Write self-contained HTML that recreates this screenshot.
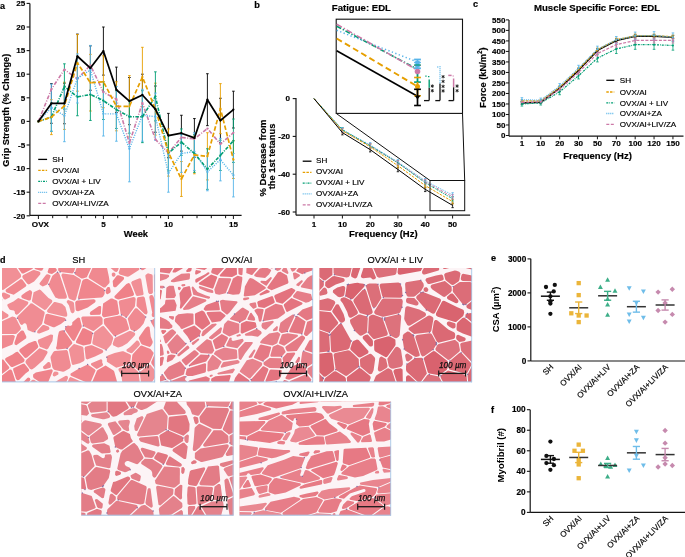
<!DOCTYPE html>
<html><head><meta charset="utf-8"><style>
html,body{margin:0;padding:0;background:#fff;width:685px;height:557px;overflow:hidden}
svg{display:block;filter:blur(0.3px);font-family:"Liberation Sans",sans-serif}
</style></head><body>
<svg width="685" height="557" viewBox="0 0 685 557">
<text x="0.00" y="8.50" font-size="9.0" font-weight="bold" text-anchor="start" fill="#000" stroke="#000" stroke-width="0.18">a</text>
<line x1="29.90" y1="3.40" x2="29.90" y2="215.40" stroke="#151515" stroke-width="1.2"/>
<line x1="29.90" y1="215.40" x2="241.60" y2="215.40" stroke="#151515" stroke-width="1.2"/>
<line x1="26.60" y1="215.80" x2="29.90" y2="215.80" stroke="#151515" stroke-width="1.1"/>
<text x="25.30" y="218.50" font-size="8.1" font-weight="bold" text-anchor="end" fill="#000" stroke="#000" stroke-width="0.18">-20</text>
<line x1="26.60" y1="192.20" x2="29.90" y2="192.20" stroke="#151515" stroke-width="1.1"/>
<text x="25.30" y="194.90" font-size="8.1" font-weight="bold" text-anchor="end" fill="#000" stroke="#000" stroke-width="0.18">-15</text>
<line x1="26.60" y1="168.60" x2="29.90" y2="168.60" stroke="#151515" stroke-width="1.1"/>
<text x="25.30" y="171.30" font-size="8.1" font-weight="bold" text-anchor="end" fill="#000" stroke="#000" stroke-width="0.18">-10</text>
<line x1="26.60" y1="145.00" x2="29.90" y2="145.00" stroke="#151515" stroke-width="1.1"/>
<text x="25.30" y="147.70" font-size="8.1" font-weight="bold" text-anchor="end" fill="#000" stroke="#000" stroke-width="0.18">-5</text>
<line x1="26.60" y1="121.40" x2="29.90" y2="121.40" stroke="#151515" stroke-width="1.1"/>
<text x="25.30" y="124.10" font-size="8.1" font-weight="bold" text-anchor="end" fill="#000" stroke="#000" stroke-width="0.18">0</text>
<line x1="26.60" y1="97.80" x2="29.90" y2="97.80" stroke="#151515" stroke-width="1.1"/>
<text x="25.30" y="100.50" font-size="8.1" font-weight="bold" text-anchor="end" fill="#000" stroke="#000" stroke-width="0.18">5</text>
<line x1="26.60" y1="74.20" x2="29.90" y2="74.20" stroke="#151515" stroke-width="1.1"/>
<text x="25.30" y="76.90" font-size="8.1" font-weight="bold" text-anchor="end" fill="#000" stroke="#000" stroke-width="0.18">10</text>
<line x1="26.60" y1="50.60" x2="29.90" y2="50.60" stroke="#151515" stroke-width="1.1"/>
<text x="25.30" y="53.30" font-size="8.1" font-weight="bold" text-anchor="end" fill="#000" stroke="#000" stroke-width="0.18">15</text>
<line x1="26.60" y1="27.00" x2="29.90" y2="27.00" stroke="#151515" stroke-width="1.1"/>
<text x="25.30" y="29.70" font-size="8.1" font-weight="bold" text-anchor="end" fill="#000" stroke="#000" stroke-width="0.18">20</text>
<line x1="26.60" y1="3.40" x2="29.90" y2="3.40" stroke="#151515" stroke-width="1.1"/>
<text x="25.30" y="6.10" font-size="8.1" font-weight="bold" text-anchor="end" fill="#000" stroke="#000" stroke-width="0.18">25</text>
<line x1="38.40" y1="215.40" x2="38.40" y2="219.00" stroke="#151515" stroke-width="1.0"/>
<line x1="52.70" y1="215.40" x2="52.70" y2="218.20" stroke="#151515" stroke-width="1.0"/>
<line x1="67.00" y1="215.40" x2="67.00" y2="218.20" stroke="#151515" stroke-width="1.0"/>
<line x1="81.30" y1="215.40" x2="81.30" y2="218.20" stroke="#151515" stroke-width="1.0"/>
<line x1="95.60" y1="215.40" x2="95.60" y2="218.20" stroke="#151515" stroke-width="1.0"/>
<line x1="103.40" y1="215.40" x2="103.40" y2="219.00" stroke="#151515" stroke-width="1.0"/>
<line x1="117.70" y1="215.40" x2="117.70" y2="218.20" stroke="#151515" stroke-width="1.0"/>
<line x1="132.00" y1="215.40" x2="132.00" y2="218.20" stroke="#151515" stroke-width="1.0"/>
<line x1="146.30" y1="215.40" x2="146.30" y2="218.20" stroke="#151515" stroke-width="1.0"/>
<line x1="160.60" y1="215.40" x2="160.60" y2="218.20" stroke="#151515" stroke-width="1.0"/>
<line x1="168.40" y1="215.40" x2="168.40" y2="219.00" stroke="#151515" stroke-width="1.0"/>
<line x1="182.70" y1="215.40" x2="182.70" y2="218.20" stroke="#151515" stroke-width="1.0"/>
<line x1="197.00" y1="215.40" x2="197.00" y2="218.20" stroke="#151515" stroke-width="1.0"/>
<line x1="211.30" y1="215.40" x2="211.30" y2="218.20" stroke="#151515" stroke-width="1.0"/>
<line x1="225.60" y1="215.40" x2="225.60" y2="218.20" stroke="#151515" stroke-width="1.0"/>
<line x1="233.40" y1="215.40" x2="233.40" y2="219.00" stroke="#151515" stroke-width="1.0"/>
<text x="40.40" y="226.80" font-size="8.1" font-weight="bold" text-anchor="middle" fill="#000" stroke="#000" stroke-width="0.18">OVX</text>
<text x="103.40" y="226.80" font-size="8.1" font-weight="bold" text-anchor="middle" fill="#000" stroke="#000" stroke-width="0.18">5</text>
<text x="168.40" y="226.80" font-size="8.1" font-weight="bold" text-anchor="middle" fill="#000" stroke="#000" stroke-width="0.18">10</text>
<text x="233.40" y="226.80" font-size="8.1" font-weight="bold" text-anchor="middle" fill="#000" stroke="#000" stroke-width="0.18">15</text>
<text x="135.90" y="237.17" font-size="9.4" font-weight="bold" text-anchor="middle" fill="#000" stroke="#000" stroke-width="0.18">Week</text>
<text x="8.60" y="110.20" font-size="9.25" font-weight="bold" text-anchor="middle" fill="#000" stroke="#000" stroke-width="0.18" transform="rotate(-90 8.60 110.20)">Grip Strength (% Change)</text>
<line x1="51.40" y1="83.64" x2="51.40" y2="123.29" stroke="#000000" stroke-width="0.9"/>
<line x1="50.10" y1="83.64" x2="52.70" y2="83.64" stroke="#000000" stroke-width="0.9"/>
<line x1="50.10" y1="123.29" x2="52.70" y2="123.29" stroke="#000000" stroke-width="0.9"/>
<line x1="64.40" y1="83.17" x2="64.40" y2="123.76" stroke="#000000" stroke-width="0.9"/>
<line x1="63.10" y1="83.17" x2="65.70" y2="83.17" stroke="#000000" stroke-width="0.9"/>
<line x1="63.10" y1="123.76" x2="65.70" y2="123.76" stroke="#000000" stroke-width="0.9"/>
<line x1="77.40" y1="34.08" x2="77.40" y2="78.45" stroke="#000000" stroke-width="0.9"/>
<line x1="76.10" y1="34.08" x2="78.70" y2="34.08" stroke="#000000" stroke-width="0.9"/>
<line x1="76.10" y1="78.45" x2="78.70" y2="78.45" stroke="#000000" stroke-width="0.9"/>
<line x1="90.40" y1="45.88" x2="90.40" y2="90.25" stroke="#000000" stroke-width="0.9"/>
<line x1="89.10" y1="45.88" x2="91.70" y2="45.88" stroke="#000000" stroke-width="0.9"/>
<line x1="89.10" y1="90.25" x2="91.70" y2="90.25" stroke="#000000" stroke-width="0.9"/>
<line x1="103.40" y1="27.00" x2="103.40" y2="75.14" stroke="#000000" stroke-width="0.9"/>
<line x1="102.10" y1="27.00" x2="104.70" y2="27.00" stroke="#000000" stroke-width="0.9"/>
<line x1="102.10" y1="75.14" x2="104.70" y2="75.14" stroke="#000000" stroke-width="0.9"/>
<line x1="116.40" y1="67.12" x2="116.40" y2="112.43" stroke="#000000" stroke-width="0.9"/>
<line x1="115.10" y1="67.12" x2="117.70" y2="67.12" stroke="#000000" stroke-width="0.9"/>
<line x1="115.10" y1="112.43" x2="117.70" y2="112.43" stroke="#000000" stroke-width="0.9"/>
<line x1="129.40" y1="77.50" x2="129.40" y2="124.70" stroke="#000000" stroke-width="0.9"/>
<line x1="128.10" y1="77.50" x2="130.70" y2="77.50" stroke="#000000" stroke-width="0.9"/>
<line x1="128.10" y1="124.70" x2="130.70" y2="124.70" stroke="#000000" stroke-width="0.9"/>
<line x1="142.40" y1="74.20" x2="142.40" y2="115.74" stroke="#000000" stroke-width="0.9"/>
<line x1="141.10" y1="74.20" x2="143.70" y2="74.20" stroke="#000000" stroke-width="0.9"/>
<line x1="141.10" y1="115.74" x2="143.70" y2="115.74" stroke="#000000" stroke-width="0.9"/>
<line x1="155.40" y1="86.00" x2="155.40" y2="132.26" stroke="#000000" stroke-width="0.9"/>
<line x1="154.10" y1="86.00" x2="156.70" y2="86.00" stroke="#000000" stroke-width="0.9"/>
<line x1="154.10" y1="132.26" x2="156.70" y2="132.26" stroke="#000000" stroke-width="0.9"/>
<line x1="168.40" y1="113.38" x2="168.40" y2="157.74" stroke="#000000" stroke-width="0.9"/>
<line x1="167.10" y1="113.38" x2="169.70" y2="113.38" stroke="#000000" stroke-width="0.9"/>
<line x1="167.10" y1="157.74" x2="169.70" y2="157.74" stroke="#000000" stroke-width="0.9"/>
<line x1="181.40" y1="115.26" x2="181.40" y2="151.14" stroke="#000000" stroke-width="0.9"/>
<line x1="180.10" y1="115.26" x2="182.70" y2="115.26" stroke="#000000" stroke-width="0.9"/>
<line x1="180.10" y1="151.14" x2="182.70" y2="151.14" stroke="#000000" stroke-width="0.9"/>
<line x1="194.40" y1="118.57" x2="194.40" y2="157.27" stroke="#000000" stroke-width="0.9"/>
<line x1="193.10" y1="118.57" x2="195.70" y2="118.57" stroke="#000000" stroke-width="0.9"/>
<line x1="193.10" y1="157.27" x2="195.70" y2="157.27" stroke="#000000" stroke-width="0.9"/>
<line x1="207.40" y1="73.73" x2="207.40" y2="125.65" stroke="#000000" stroke-width="0.9"/>
<line x1="206.10" y1="73.73" x2="208.70" y2="73.73" stroke="#000000" stroke-width="0.9"/>
<line x1="206.10" y1="125.65" x2="208.70" y2="125.65" stroke="#000000" stroke-width="0.9"/>
<line x1="220.40" y1="98.27" x2="220.40" y2="142.64" stroke="#000000" stroke-width="0.9"/>
<line x1="219.10" y1="98.27" x2="221.70" y2="98.27" stroke="#000000" stroke-width="0.9"/>
<line x1="219.10" y1="142.64" x2="221.70" y2="142.64" stroke="#000000" stroke-width="0.9"/>
<line x1="233.40" y1="91.19" x2="233.40" y2="128.01" stroke="#000000" stroke-width="0.9"/>
<line x1="232.10" y1="91.19" x2="234.70" y2="91.19" stroke="#000000" stroke-width="0.9"/>
<line x1="232.10" y1="128.01" x2="234.70" y2="128.01" stroke="#000000" stroke-width="0.9"/>
<line x1="51.40" y1="99.69" x2="51.40" y2="134.62" stroke="#E69F00" stroke-width="0.9"/>
<line x1="50.10" y1="99.69" x2="52.70" y2="99.69" stroke="#E69F00" stroke-width="0.9"/>
<line x1="50.10" y1="134.62" x2="52.70" y2="134.62" stroke="#E69F00" stroke-width="0.9"/>
<line x1="64.40" y1="82.22" x2="64.40" y2="129.42" stroke="#E69F00" stroke-width="0.9"/>
<line x1="63.10" y1="82.22" x2="65.70" y2="82.22" stroke="#E69F00" stroke-width="0.9"/>
<line x1="63.10" y1="129.42" x2="65.70" y2="129.42" stroke="#E69F00" stroke-width="0.9"/>
<line x1="77.40" y1="34.55" x2="77.40" y2="91.19" stroke="#E69F00" stroke-width="0.9"/>
<line x1="76.10" y1="34.55" x2="78.70" y2="34.55" stroke="#E69F00" stroke-width="0.9"/>
<line x1="76.10" y1="91.19" x2="78.70" y2="91.19" stroke="#E69F00" stroke-width="0.9"/>
<line x1="90.40" y1="54.38" x2="90.40" y2="111.02" stroke="#E69F00" stroke-width="0.9"/>
<line x1="89.10" y1="54.38" x2="91.70" y2="54.38" stroke="#E69F00" stroke-width="0.9"/>
<line x1="89.10" y1="111.02" x2="91.70" y2="111.02" stroke="#E69F00" stroke-width="0.9"/>
<line x1="103.40" y1="55.79" x2="103.40" y2="107.71" stroke="#E69F00" stroke-width="0.9"/>
<line x1="102.10" y1="55.79" x2="104.70" y2="55.79" stroke="#E69F00" stroke-width="0.9"/>
<line x1="102.10" y1="107.71" x2="104.70" y2="107.71" stroke="#E69F00" stroke-width="0.9"/>
<line x1="116.40" y1="81.75" x2="116.40" y2="130.84" stroke="#E69F00" stroke-width="0.9"/>
<line x1="115.10" y1="81.75" x2="117.70" y2="81.75" stroke="#E69F00" stroke-width="0.9"/>
<line x1="115.10" y1="130.84" x2="117.70" y2="130.84" stroke="#E69F00" stroke-width="0.9"/>
<line x1="129.40" y1="75.62" x2="129.40" y2="136.98" stroke="#E69F00" stroke-width="0.9"/>
<line x1="128.10" y1="75.62" x2="130.70" y2="75.62" stroke="#E69F00" stroke-width="0.9"/>
<line x1="128.10" y1="136.98" x2="130.70" y2="136.98" stroke="#E69F00" stroke-width="0.9"/>
<line x1="142.40" y1="47.30" x2="142.40" y2="106.77" stroke="#E69F00" stroke-width="0.9"/>
<line x1="141.10" y1="47.30" x2="143.70" y2="47.30" stroke="#E69F00" stroke-width="0.9"/>
<line x1="141.10" y1="106.77" x2="143.70" y2="106.77" stroke="#E69F00" stroke-width="0.9"/>
<line x1="155.40" y1="83.17" x2="155.40" y2="135.09" stroke="#E69F00" stroke-width="0.9"/>
<line x1="154.10" y1="83.17" x2="156.70" y2="83.17" stroke="#E69F00" stroke-width="0.9"/>
<line x1="154.10" y1="135.09" x2="156.70" y2="135.09" stroke="#E69F00" stroke-width="0.9"/>
<line x1="168.40" y1="128.95" x2="168.40" y2="176.15" stroke="#E69F00" stroke-width="0.9"/>
<line x1="167.10" y1="128.95" x2="169.70" y2="128.95" stroke="#E69F00" stroke-width="0.9"/>
<line x1="167.10" y1="176.15" x2="169.70" y2="176.15" stroke="#E69F00" stroke-width="0.9"/>
<line x1="181.40" y1="161.52" x2="181.40" y2="196.45" stroke="#E69F00" stroke-width="0.9"/>
<line x1="180.10" y1="161.52" x2="182.70" y2="161.52" stroke="#E69F00" stroke-width="0.9"/>
<line x1="180.10" y1="196.45" x2="182.70" y2="196.45" stroke="#E69F00" stroke-width="0.9"/>
<line x1="194.40" y1="136.03" x2="194.40" y2="173.79" stroke="#E69F00" stroke-width="0.9"/>
<line x1="193.10" y1="136.03" x2="195.70" y2="136.03" stroke="#E69F00" stroke-width="0.9"/>
<line x1="193.10" y1="173.79" x2="195.70" y2="173.79" stroke="#E69F00" stroke-width="0.9"/>
<line x1="207.40" y1="132.73" x2="207.40" y2="179.93" stroke="#E69F00" stroke-width="0.9"/>
<line x1="206.10" y1="132.73" x2="208.70" y2="132.73" stroke="#E69F00" stroke-width="0.9"/>
<line x1="206.10" y1="179.93" x2="208.70" y2="179.93" stroke="#E69F00" stroke-width="0.9"/>
<line x1="220.40" y1="83.64" x2="220.40" y2="133.67" stroke="#E69F00" stroke-width="0.9"/>
<line x1="219.10" y1="83.64" x2="221.70" y2="83.64" stroke="#E69F00" stroke-width="0.9"/>
<line x1="219.10" y1="133.67" x2="221.70" y2="133.67" stroke="#E69F00" stroke-width="0.9"/>
<line x1="233.40" y1="140.75" x2="233.40" y2="178.51" stroke="#E69F00" stroke-width="0.9"/>
<line x1="232.10" y1="140.75" x2="234.70" y2="140.75" stroke="#E69F00" stroke-width="0.9"/>
<line x1="232.10" y1="178.51" x2="234.70" y2="178.51" stroke="#E69F00" stroke-width="0.9"/>
<line x1="51.40" y1="102.99" x2="51.40" y2="131.31" stroke="#009E73" stroke-width="0.9"/>
<line x1="50.10" y1="102.99" x2="52.70" y2="102.99" stroke="#009E73" stroke-width="0.9"/>
<line x1="50.10" y1="131.31" x2="52.70" y2="131.31" stroke="#009E73" stroke-width="0.9"/>
<line x1="64.40" y1="63.82" x2="64.40" y2="109.13" stroke="#009E73" stroke-width="0.9"/>
<line x1="63.10" y1="63.82" x2="65.70" y2="63.82" stroke="#009E73" stroke-width="0.9"/>
<line x1="63.10" y1="109.13" x2="65.70" y2="109.13" stroke="#009E73" stroke-width="0.9"/>
<line x1="77.40" y1="77.98" x2="77.40" y2="115.74" stroke="#009E73" stroke-width="0.9"/>
<line x1="76.10" y1="77.98" x2="78.70" y2="77.98" stroke="#009E73" stroke-width="0.9"/>
<line x1="76.10" y1="115.74" x2="78.70" y2="115.74" stroke="#009E73" stroke-width="0.9"/>
<line x1="90.40" y1="68.54" x2="90.40" y2="120.46" stroke="#009E73" stroke-width="0.9"/>
<line x1="89.10" y1="68.54" x2="91.70" y2="68.54" stroke="#009E73" stroke-width="0.9"/>
<line x1="89.10" y1="120.46" x2="91.70" y2="120.46" stroke="#009E73" stroke-width="0.9"/>
<line x1="103.40" y1="81.75" x2="103.40" y2="119.51" stroke="#009E73" stroke-width="0.9"/>
<line x1="102.10" y1="81.75" x2="104.70" y2="81.75" stroke="#009E73" stroke-width="0.9"/>
<line x1="102.10" y1="119.51" x2="104.70" y2="119.51" stroke="#009E73" stroke-width="0.9"/>
<line x1="116.40" y1="90.72" x2="116.40" y2="128.48" stroke="#009E73" stroke-width="0.9"/>
<line x1="115.10" y1="90.72" x2="117.70" y2="90.72" stroke="#009E73" stroke-width="0.9"/>
<line x1="115.10" y1="128.48" x2="117.70" y2="128.48" stroke="#009E73" stroke-width="0.9"/>
<line x1="129.40" y1="100.16" x2="129.40" y2="133.20" stroke="#009E73" stroke-width="0.9"/>
<line x1="128.10" y1="100.16" x2="130.70" y2="100.16" stroke="#009E73" stroke-width="0.9"/>
<line x1="128.10" y1="133.20" x2="130.70" y2="133.20" stroke="#009E73" stroke-width="0.9"/>
<line x1="142.40" y1="90.72" x2="142.40" y2="142.64" stroke="#009E73" stroke-width="0.9"/>
<line x1="141.10" y1="90.72" x2="143.70" y2="90.72" stroke="#009E73" stroke-width="0.9"/>
<line x1="141.10" y1="142.64" x2="143.70" y2="142.64" stroke="#009E73" stroke-width="0.9"/>
<line x1="155.40" y1="71.84" x2="155.40" y2="120.93" stroke="#009E73" stroke-width="0.9"/>
<line x1="154.10" y1="71.84" x2="156.70" y2="71.84" stroke="#009E73" stroke-width="0.9"/>
<line x1="154.10" y1="120.93" x2="156.70" y2="120.93" stroke="#009E73" stroke-width="0.9"/>
<line x1="168.40" y1="135.09" x2="168.40" y2="170.96" stroke="#009E73" stroke-width="0.9"/>
<line x1="167.10" y1="135.09" x2="169.70" y2="135.09" stroke="#009E73" stroke-width="0.9"/>
<line x1="167.10" y1="170.96" x2="169.70" y2="170.96" stroke="#009E73" stroke-width="0.9"/>
<line x1="181.40" y1="128.95" x2="181.40" y2="155.38" stroke="#009E73" stroke-width="0.9"/>
<line x1="180.10" y1="128.95" x2="182.70" y2="128.95" stroke="#009E73" stroke-width="0.9"/>
<line x1="180.10" y1="155.38" x2="182.70" y2="155.38" stroke="#009E73" stroke-width="0.9"/>
<line x1="194.40" y1="134.62" x2="194.40" y2="172.38" stroke="#009E73" stroke-width="0.9"/>
<line x1="193.10" y1="134.62" x2="195.70" y2="134.62" stroke="#009E73" stroke-width="0.9"/>
<line x1="193.10" y1="172.38" x2="195.70" y2="172.38" stroke="#009E73" stroke-width="0.9"/>
<line x1="207.40" y1="148.78" x2="207.40" y2="189.37" stroke="#009E73" stroke-width="0.9"/>
<line x1="206.10" y1="148.78" x2="208.70" y2="148.78" stroke="#009E73" stroke-width="0.9"/>
<line x1="206.10" y1="189.37" x2="208.70" y2="189.37" stroke="#009E73" stroke-width="0.9"/>
<line x1="220.40" y1="140.28" x2="220.40" y2="170.49" stroke="#009E73" stroke-width="0.9"/>
<line x1="219.10" y1="140.28" x2="221.70" y2="140.28" stroke="#009E73" stroke-width="0.9"/>
<line x1="219.10" y1="170.49" x2="221.70" y2="170.49" stroke="#009E73" stroke-width="0.9"/>
<line x1="233.40" y1="119.04" x2="233.40" y2="162.46" stroke="#009E73" stroke-width="0.9"/>
<line x1="232.10" y1="119.04" x2="234.70" y2="119.04" stroke="#009E73" stroke-width="0.9"/>
<line x1="232.10" y1="162.46" x2="234.70" y2="162.46" stroke="#009E73" stroke-width="0.9"/>
<line x1="51.40" y1="84.11" x2="51.40" y2="131.31" stroke="#56B4E9" stroke-width="0.9"/>
<line x1="50.10" y1="84.11" x2="52.70" y2="84.11" stroke="#56B4E9" stroke-width="0.9"/>
<line x1="50.10" y1="131.31" x2="52.70" y2="131.31" stroke="#56B4E9" stroke-width="0.9"/>
<line x1="64.40" y1="89.78" x2="64.40" y2="141.70" stroke="#56B4E9" stroke-width="0.9"/>
<line x1="63.10" y1="89.78" x2="65.70" y2="89.78" stroke="#56B4E9" stroke-width="0.9"/>
<line x1="63.10" y1="141.70" x2="65.70" y2="141.70" stroke="#56B4E9" stroke-width="0.9"/>
<line x1="77.40" y1="53.90" x2="77.40" y2="102.99" stroke="#56B4E9" stroke-width="0.9"/>
<line x1="76.10" y1="53.90" x2="78.70" y2="53.90" stroke="#56B4E9" stroke-width="0.9"/>
<line x1="76.10" y1="102.99" x2="78.70" y2="102.99" stroke="#56B4E9" stroke-width="0.9"/>
<line x1="90.40" y1="45.41" x2="90.40" y2="94.50" stroke="#56B4E9" stroke-width="0.9"/>
<line x1="89.10" y1="45.41" x2="91.70" y2="45.41" stroke="#56B4E9" stroke-width="0.9"/>
<line x1="89.10" y1="94.50" x2="91.70" y2="94.50" stroke="#56B4E9" stroke-width="0.9"/>
<line x1="103.40" y1="91.66" x2="103.40" y2="136.03" stroke="#56B4E9" stroke-width="0.9"/>
<line x1="102.10" y1="91.66" x2="104.70" y2="91.66" stroke="#56B4E9" stroke-width="0.9"/>
<line x1="102.10" y1="136.03" x2="104.70" y2="136.03" stroke="#56B4E9" stroke-width="0.9"/>
<line x1="116.40" y1="86.47" x2="116.40" y2="141.22" stroke="#56B4E9" stroke-width="0.9"/>
<line x1="115.10" y1="86.47" x2="117.70" y2="86.47" stroke="#56B4E9" stroke-width="0.9"/>
<line x1="115.10" y1="141.22" x2="117.70" y2="141.22" stroke="#56B4E9" stroke-width="0.9"/>
<line x1="129.40" y1="115.74" x2="129.40" y2="181.82" stroke="#56B4E9" stroke-width="0.9"/>
<line x1="128.10" y1="115.74" x2="130.70" y2="115.74" stroke="#56B4E9" stroke-width="0.9"/>
<line x1="128.10" y1="181.82" x2="130.70" y2="181.82" stroke="#56B4E9" stroke-width="0.9"/>
<line x1="142.40" y1="89.30" x2="142.40" y2="141.22" stroke="#56B4E9" stroke-width="0.9"/>
<line x1="141.10" y1="89.30" x2="143.70" y2="89.30" stroke="#56B4E9" stroke-width="0.9"/>
<line x1="141.10" y1="141.22" x2="143.70" y2="141.22" stroke="#56B4E9" stroke-width="0.9"/>
<line x1="155.40" y1="93.08" x2="155.40" y2="140.28" stroke="#56B4E9" stroke-width="0.9"/>
<line x1="154.10" y1="93.08" x2="156.70" y2="93.08" stroke="#56B4E9" stroke-width="0.9"/>
<line x1="154.10" y1="140.28" x2="156.70" y2="140.28" stroke="#56B4E9" stroke-width="0.9"/>
<line x1="168.40" y1="154.44" x2="168.40" y2="192.20" stroke="#56B4E9" stroke-width="0.9"/>
<line x1="167.10" y1="154.44" x2="169.70" y2="154.44" stroke="#56B4E9" stroke-width="0.9"/>
<line x1="167.10" y1="192.20" x2="169.70" y2="192.20" stroke="#56B4E9" stroke-width="0.9"/>
<line x1="181.40" y1="134.62" x2="181.40" y2="172.38" stroke="#56B4E9" stroke-width="0.9"/>
<line x1="180.10" y1="134.62" x2="182.70" y2="134.62" stroke="#56B4E9" stroke-width="0.9"/>
<line x1="180.10" y1="172.38" x2="182.70" y2="172.38" stroke="#56B4E9" stroke-width="0.9"/>
<line x1="194.40" y1="132.73" x2="194.40" y2="170.49" stroke="#56B4E9" stroke-width="0.9"/>
<line x1="193.10" y1="132.73" x2="195.70" y2="132.73" stroke="#56B4E9" stroke-width="0.9"/>
<line x1="193.10" y1="170.49" x2="195.70" y2="170.49" stroke="#56B4E9" stroke-width="0.9"/>
<line x1="207.40" y1="153.02" x2="207.40" y2="190.78" stroke="#56B4E9" stroke-width="0.9"/>
<line x1="206.10" y1="153.02" x2="208.70" y2="153.02" stroke="#56B4E9" stroke-width="0.9"/>
<line x1="206.10" y1="190.78" x2="208.70" y2="190.78" stroke="#56B4E9" stroke-width="0.9"/>
<line x1="220.40" y1="138.39" x2="220.40" y2="180.87" stroke="#56B4E9" stroke-width="0.9"/>
<line x1="219.10" y1="138.39" x2="221.70" y2="138.39" stroke="#56B4E9" stroke-width="0.9"/>
<line x1="219.10" y1="180.87" x2="221.70" y2="180.87" stroke="#56B4E9" stroke-width="0.9"/>
<line x1="233.40" y1="153.50" x2="233.40" y2="196.92" stroke="#56B4E9" stroke-width="0.9"/>
<line x1="232.10" y1="153.50" x2="234.70" y2="153.50" stroke="#56B4E9" stroke-width="0.9"/>
<line x1="232.10" y1="196.92" x2="234.70" y2="196.92" stroke="#56B4E9" stroke-width="0.9"/>
<polyline points="38.40,121.40 51.40,89.30 64.40,69.48 77.40,78.92 90.40,65.23 103.40,92.14 116.40,99.22 129.40,143.11 142.40,102.99 155.40,139.34 168.40,153.02 181.40,137.45 194.40,138.86 207.40,128.48 220.40,144.06 233.40,132.73" fill="none" stroke="#CC79A7" stroke-width="1.6" stroke-dasharray="4 1.5 1 1.5" stroke-linejoin="round"/>
<circle cx="38.40" cy="121.40" r="1.1" fill="#CC79A7"/>
<circle cx="51.40" cy="89.30" r="1.1" fill="#CC79A7"/>
<circle cx="64.40" cy="69.48" r="1.1" fill="#CC79A7"/>
<circle cx="77.40" cy="78.92" r="1.1" fill="#CC79A7"/>
<circle cx="90.40" cy="65.23" r="1.1" fill="#CC79A7"/>
<circle cx="103.40" cy="92.14" r="1.1" fill="#CC79A7"/>
<circle cx="116.40" cy="99.22" r="1.1" fill="#CC79A7"/>
<circle cx="129.40" cy="143.11" r="1.1" fill="#CC79A7"/>
<circle cx="142.40" cy="102.99" r="1.1" fill="#CC79A7"/>
<circle cx="155.40" cy="139.34" r="1.1" fill="#CC79A7"/>
<circle cx="168.40" cy="153.02" r="1.1" fill="#CC79A7"/>
<circle cx="181.40" cy="137.45" r="1.1" fill="#CC79A7"/>
<circle cx="194.40" cy="138.86" r="1.1" fill="#CC79A7"/>
<circle cx="207.40" cy="128.48" r="1.1" fill="#CC79A7"/>
<circle cx="220.40" cy="144.06" r="1.1" fill="#CC79A7"/>
<circle cx="233.40" cy="132.73" r="1.1" fill="#CC79A7"/>
<polyline points="38.40,121.40 51.40,107.71 64.40,115.74 77.40,78.45 90.40,69.95 103.40,113.85 116.40,113.85 129.40,148.78 142.40,115.26 155.40,116.68 168.40,173.32 181.40,153.50 194.40,151.61 207.40,171.90 220.40,159.63 233.40,175.21" fill="none" stroke="#56B4E9" stroke-width="1.4" stroke-dasharray="1.1 1.3" stroke-linejoin="round"/>
<circle cx="38.40" cy="121.40" r="1.1" fill="#56B4E9"/>
<circle cx="51.40" cy="107.71" r="1.1" fill="#56B4E9"/>
<circle cx="64.40" cy="115.74" r="1.1" fill="#56B4E9"/>
<circle cx="77.40" cy="78.45" r="1.1" fill="#56B4E9"/>
<circle cx="90.40" cy="69.95" r="1.1" fill="#56B4E9"/>
<circle cx="103.40" cy="113.85" r="1.1" fill="#56B4E9"/>
<circle cx="116.40" cy="113.85" r="1.1" fill="#56B4E9"/>
<circle cx="129.40" cy="148.78" r="1.1" fill="#56B4E9"/>
<circle cx="142.40" cy="115.26" r="1.1" fill="#56B4E9"/>
<circle cx="155.40" cy="116.68" r="1.1" fill="#56B4E9"/>
<circle cx="168.40" cy="173.32" r="1.1" fill="#56B4E9"/>
<circle cx="181.40" cy="153.50" r="1.1" fill="#56B4E9"/>
<circle cx="194.40" cy="151.61" r="1.1" fill="#56B4E9"/>
<circle cx="207.40" cy="171.90" r="1.1" fill="#56B4E9"/>
<circle cx="220.40" cy="159.63" r="1.1" fill="#56B4E9"/>
<circle cx="233.40" cy="175.21" r="1.1" fill="#56B4E9"/>
<polyline points="38.40,121.40 51.40,117.15 64.40,86.47 77.40,96.86 90.40,94.50 103.40,100.63 116.40,109.60 129.40,116.68 142.40,116.68 155.40,96.38 168.40,153.02 181.40,142.17 194.40,153.50 207.40,169.07 220.40,155.38 233.40,140.75" fill="none" stroke="#009E73" stroke-width="1.6" stroke-dasharray="3.5 1.3 1 1.3" stroke-linejoin="round"/>
<circle cx="38.40" cy="121.40" r="1.1" fill="#009E73"/>
<circle cx="51.40" cy="117.15" r="1.1" fill="#009E73"/>
<circle cx="64.40" cy="86.47" r="1.1" fill="#009E73"/>
<circle cx="77.40" cy="96.86" r="1.1" fill="#009E73"/>
<circle cx="90.40" cy="94.50" r="1.1" fill="#009E73"/>
<circle cx="103.40" cy="100.63" r="1.1" fill="#009E73"/>
<circle cx="116.40" cy="109.60" r="1.1" fill="#009E73"/>
<circle cx="129.40" cy="116.68" r="1.1" fill="#009E73"/>
<circle cx="142.40" cy="116.68" r="1.1" fill="#009E73"/>
<circle cx="155.40" cy="96.38" r="1.1" fill="#009E73"/>
<circle cx="168.40" cy="153.02" r="1.1" fill="#009E73"/>
<circle cx="181.40" cy="142.17" r="1.1" fill="#009E73"/>
<circle cx="194.40" cy="153.50" r="1.1" fill="#009E73"/>
<circle cx="207.40" cy="169.07" r="1.1" fill="#009E73"/>
<circle cx="220.40" cy="155.38" r="1.1" fill="#009E73"/>
<circle cx="233.40" cy="140.75" r="1.1" fill="#009E73"/>
<polyline points="38.40,121.40 51.40,117.15 64.40,105.82 77.40,62.87 90.40,82.70 103.40,81.75 116.40,106.30 129.40,106.30 142.40,77.03 155.40,109.13 168.40,152.55 181.40,178.98 194.40,154.91 207.40,156.33 220.40,108.66 233.40,159.63" fill="none" stroke="#E69F00" stroke-width="1.7" stroke-dasharray="4.5 2.2" stroke-linejoin="round"/>
<circle cx="38.40" cy="121.40" r="1.1" fill="#E69F00"/>
<circle cx="51.40" cy="117.15" r="1.1" fill="#E69F00"/>
<circle cx="64.40" cy="105.82" r="1.1" fill="#E69F00"/>
<circle cx="77.40" cy="62.87" r="1.1" fill="#E69F00"/>
<circle cx="90.40" cy="82.70" r="1.1" fill="#E69F00"/>
<circle cx="103.40" cy="81.75" r="1.1" fill="#E69F00"/>
<circle cx="116.40" cy="106.30" r="1.1" fill="#E69F00"/>
<circle cx="129.40" cy="106.30" r="1.1" fill="#E69F00"/>
<circle cx="142.40" cy="77.03" r="1.1" fill="#E69F00"/>
<circle cx="155.40" cy="109.13" r="1.1" fill="#E69F00"/>
<circle cx="168.40" cy="152.55" r="1.1" fill="#E69F00"/>
<circle cx="181.40" cy="178.98" r="1.1" fill="#E69F00"/>
<circle cx="194.40" cy="154.91" r="1.1" fill="#E69F00"/>
<circle cx="207.40" cy="156.33" r="1.1" fill="#E69F00"/>
<circle cx="220.40" cy="108.66" r="1.1" fill="#E69F00"/>
<circle cx="233.40" cy="159.63" r="1.1" fill="#E69F00"/>
<polyline points="38.40,121.40 51.40,103.46 64.40,103.46 77.40,56.26 90.40,68.06 103.40,51.07 116.40,89.78 129.40,101.10 142.40,94.97 155.40,109.13 168.40,135.56 181.40,133.20 194.40,137.92 207.40,99.69 220.40,120.46 233.40,109.60" fill="none" stroke="#000000" stroke-width="1.75" stroke-linejoin="round"/>
<circle cx="38.40" cy="121.40" r="1.1" fill="#000000"/>
<circle cx="51.40" cy="103.46" r="1.1" fill="#000000"/>
<circle cx="64.40" cy="103.46" r="1.1" fill="#000000"/>
<circle cx="77.40" cy="56.26" r="1.1" fill="#000000"/>
<circle cx="90.40" cy="68.06" r="1.1" fill="#000000"/>
<circle cx="103.40" cy="51.07" r="1.1" fill="#000000"/>
<circle cx="116.40" cy="89.78" r="1.1" fill="#000000"/>
<circle cx="129.40" cy="101.10" r="1.1" fill="#000000"/>
<circle cx="142.40" cy="94.97" r="1.1" fill="#000000"/>
<circle cx="155.40" cy="109.13" r="1.1" fill="#000000"/>
<circle cx="168.40" cy="135.56" r="1.1" fill="#000000"/>
<circle cx="181.40" cy="133.20" r="1.1" fill="#000000"/>
<circle cx="194.40" cy="137.92" r="1.1" fill="#000000"/>
<circle cx="207.40" cy="99.69" r="1.1" fill="#000000"/>
<circle cx="220.40" cy="120.46" r="1.1" fill="#000000"/>
<circle cx="233.40" cy="109.60" r="1.1" fill="#000000"/>
<line x1="38.20" y1="159.40" x2="47.10" y2="159.40" stroke="#000000" stroke-width="1.3"/>
<text x="52.30" y="161.90" font-size="8.1" font-weight="normal" text-anchor="start" fill="#000" stroke="#000" stroke-width="0.18">SH</text>
<line x1="38.20" y1="170.40" x2="47.10" y2="170.40" stroke="#E69F00" stroke-width="1.3" stroke-dasharray="2.5 1.2"/>
<text x="52.30" y="172.90" font-size="8.1" font-weight="normal" text-anchor="start" fill="#000" stroke="#000" stroke-width="0.18">OVX/AI</text>
<line x1="38.20" y1="181.40" x2="47.10" y2="181.40" stroke="#009E73" stroke-width="1.3" stroke-dasharray="2 1 0.8 1"/>
<text x="52.30" y="183.90" font-size="8.1" font-weight="normal" text-anchor="start" fill="#000" stroke="#000" stroke-width="0.18">OVX/AI + LIV</text>
<line x1="38.20" y1="192.40" x2="47.10" y2="192.40" stroke="#56B4E9" stroke-width="1.3" stroke-dasharray="1 1"/>
<text x="52.30" y="194.90" font-size="8.1" font-weight="normal" text-anchor="start" fill="#000" stroke="#000" stroke-width="0.18">OVX/AI+ZA</text>
<line x1="38.20" y1="203.40" x2="47.10" y2="203.40" stroke="#CC79A7" stroke-width="1.3" stroke-dasharray="3 1.5"/>
<text x="52.30" y="205.90" font-size="8.1" font-weight="normal" text-anchor="start" fill="#000" stroke="#000" stroke-width="0.18">OVX/AI+LIV/ZA</text>
<text x="254.30" y="8.40" font-size="9.2" font-weight="bold" text-anchor="start" fill="#000" stroke="#000" stroke-width="0.18">b</text>
<text x="361.40" y="10.94" font-size="9.6" font-weight="bold" text-anchor="middle" fill="#000" stroke="#000" stroke-width="0.18">Fatigue: EDL</text>
<line x1="296.00" y1="98.10" x2="296.00" y2="215.20" stroke="#151515" stroke-width="1.2"/>
<line x1="296.00" y1="215.20" x2="470.20" y2="215.20" stroke="#151515" stroke-width="1.2"/>
<line x1="292.70" y1="98.60" x2="296.00" y2="98.60" stroke="#151515" stroke-width="1.1"/>
<text x="290.00" y="101.30" font-size="8.1" font-weight="bold" text-anchor="end" fill="#000" stroke="#000" stroke-width="0.18">0</text>
<line x1="292.70" y1="136.40" x2="296.00" y2="136.40" stroke="#151515" stroke-width="1.1"/>
<text x="290.00" y="139.10" font-size="8.1" font-weight="bold" text-anchor="end" fill="#000" stroke="#000" stroke-width="0.18">-20</text>
<line x1="292.70" y1="174.20" x2="296.00" y2="174.20" stroke="#151515" stroke-width="1.1"/>
<text x="290.00" y="176.90" font-size="8.1" font-weight="bold" text-anchor="end" fill="#000" stroke="#000" stroke-width="0.18">-40</text>
<line x1="292.70" y1="212.00" x2="296.00" y2="212.00" stroke="#151515" stroke-width="1.1"/>
<text x="290.00" y="214.70" font-size="8.1" font-weight="bold" text-anchor="end" fill="#000" stroke="#000" stroke-width="0.18">-60</text>
<line x1="314.00" y1="215.20" x2="314.00" y2="218.50" stroke="#151515" stroke-width="1.0"/>
<text x="314.00" y="227.00" font-size="8.1" font-weight="bold" text-anchor="middle" fill="#000" stroke="#000" stroke-width="0.18">1</text>
<line x1="342.40" y1="215.20" x2="342.40" y2="218.50" stroke="#151515" stroke-width="1.0"/>
<text x="342.40" y="227.00" font-size="8.1" font-weight="bold" text-anchor="middle" fill="#000" stroke="#000" stroke-width="0.18">10</text>
<line x1="370.20" y1="215.20" x2="370.20" y2="218.50" stroke="#151515" stroke-width="1.0"/>
<text x="370.20" y="227.00" font-size="8.1" font-weight="bold" text-anchor="middle" fill="#000" stroke="#000" stroke-width="0.18">20</text>
<line x1="397.90" y1="215.20" x2="397.90" y2="218.50" stroke="#151515" stroke-width="1.0"/>
<text x="397.90" y="227.00" font-size="8.1" font-weight="bold" text-anchor="middle" fill="#000" stroke="#000" stroke-width="0.18">30</text>
<line x1="425.20" y1="215.20" x2="425.20" y2="218.50" stroke="#151515" stroke-width="1.0"/>
<text x="425.20" y="227.00" font-size="8.1" font-weight="bold" text-anchor="middle" fill="#000" stroke="#000" stroke-width="0.18">40</text>
<line x1="452.60" y1="215.20" x2="452.60" y2="218.50" stroke="#151515" stroke-width="1.0"/>
<text x="452.60" y="227.00" font-size="8.1" font-weight="bold" text-anchor="middle" fill="#000" stroke="#000" stroke-width="0.18">50</text>
<text x="383.30" y="236.50" font-size="9.5" font-weight="bold" text-anchor="middle" fill="#000" stroke="#000" stroke-width="0.18">Frequency (Hz)</text>
<text x="266.20" y="158.00" font-size="9.5" font-weight="bold" text-anchor="middle" fill="#000" stroke="#000" stroke-width="0.18" transform="rotate(-90 266.20 158.00)">% Decrease from</text>
<text x="275.40" y="156.50" font-size="9.3" font-weight="bold" text-anchor="middle" fill="#000" stroke="#000" stroke-width="0.18" transform="rotate(-90 275.40 156.50)">the 1st tetanus</text>
<line x1="342.40" y1="130.35" x2="342.40" y2="134.89" stroke="#000000" stroke-width="0.8"/>
<line x1="341.20" y1="130.35" x2="343.60" y2="130.35" stroke="#000000" stroke-width="0.8"/>
<line x1="341.20" y1="134.89" x2="343.60" y2="134.89" stroke="#000000" stroke-width="0.8"/>
<line x1="370.20" y1="147.36" x2="370.20" y2="151.90" stroke="#000000" stroke-width="0.8"/>
<line x1="369.00" y1="147.36" x2="371.40" y2="147.36" stroke="#000000" stroke-width="0.8"/>
<line x1="369.00" y1="151.90" x2="371.40" y2="151.90" stroke="#000000" stroke-width="0.8"/>
<line x1="397.90" y1="167.21" x2="397.90" y2="171.74" stroke="#000000" stroke-width="0.8"/>
<line x1="396.70" y1="167.21" x2="399.10" y2="167.21" stroke="#000000" stroke-width="0.8"/>
<line x1="396.70" y1="171.74" x2="399.10" y2="171.74" stroke="#000000" stroke-width="0.8"/>
<line x1="425.20" y1="187.05" x2="425.20" y2="191.59" stroke="#000000" stroke-width="0.8"/>
<line x1="424.00" y1="187.05" x2="426.40" y2="187.05" stroke="#000000" stroke-width="0.8"/>
<line x1="424.00" y1="191.59" x2="426.40" y2="191.59" stroke="#000000" stroke-width="0.8"/>
<line x1="452.60" y1="203.12" x2="452.60" y2="207.65" stroke="#000000" stroke-width="0.8"/>
<line x1="451.40" y1="203.12" x2="453.80" y2="203.12" stroke="#000000" stroke-width="0.8"/>
<line x1="451.40" y1="207.65" x2="453.80" y2="207.65" stroke="#000000" stroke-width="0.8"/>
<line x1="342.40" y1="128.46" x2="342.40" y2="133.00" stroke="#E69F00" stroke-width="0.8"/>
<line x1="341.20" y1="128.46" x2="343.60" y2="128.46" stroke="#E69F00" stroke-width="0.8"/>
<line x1="341.20" y1="133.00" x2="343.60" y2="133.00" stroke="#E69F00" stroke-width="0.8"/>
<line x1="370.20" y1="144.53" x2="370.20" y2="149.06" stroke="#E69F00" stroke-width="0.8"/>
<line x1="369.00" y1="144.53" x2="371.40" y2="144.53" stroke="#E69F00" stroke-width="0.8"/>
<line x1="369.00" y1="149.06" x2="371.40" y2="149.06" stroke="#E69F00" stroke-width="0.8"/>
<line x1="397.90" y1="163.43" x2="397.90" y2="167.96" stroke="#E69F00" stroke-width="0.8"/>
<line x1="396.70" y1="163.43" x2="399.10" y2="163.43" stroke="#E69F00" stroke-width="0.8"/>
<line x1="396.70" y1="167.96" x2="399.10" y2="167.96" stroke="#E69F00" stroke-width="0.8"/>
<line x1="425.20" y1="183.27" x2="425.20" y2="187.81" stroke="#E69F00" stroke-width="0.8"/>
<line x1="424.00" y1="183.27" x2="426.40" y2="183.27" stroke="#E69F00" stroke-width="0.8"/>
<line x1="424.00" y1="187.81" x2="426.40" y2="187.81" stroke="#E69F00" stroke-width="0.8"/>
<line x1="452.60" y1="199.34" x2="452.60" y2="203.87" stroke="#E69F00" stroke-width="0.8"/>
<line x1="451.40" y1="199.34" x2="453.80" y2="199.34" stroke="#E69F00" stroke-width="0.8"/>
<line x1="451.40" y1="203.87" x2="453.80" y2="203.87" stroke="#E69F00" stroke-width="0.8"/>
<line x1="342.40" y1="127.52" x2="342.40" y2="132.05" stroke="#009E73" stroke-width="0.8"/>
<line x1="341.20" y1="127.52" x2="343.60" y2="127.52" stroke="#009E73" stroke-width="0.8"/>
<line x1="341.20" y1="132.05" x2="343.60" y2="132.05" stroke="#009E73" stroke-width="0.8"/>
<line x1="370.20" y1="143.58" x2="370.20" y2="148.12" stroke="#009E73" stroke-width="0.8"/>
<line x1="369.00" y1="143.58" x2="371.40" y2="143.58" stroke="#009E73" stroke-width="0.8"/>
<line x1="369.00" y1="148.12" x2="371.40" y2="148.12" stroke="#009E73" stroke-width="0.8"/>
<line x1="397.90" y1="160.59" x2="397.90" y2="165.13" stroke="#009E73" stroke-width="0.8"/>
<line x1="396.70" y1="160.59" x2="399.10" y2="160.59" stroke="#009E73" stroke-width="0.8"/>
<line x1="396.70" y1="165.13" x2="399.10" y2="165.13" stroke="#009E73" stroke-width="0.8"/>
<line x1="425.20" y1="180.44" x2="425.20" y2="184.97" stroke="#009E73" stroke-width="0.8"/>
<line x1="424.00" y1="180.44" x2="426.40" y2="180.44" stroke="#009E73" stroke-width="0.8"/>
<line x1="424.00" y1="184.97" x2="426.40" y2="184.97" stroke="#009E73" stroke-width="0.8"/>
<line x1="452.60" y1="196.50" x2="452.60" y2="201.04" stroke="#009E73" stroke-width="0.8"/>
<line x1="451.40" y1="196.50" x2="453.80" y2="196.50" stroke="#009E73" stroke-width="0.8"/>
<line x1="451.40" y1="201.04" x2="453.80" y2="201.04" stroke="#009E73" stroke-width="0.8"/>
<line x1="342.40" y1="127.52" x2="342.40" y2="132.05" stroke="#56B4E9" stroke-width="0.8"/>
<line x1="341.20" y1="127.52" x2="343.60" y2="127.52" stroke="#56B4E9" stroke-width="0.8"/>
<line x1="341.20" y1="132.05" x2="343.60" y2="132.05" stroke="#56B4E9" stroke-width="0.8"/>
<line x1="370.20" y1="142.64" x2="370.20" y2="147.17" stroke="#56B4E9" stroke-width="0.8"/>
<line x1="369.00" y1="142.64" x2="371.40" y2="142.64" stroke="#56B4E9" stroke-width="0.8"/>
<line x1="369.00" y1="147.17" x2="371.40" y2="147.17" stroke="#56B4E9" stroke-width="0.8"/>
<line x1="397.90" y1="159.65" x2="397.90" y2="164.18" stroke="#56B4E9" stroke-width="0.8"/>
<line x1="396.70" y1="159.65" x2="399.10" y2="159.65" stroke="#56B4E9" stroke-width="0.8"/>
<line x1="396.70" y1="164.18" x2="399.10" y2="164.18" stroke="#56B4E9" stroke-width="0.8"/>
<line x1="425.20" y1="178.55" x2="425.20" y2="183.08" stroke="#56B4E9" stroke-width="0.8"/>
<line x1="424.00" y1="178.55" x2="426.40" y2="178.55" stroke="#56B4E9" stroke-width="0.8"/>
<line x1="424.00" y1="183.08" x2="426.40" y2="183.08" stroke="#56B4E9" stroke-width="0.8"/>
<line x1="452.60" y1="192.72" x2="452.60" y2="197.26" stroke="#56B4E9" stroke-width="0.8"/>
<line x1="451.40" y1="192.72" x2="453.80" y2="192.72" stroke="#56B4E9" stroke-width="0.8"/>
<line x1="451.40" y1="197.26" x2="453.80" y2="197.26" stroke="#56B4E9" stroke-width="0.8"/>
<line x1="342.40" y1="128.46" x2="342.40" y2="133.00" stroke="#CC79A7" stroke-width="0.8"/>
<line x1="341.20" y1="128.46" x2="343.60" y2="128.46" stroke="#CC79A7" stroke-width="0.8"/>
<line x1="341.20" y1="133.00" x2="343.60" y2="133.00" stroke="#CC79A7" stroke-width="0.8"/>
<line x1="370.20" y1="143.58" x2="370.20" y2="148.12" stroke="#CC79A7" stroke-width="0.8"/>
<line x1="369.00" y1="143.58" x2="371.40" y2="143.58" stroke="#CC79A7" stroke-width="0.8"/>
<line x1="369.00" y1="148.12" x2="371.40" y2="148.12" stroke="#CC79A7" stroke-width="0.8"/>
<line x1="397.90" y1="160.59" x2="397.90" y2="165.13" stroke="#CC79A7" stroke-width="0.8"/>
<line x1="396.70" y1="160.59" x2="399.10" y2="160.59" stroke="#CC79A7" stroke-width="0.8"/>
<line x1="396.70" y1="165.13" x2="399.10" y2="165.13" stroke="#CC79A7" stroke-width="0.8"/>
<line x1="425.20" y1="179.49" x2="425.20" y2="184.03" stroke="#CC79A7" stroke-width="0.8"/>
<line x1="424.00" y1="179.49" x2="426.40" y2="179.49" stroke="#CC79A7" stroke-width="0.8"/>
<line x1="424.00" y1="184.03" x2="426.40" y2="184.03" stroke="#CC79A7" stroke-width="0.8"/>
<line x1="452.60" y1="194.61" x2="452.60" y2="199.15" stroke="#CC79A7" stroke-width="0.8"/>
<line x1="451.40" y1="194.61" x2="453.80" y2="194.61" stroke="#CC79A7" stroke-width="0.8"/>
<line x1="451.40" y1="199.15" x2="453.80" y2="199.15" stroke="#CC79A7" stroke-width="0.8"/>
<polyline points="314.00,98.60 342.40,130.73 370.20,145.85 397.90,162.86 425.20,181.76 452.60,196.88" fill="none" stroke="#CC79A7" stroke-width="1.0" stroke-dasharray="3 1.5" stroke-linejoin="round"/>
<polyline points="314.00,98.60 342.40,129.78 370.20,144.91 397.90,161.91 425.20,180.81 452.60,194.99" fill="none" stroke="#56B4E9" stroke-width="1.0" stroke-dasharray="1 1" stroke-linejoin="round"/>
<polyline points="314.00,98.60 342.40,129.78 370.20,145.85 397.90,162.86 425.20,182.70 452.60,198.77" fill="none" stroke="#009E73" stroke-width="1.0" stroke-dasharray="2 1 0.8 1" stroke-linejoin="round"/>
<polyline points="314.00,98.60 342.40,130.73 370.20,146.79 397.90,165.69 425.20,185.54 452.60,201.60" fill="none" stroke="#E69F00" stroke-width="1.0" stroke-dasharray="2.5 1.2" stroke-linejoin="round"/>
<polyline points="314.00,98.60 342.40,132.62 370.20,149.63 397.90,169.47 425.20,189.32 452.60,205.38" fill="none" stroke="#000000" stroke-width="1.0" stroke-linejoin="round"/>
<rect x="430" y="180.5" width="34.69999999999999" height="30.19999999999999" fill="none" stroke="#111" stroke-width="1"/>
<line x1="336.20" y1="113.40" x2="430.00" y2="180.50" stroke="#111" stroke-width="1.0"/>
<line x1="462.50" y1="113.40" x2="464.70" y2="180.50" stroke="#111" stroke-width="1.0"/>
<rect x="336.2" y="19.2" width="126.30000000000001" height="94.2" fill="#fff" stroke="#111" stroke-width="1.1"/>
<polyline points="336.70,50.80 417.50,96.30" fill="none" stroke="#000000" stroke-width="1.6" stroke-linejoin="round"/>
<polyline points="336.70,38.50 417.50,86.50" fill="none" stroke="#E69F00" stroke-width="1.9" stroke-dasharray="6 3.5" stroke-linejoin="round"/>
<polyline points="336.70,30.30 417.50,62.00" fill="none" stroke="#56B4E9" stroke-width="1.5" stroke-dasharray="1.3 2.4" stroke-linejoin="round"/>
<polyline points="336.70,26.20 417.50,69.20" fill="none" stroke="#009E73" stroke-width="1.6" stroke-dasharray="5 1.8 1.3 1.8" stroke-linejoin="round"/>
<polyline points="336.70,24.20 417.50,70.20" fill="none" stroke="#CC79A7" stroke-width="1.6" stroke-dasharray="6 2 1.5 2" stroke-linejoin="round"/>
<line x1="417.50" y1="59.50" x2="417.50" y2="68.30" stroke="#56B4E9" stroke-width="1.8"/>
<line x1="414.10" y1="59.50" x2="420.90" y2="59.50" stroke="#56B4E9" stroke-width="1.8"/>
<line x1="414.10" y1="68.30" x2="420.90" y2="68.30" stroke="#56B4E9" stroke-width="1.8"/>
<line x1="414.10" y1="62.50" x2="420.90" y2="62.50" stroke="#56B4E9" stroke-width="1.4"/>
<line x1="414.10" y1="65.50" x2="420.90" y2="65.50" stroke="#CC79A7" stroke-width="1.2"/>
<rect x="415.3" y="61" width="4.4" height="6.5" fill="#56B4E9"/>
<line x1="417.50" y1="71.50" x2="417.50" y2="82.10" stroke="#009E73" stroke-width="1.8"/>
<line x1="414.10" y1="82.10" x2="420.90" y2="82.10" stroke="#009E73" stroke-width="1.6"/>
<line x1="414.10" y1="77.50" x2="420.90" y2="77.50" stroke="#E69F00" stroke-width="1.6"/>
<line x1="414.10" y1="65.00" x2="420.90" y2="65.00" stroke="#009E73" stroke-width="1.2"/>
<circle cx="417.5" cy="71.5" r="2.8" fill="#CC79A7"/>
<line x1="417.50" y1="82.10" x2="417.50" y2="95.80" stroke="#E69F00" stroke-width="1.8"/>
<line x1="414.10" y1="95.80" x2="420.90" y2="95.80" stroke="#E69F00" stroke-width="1.6"/>
<circle cx="417.5" cy="86.6" r="2.5" fill="#E69F00"/>
<line x1="417.50" y1="89.30" x2="417.50" y2="105.50" stroke="#000000" stroke-width="1.7"/>
<line x1="414.10" y1="89.30" x2="420.90" y2="89.30" stroke="#000000" stroke-width="1.6"/>
<line x1="414.10" y1="105.50" x2="420.90" y2="105.50" stroke="#000000" stroke-width="1.6"/>
<path d="M414.5,95.5 L420.5,95.5 L417.5,99.5 Z" fill="#000000"/>
<line x1="424.00" y1="100.60" x2="429.20" y2="100.60" stroke="#111" stroke-width="1.3"/>
<line x1="429.20" y1="87.70" x2="429.20" y2="100.60" stroke="#111" stroke-width="1.3"/>
<line x1="429.20" y1="79.40" x2="429.20" y2="87.70" stroke="#009E73" stroke-width="1.4"/>
<line x1="425.30" y1="76.20" x2="426.60" y2="76.20" stroke="#009E73" stroke-width="1.2"/>
<line x1="428.00" y1="76.60" x2="429.40" y2="76.60" stroke="#009E73" stroke-width="1.2"/>
<line x1="435.30" y1="100.60" x2="440.00" y2="100.60" stroke="#111" stroke-width="1.3"/>
<line x1="440.00" y1="83.40" x2="440.00" y2="100.60" stroke="#111" stroke-width="1.3"/>
<line x1="440.00" y1="66.30" x2="440.00" y2="83.40" stroke="#56B4E9" stroke-width="1.3" stroke-dasharray="1 1"/>
<line x1="437.00" y1="67.00" x2="438.40" y2="67.00" stroke="#56B4E9" stroke-width="1.2"/>
<line x1="448.50" y1="100.60" x2="453.60" y2="100.60" stroke="#111" stroke-width="1.3"/>
<line x1="453.60" y1="87.20" x2="453.60" y2="100.60" stroke="#111" stroke-width="1.3"/>
<line x1="453.60" y1="78.50" x2="453.60" y2="87.20" stroke="#CC79A7" stroke-width="1.5"/>
<line x1="448.30" y1="75.40" x2="451.60" y2="75.40" stroke="#CC79A7" stroke-width="1.5"/>
<line x1="452.60" y1="76.00" x2="453.80" y2="76.00" stroke="#CC79A7" stroke-width="1.2"/>
<path d="M432.30,87.80L432.30,84.40M433.77,86.95L430.83,85.25M430.83,86.95L433.77,85.25" stroke="#222" stroke-width="0.95"/>
<path d="M432.30,92.40L432.30,89.00M433.77,91.55L430.83,89.85M430.83,91.55L433.77,89.85" stroke="#222" stroke-width="0.95"/>
<path d="M443.10,78.40L443.10,75.00M444.57,77.55L441.63,75.85M441.63,77.55L444.57,75.85" stroke="#222" stroke-width="0.95"/>
<path d="M443.10,83.10L443.10,79.70M444.57,82.25L441.63,80.55M441.63,82.25L444.57,80.55" stroke="#222" stroke-width="0.95"/>
<path d="M443.10,88.10L443.10,84.70M444.57,87.25L441.63,85.55M441.63,87.25L444.57,85.55" stroke="#222" stroke-width="0.95"/>
<path d="M443.10,92.60L443.10,89.20M444.57,91.75L441.63,90.05M441.63,91.75L444.57,90.05" stroke="#222" stroke-width="0.95"/>
<path d="M457.10,87.80L457.10,84.40M458.57,86.95L455.63,85.25M455.63,86.95L458.57,85.25" stroke="#222" stroke-width="0.95"/>
<path d="M457.10,92.40L457.10,89.00M458.57,91.55L455.63,89.85M455.63,91.55L458.57,89.85" stroke="#222" stroke-width="0.95"/>
<line x1="302.70" y1="161.20" x2="311.50" y2="161.20" stroke="#000000" stroke-width="1.3"/>
<text x="316.00" y="163.30" font-size="8.1" font-weight="normal" text-anchor="start" fill="#000" stroke="#000" stroke-width="0.18">SH</text>
<line x1="302.70" y1="172.30" x2="311.50" y2="172.30" stroke="#E69F00" stroke-width="1.3" stroke-dasharray="2.5 1.2"/>
<text x="316.00" y="174.40" font-size="8.1" font-weight="normal" text-anchor="start" fill="#000" stroke="#000" stroke-width="0.18">OVX/AI</text>
<line x1="302.70" y1="183.10" x2="311.50" y2="183.10" stroke="#009E73" stroke-width="1.3" stroke-dasharray="2 1 0.8 1"/>
<text x="316.00" y="185.20" font-size="8.1" font-weight="normal" text-anchor="start" fill="#000" stroke="#000" stroke-width="0.18">OVX/AI + LIV</text>
<line x1="302.70" y1="193.80" x2="311.50" y2="193.80" stroke="#56B4E9" stroke-width="1.3" stroke-dasharray="1 1"/>
<text x="316.00" y="195.90" font-size="8.1" font-weight="normal" text-anchor="start" fill="#000" stroke="#000" stroke-width="0.18">OVX/AI+ZA</text>
<line x1="302.70" y1="204.80" x2="311.50" y2="204.80" stroke="#CC79A7" stroke-width="1.3" stroke-dasharray="3 1.5"/>
<text x="316.00" y="206.90" font-size="8.1" font-weight="normal" text-anchor="start" fill="#000" stroke="#000" stroke-width="0.18">OVX/AI+LIV/ZA</text>
<text x="473.00" y="7.00" font-size="9.2" font-weight="bold" text-anchor="start" fill="#000" stroke="#000" stroke-width="0.18">c</text>
<text x="597.10" y="11.45" font-size="9.65" font-weight="bold" text-anchor="middle" fill="#000" stroke="#000" stroke-width="0.18">Muscle Specific Force: EDL</text>
<line x1="509.00" y1="19.89" x2="509.00" y2="136.20" stroke="#151515" stroke-width="1.2"/>
<line x1="509.00" y1="136.20" x2="683.50" y2="136.20" stroke="#151515" stroke-width="1.2"/>
<line x1="506.00" y1="135.50" x2="509.00" y2="135.50" stroke="#151515" stroke-width="1.0"/>
<text x="505.40" y="138.16" font-size="8.0" font-weight="bold" text-anchor="end" fill="#000" stroke="#000" stroke-width="0.18">0</text>
<line x1="506.00" y1="124.99" x2="509.00" y2="124.99" stroke="#151515" stroke-width="1.0"/>
<text x="505.40" y="127.65" font-size="8.0" font-weight="bold" text-anchor="end" fill="#000" stroke="#000" stroke-width="0.18">50</text>
<line x1="506.00" y1="114.48" x2="509.00" y2="114.48" stroke="#151515" stroke-width="1.0"/>
<text x="505.40" y="117.14" font-size="8.0" font-weight="bold" text-anchor="end" fill="#000" stroke="#000" stroke-width="0.18">100</text>
<line x1="506.00" y1="103.97" x2="509.00" y2="103.97" stroke="#151515" stroke-width="1.0"/>
<text x="505.40" y="106.63" font-size="8.0" font-weight="bold" text-anchor="end" fill="#000" stroke="#000" stroke-width="0.18">150</text>
<line x1="506.00" y1="93.46" x2="509.00" y2="93.46" stroke="#151515" stroke-width="1.0"/>
<text x="505.40" y="96.12" font-size="8.0" font-weight="bold" text-anchor="end" fill="#000" stroke="#000" stroke-width="0.18">200</text>
<line x1="506.00" y1="82.95" x2="509.00" y2="82.95" stroke="#151515" stroke-width="1.0"/>
<text x="505.40" y="85.61" font-size="8.0" font-weight="bold" text-anchor="end" fill="#000" stroke="#000" stroke-width="0.18">250</text>
<line x1="506.00" y1="72.44" x2="509.00" y2="72.44" stroke="#151515" stroke-width="1.0"/>
<text x="505.40" y="75.10" font-size="8.0" font-weight="bold" text-anchor="end" fill="#000" stroke="#000" stroke-width="0.18">300</text>
<line x1="506.00" y1="61.93" x2="509.00" y2="61.93" stroke="#151515" stroke-width="1.0"/>
<text x="505.40" y="64.59" font-size="8.0" font-weight="bold" text-anchor="end" fill="#000" stroke="#000" stroke-width="0.18">350</text>
<line x1="506.00" y1="51.42" x2="509.00" y2="51.42" stroke="#151515" stroke-width="1.0"/>
<text x="505.40" y="54.08" font-size="8.0" font-weight="bold" text-anchor="end" fill="#000" stroke="#000" stroke-width="0.18">400</text>
<line x1="506.00" y1="40.91" x2="509.00" y2="40.91" stroke="#151515" stroke-width="1.0"/>
<text x="505.40" y="43.57" font-size="8.0" font-weight="bold" text-anchor="end" fill="#000" stroke="#000" stroke-width="0.18">450</text>
<line x1="506.00" y1="30.40" x2="509.00" y2="30.40" stroke="#151515" stroke-width="1.0"/>
<text x="505.40" y="33.06" font-size="8.0" font-weight="bold" text-anchor="end" fill="#000" stroke="#000" stroke-width="0.18">500</text>
<line x1="506.00" y1="19.89" x2="509.00" y2="19.89" stroke="#151515" stroke-width="1.0"/>
<text x="505.40" y="22.55" font-size="8.0" font-weight="bold" text-anchor="end" fill="#000" stroke="#000" stroke-width="0.18">550</text>
<line x1="521.90" y1="136.20" x2="521.90" y2="139.30" stroke="#151515" stroke-width="1.0"/>
<text x="521.90" y="145.80" font-size="8.1" font-weight="bold" text-anchor="middle" fill="#000" stroke="#000" stroke-width="0.18">1</text>
<line x1="540.78" y1="136.20" x2="540.78" y2="139.30" stroke="#151515" stroke-width="1.0"/>
<text x="540.78" y="145.80" font-size="8.1" font-weight="bold" text-anchor="middle" fill="#000" stroke="#000" stroke-width="0.18">10</text>
<line x1="559.66" y1="136.20" x2="559.66" y2="139.30" stroke="#151515" stroke-width="1.0"/>
<text x="559.66" y="145.80" font-size="8.1" font-weight="bold" text-anchor="middle" fill="#000" stroke="#000" stroke-width="0.18">20</text>
<line x1="578.54" y1="136.20" x2="578.54" y2="139.30" stroke="#151515" stroke-width="1.0"/>
<text x="578.54" y="145.80" font-size="8.1" font-weight="bold" text-anchor="middle" fill="#000" stroke="#000" stroke-width="0.18">30</text>
<line x1="597.42" y1="136.20" x2="597.42" y2="139.30" stroke="#151515" stroke-width="1.0"/>
<text x="597.42" y="145.80" font-size="8.1" font-weight="bold" text-anchor="middle" fill="#000" stroke="#000" stroke-width="0.18">50</text>
<line x1="616.30" y1="136.20" x2="616.30" y2="139.30" stroke="#151515" stroke-width="1.0"/>
<text x="616.30" y="145.80" font-size="8.1" font-weight="bold" text-anchor="middle" fill="#000" stroke="#000" stroke-width="0.18">70</text>
<line x1="635.18" y1="136.20" x2="635.18" y2="139.30" stroke="#151515" stroke-width="1.0"/>
<text x="635.18" y="145.80" font-size="8.1" font-weight="bold" text-anchor="middle" fill="#000" stroke="#000" stroke-width="0.18">100</text>
<line x1="654.06" y1="136.20" x2="654.06" y2="139.30" stroke="#151515" stroke-width="1.0"/>
<text x="654.06" y="145.80" font-size="8.1" font-weight="bold" text-anchor="middle" fill="#000" stroke="#000" stroke-width="0.18">120</text>
<line x1="672.94" y1="136.20" x2="672.94" y2="139.30" stroke="#151515" stroke-width="1.0"/>
<text x="672.94" y="145.80" font-size="8.1" font-weight="bold" text-anchor="middle" fill="#000" stroke="#000" stroke-width="0.18">150</text>
<text x="597.50" y="159.00" font-size="9.5" font-weight="bold" text-anchor="middle" fill="#000" stroke="#000" stroke-width="0.18">Frequency (Hz)</text>
<text x="485.60" y="77.50" font-size="9.3" font-weight="bold" text-anchor="middle" fill="#000" stroke="#000" stroke-width="0.18" transform="rotate(-90 485.60 77.50)">Force (kN/m<tspan font-size="6.3" dy="-3.2">2</tspan><tspan dy="3.2">)</tspan></text>
<line x1="521.90" y1="101.66" x2="521.90" y2="104.18" stroke="#000000" stroke-width="0.8"/>
<line x1="520.60" y1="101.66" x2="523.20" y2="101.66" stroke="#000000" stroke-width="0.8"/>
<line x1="520.60" y1="104.18" x2="523.20" y2="104.18" stroke="#000000" stroke-width="0.8"/>
<line x1="540.78" y1="101.03" x2="540.78" y2="103.55" stroke="#000000" stroke-width="0.8"/>
<line x1="539.48" y1="101.03" x2="542.08" y2="101.03" stroke="#000000" stroke-width="0.8"/>
<line x1="539.48" y1="103.55" x2="542.08" y2="103.55" stroke="#000000" stroke-width="0.8"/>
<line x1="559.66" y1="86.73" x2="559.66" y2="89.68" stroke="#000000" stroke-width="0.8"/>
<line x1="558.36" y1="86.73" x2="560.96" y2="86.73" stroke="#000000" stroke-width="0.8"/>
<line x1="558.36" y1="89.68" x2="560.96" y2="89.68" stroke="#000000" stroke-width="0.8"/>
<line x1="578.54" y1="68.66" x2="578.54" y2="72.02" stroke="#000000" stroke-width="0.8"/>
<line x1="577.24" y1="68.66" x2="579.84" y2="68.66" stroke="#000000" stroke-width="0.8"/>
<line x1="577.24" y1="72.02" x2="579.84" y2="72.02" stroke="#000000" stroke-width="0.8"/>
<line x1="597.42" y1="48.69" x2="597.42" y2="52.05" stroke="#000000" stroke-width="0.8"/>
<line x1="596.12" y1="48.69" x2="598.72" y2="48.69" stroke="#000000" stroke-width="0.8"/>
<line x1="596.12" y1="52.05" x2="598.72" y2="52.05" stroke="#000000" stroke-width="0.8"/>
<line x1="616.30" y1="38.81" x2="616.30" y2="42.17" stroke="#000000" stroke-width="0.8"/>
<line x1="615.00" y1="38.81" x2="617.60" y2="38.81" stroke="#000000" stroke-width="0.8"/>
<line x1="615.00" y1="42.17" x2="617.60" y2="42.17" stroke="#000000" stroke-width="0.8"/>
<line x1="635.18" y1="34.60" x2="635.18" y2="37.97" stroke="#000000" stroke-width="0.8"/>
<line x1="633.88" y1="34.60" x2="636.48" y2="34.60" stroke="#000000" stroke-width="0.8"/>
<line x1="633.88" y1="37.97" x2="636.48" y2="37.97" stroke="#000000" stroke-width="0.8"/>
<line x1="654.06" y1="34.60" x2="654.06" y2="37.97" stroke="#000000" stroke-width="0.8"/>
<line x1="652.76" y1="34.60" x2="655.36" y2="34.60" stroke="#000000" stroke-width="0.8"/>
<line x1="652.76" y1="37.97" x2="655.36" y2="37.97" stroke="#000000" stroke-width="0.8"/>
<line x1="672.94" y1="35.44" x2="672.94" y2="38.81" stroke="#000000" stroke-width="0.8"/>
<line x1="671.64" y1="35.44" x2="674.24" y2="35.44" stroke="#000000" stroke-width="0.8"/>
<line x1="671.64" y1="38.81" x2="674.24" y2="38.81" stroke="#000000" stroke-width="0.8"/>
<line x1="521.90" y1="99.56" x2="521.90" y2="102.08" stroke="#E69F00" stroke-width="0.8"/>
<line x1="520.60" y1="99.56" x2="523.20" y2="99.56" stroke="#E69F00" stroke-width="0.8"/>
<line x1="520.60" y1="102.08" x2="523.20" y2="102.08" stroke="#E69F00" stroke-width="0.8"/>
<line x1="540.78" y1="99.56" x2="540.78" y2="102.08" stroke="#E69F00" stroke-width="0.8"/>
<line x1="539.48" y1="99.56" x2="542.08" y2="99.56" stroke="#E69F00" stroke-width="0.8"/>
<line x1="539.48" y1="102.08" x2="542.08" y2="102.08" stroke="#E69F00" stroke-width="0.8"/>
<line x1="559.66" y1="85.68" x2="559.66" y2="88.63" stroke="#E69F00" stroke-width="0.8"/>
<line x1="558.36" y1="85.68" x2="560.96" y2="85.68" stroke="#E69F00" stroke-width="0.8"/>
<line x1="558.36" y1="88.63" x2="560.96" y2="88.63" stroke="#E69F00" stroke-width="0.8"/>
<line x1="578.54" y1="67.61" x2="578.54" y2="70.97" stroke="#E69F00" stroke-width="0.8"/>
<line x1="577.24" y1="67.61" x2="579.84" y2="67.61" stroke="#E69F00" stroke-width="0.8"/>
<line x1="577.24" y1="70.97" x2="579.84" y2="70.97" stroke="#E69F00" stroke-width="0.8"/>
<line x1="597.42" y1="48.06" x2="597.42" y2="51.42" stroke="#E69F00" stroke-width="0.8"/>
<line x1="596.12" y1="48.06" x2="598.72" y2="48.06" stroke="#E69F00" stroke-width="0.8"/>
<line x1="596.12" y1="51.42" x2="598.72" y2="51.42" stroke="#E69F00" stroke-width="0.8"/>
<line x1="616.30" y1="38.18" x2="616.30" y2="41.54" stroke="#E69F00" stroke-width="0.8"/>
<line x1="615.00" y1="38.18" x2="617.60" y2="38.18" stroke="#E69F00" stroke-width="0.8"/>
<line x1="615.00" y1="41.54" x2="617.60" y2="41.54" stroke="#E69F00" stroke-width="0.8"/>
<line x1="635.18" y1="33.97" x2="635.18" y2="37.34" stroke="#E69F00" stroke-width="0.8"/>
<line x1="633.88" y1="33.97" x2="636.48" y2="33.97" stroke="#E69F00" stroke-width="0.8"/>
<line x1="633.88" y1="37.34" x2="636.48" y2="37.34" stroke="#E69F00" stroke-width="0.8"/>
<line x1="654.06" y1="33.97" x2="654.06" y2="37.34" stroke="#E69F00" stroke-width="0.8"/>
<line x1="652.76" y1="33.97" x2="655.36" y2="33.97" stroke="#E69F00" stroke-width="0.8"/>
<line x1="652.76" y1="37.34" x2="655.36" y2="37.34" stroke="#E69F00" stroke-width="0.8"/>
<line x1="672.94" y1="35.02" x2="672.94" y2="38.39" stroke="#E69F00" stroke-width="0.8"/>
<line x1="671.64" y1="35.02" x2="674.24" y2="35.02" stroke="#E69F00" stroke-width="0.8"/>
<line x1="671.64" y1="38.39" x2="674.24" y2="38.39" stroke="#E69F00" stroke-width="0.8"/>
<line x1="521.90" y1="101.87" x2="521.90" y2="106.07" stroke="#009E73" stroke-width="0.8"/>
<line x1="520.60" y1="101.87" x2="523.20" y2="101.87" stroke="#009E73" stroke-width="0.8"/>
<line x1="520.60" y1="106.07" x2="523.20" y2="106.07" stroke="#009E73" stroke-width="0.8"/>
<line x1="540.78" y1="100.82" x2="540.78" y2="105.02" stroke="#009E73" stroke-width="0.8"/>
<line x1="539.48" y1="100.82" x2="542.08" y2="100.82" stroke="#009E73" stroke-width="0.8"/>
<line x1="539.48" y1="105.02" x2="542.08" y2="105.02" stroke="#009E73" stroke-width="0.8"/>
<line x1="559.66" y1="88.84" x2="559.66" y2="94.72" stroke="#009E73" stroke-width="0.8"/>
<line x1="558.36" y1="88.84" x2="560.96" y2="88.84" stroke="#009E73" stroke-width="0.8"/>
<line x1="558.36" y1="94.72" x2="560.96" y2="94.72" stroke="#009E73" stroke-width="0.8"/>
<line x1="578.54" y1="72.65" x2="578.54" y2="78.96" stroke="#009E73" stroke-width="0.8"/>
<line x1="577.24" y1="72.65" x2="579.84" y2="72.65" stroke="#009E73" stroke-width="0.8"/>
<line x1="577.24" y1="78.96" x2="579.84" y2="78.96" stroke="#009E73" stroke-width="0.8"/>
<line x1="597.42" y1="54.36" x2="597.42" y2="61.93" stroke="#009E73" stroke-width="0.8"/>
<line x1="596.12" y1="54.36" x2="598.72" y2="54.36" stroke="#009E73" stroke-width="0.8"/>
<line x1="596.12" y1="61.93" x2="598.72" y2="61.93" stroke="#009E73" stroke-width="0.8"/>
<line x1="616.30" y1="44.27" x2="616.30" y2="53.52" stroke="#009E73" stroke-width="0.8"/>
<line x1="615.00" y1="44.27" x2="617.60" y2="44.27" stroke="#009E73" stroke-width="0.8"/>
<line x1="615.00" y1="53.52" x2="617.60" y2="53.52" stroke="#009E73" stroke-width="0.8"/>
<line x1="635.18" y1="40.07" x2="635.18" y2="49.32" stroke="#009E73" stroke-width="0.8"/>
<line x1="633.88" y1="40.07" x2="636.48" y2="40.07" stroke="#009E73" stroke-width="0.8"/>
<line x1="633.88" y1="49.32" x2="636.48" y2="49.32" stroke="#009E73" stroke-width="0.8"/>
<line x1="654.06" y1="40.07" x2="654.06" y2="49.32" stroke="#009E73" stroke-width="0.8"/>
<line x1="652.76" y1="40.07" x2="655.36" y2="40.07" stroke="#009E73" stroke-width="0.8"/>
<line x1="652.76" y1="49.32" x2="655.36" y2="49.32" stroke="#009E73" stroke-width="0.8"/>
<line x1="672.94" y1="40.91" x2="672.94" y2="50.16" stroke="#009E73" stroke-width="0.8"/>
<line x1="671.64" y1="40.91" x2="674.24" y2="40.91" stroke="#009E73" stroke-width="0.8"/>
<line x1="671.64" y1="50.16" x2="674.24" y2="50.16" stroke="#009E73" stroke-width="0.8"/>
<line x1="521.90" y1="97.66" x2="521.90" y2="101.87" stroke="#56B4E9" stroke-width="0.8"/>
<line x1="520.60" y1="97.66" x2="523.20" y2="97.66" stroke="#56B4E9" stroke-width="0.8"/>
<line x1="520.60" y1="101.87" x2="523.20" y2="101.87" stroke="#56B4E9" stroke-width="0.8"/>
<line x1="540.78" y1="98.08" x2="540.78" y2="102.29" stroke="#56B4E9" stroke-width="0.8"/>
<line x1="539.48" y1="98.08" x2="542.08" y2="98.08" stroke="#56B4E9" stroke-width="0.8"/>
<line x1="539.48" y1="102.29" x2="542.08" y2="102.29" stroke="#56B4E9" stroke-width="0.8"/>
<line x1="559.66" y1="83.58" x2="559.66" y2="88.63" stroke="#56B4E9" stroke-width="0.8"/>
<line x1="558.36" y1="83.58" x2="560.96" y2="83.58" stroke="#56B4E9" stroke-width="0.8"/>
<line x1="558.36" y1="88.63" x2="560.96" y2="88.63" stroke="#56B4E9" stroke-width="0.8"/>
<line x1="578.54" y1="65.29" x2="578.54" y2="71.18" stroke="#56B4E9" stroke-width="0.8"/>
<line x1="577.24" y1="65.29" x2="579.84" y2="65.29" stroke="#56B4E9" stroke-width="0.8"/>
<line x1="577.24" y1="71.18" x2="579.84" y2="71.18" stroke="#56B4E9" stroke-width="0.8"/>
<line x1="597.42" y1="46.17" x2="597.42" y2="52.47" stroke="#56B4E9" stroke-width="0.8"/>
<line x1="596.12" y1="46.17" x2="598.72" y2="46.17" stroke="#56B4E9" stroke-width="0.8"/>
<line x1="596.12" y1="52.47" x2="598.72" y2="52.47" stroke="#56B4E9" stroke-width="0.8"/>
<line x1="616.30" y1="36.50" x2="616.30" y2="43.22" stroke="#56B4E9" stroke-width="0.8"/>
<line x1="615.00" y1="36.50" x2="617.60" y2="36.50" stroke="#56B4E9" stroke-width="0.8"/>
<line x1="615.00" y1="43.22" x2="617.60" y2="43.22" stroke="#56B4E9" stroke-width="0.8"/>
<line x1="635.18" y1="32.08" x2="635.18" y2="39.65" stroke="#56B4E9" stroke-width="0.8"/>
<line x1="633.88" y1="32.08" x2="636.48" y2="32.08" stroke="#56B4E9" stroke-width="0.8"/>
<line x1="633.88" y1="39.65" x2="636.48" y2="39.65" stroke="#56B4E9" stroke-width="0.8"/>
<line x1="654.06" y1="31.66" x2="654.06" y2="39.23" stroke="#56B4E9" stroke-width="0.8"/>
<line x1="652.76" y1="31.66" x2="655.36" y2="31.66" stroke="#56B4E9" stroke-width="0.8"/>
<line x1="652.76" y1="39.23" x2="655.36" y2="39.23" stroke="#56B4E9" stroke-width="0.8"/>
<line x1="672.94" y1="32.92" x2="672.94" y2="41.33" stroke="#56B4E9" stroke-width="0.8"/>
<line x1="671.64" y1="32.92" x2="674.24" y2="32.92" stroke="#56B4E9" stroke-width="0.8"/>
<line x1="671.64" y1="41.33" x2="674.24" y2="41.33" stroke="#56B4E9" stroke-width="0.8"/>
<line x1="521.90" y1="100.61" x2="521.90" y2="103.97" stroke="#CC79A7" stroke-width="0.8"/>
<line x1="520.60" y1="100.61" x2="523.20" y2="100.61" stroke="#CC79A7" stroke-width="0.8"/>
<line x1="520.60" y1="103.97" x2="523.20" y2="103.97" stroke="#CC79A7" stroke-width="0.8"/>
<line x1="540.78" y1="100.19" x2="540.78" y2="103.55" stroke="#CC79A7" stroke-width="0.8"/>
<line x1="539.48" y1="100.19" x2="542.08" y2="100.19" stroke="#CC79A7" stroke-width="0.8"/>
<line x1="539.48" y1="103.55" x2="542.08" y2="103.55" stroke="#CC79A7" stroke-width="0.8"/>
<line x1="559.66" y1="87.36" x2="559.66" y2="91.15" stroke="#CC79A7" stroke-width="0.8"/>
<line x1="558.36" y1="87.36" x2="560.96" y2="87.36" stroke="#CC79A7" stroke-width="0.8"/>
<line x1="558.36" y1="91.15" x2="560.96" y2="91.15" stroke="#CC79A7" stroke-width="0.8"/>
<line x1="578.54" y1="70.34" x2="578.54" y2="74.54" stroke="#CC79A7" stroke-width="0.8"/>
<line x1="577.24" y1="70.34" x2="579.84" y2="70.34" stroke="#CC79A7" stroke-width="0.8"/>
<line x1="577.24" y1="74.54" x2="579.84" y2="74.54" stroke="#CC79A7" stroke-width="0.8"/>
<line x1="597.42" y1="51.00" x2="597.42" y2="56.04" stroke="#CC79A7" stroke-width="0.8"/>
<line x1="596.12" y1="51.00" x2="598.72" y2="51.00" stroke="#CC79A7" stroke-width="0.8"/>
<line x1="596.12" y1="56.04" x2="598.72" y2="56.04" stroke="#CC79A7" stroke-width="0.8"/>
<line x1="616.30" y1="42.17" x2="616.30" y2="47.22" stroke="#CC79A7" stroke-width="0.8"/>
<line x1="615.00" y1="42.17" x2="617.60" y2="42.17" stroke="#CC79A7" stroke-width="0.8"/>
<line x1="615.00" y1="47.22" x2="617.60" y2="47.22" stroke="#CC79A7" stroke-width="0.8"/>
<line x1="635.18" y1="37.97" x2="635.18" y2="43.01" stroke="#CC79A7" stroke-width="0.8"/>
<line x1="633.88" y1="37.97" x2="636.48" y2="37.97" stroke="#CC79A7" stroke-width="0.8"/>
<line x1="633.88" y1="43.01" x2="636.48" y2="43.01" stroke="#CC79A7" stroke-width="0.8"/>
<line x1="654.06" y1="37.97" x2="654.06" y2="43.01" stroke="#CC79A7" stroke-width="0.8"/>
<line x1="652.76" y1="37.97" x2="655.36" y2="37.97" stroke="#CC79A7" stroke-width="0.8"/>
<line x1="652.76" y1="43.01" x2="655.36" y2="43.01" stroke="#CC79A7" stroke-width="0.8"/>
<line x1="672.94" y1="37.97" x2="672.94" y2="43.01" stroke="#CC79A7" stroke-width="0.8"/>
<line x1="671.64" y1="37.97" x2="674.24" y2="37.97" stroke="#CC79A7" stroke-width="0.8"/>
<line x1="671.64" y1="43.01" x2="674.24" y2="43.01" stroke="#CC79A7" stroke-width="0.8"/>
<polyline points="521.90,102.92 540.78,102.29 559.66,88.20 578.54,70.34 597.42,50.37 616.30,40.49 635.18,36.29 654.06,36.29 672.94,37.13" fill="none" stroke="#000000" stroke-width="1.5" stroke-linejoin="round"/>
<circle cx="521.90" cy="102.92" r="1" fill="#000000"/>
<circle cx="540.78" cy="102.29" r="1" fill="#000000"/>
<circle cx="559.66" cy="88.20" r="1" fill="#000000"/>
<circle cx="578.54" cy="70.34" r="1" fill="#000000"/>
<circle cx="597.42" cy="50.37" r="1" fill="#000000"/>
<circle cx="616.30" cy="40.49" r="1" fill="#000000"/>
<circle cx="635.18" cy="36.29" r="1" fill="#000000"/>
<circle cx="654.06" cy="36.29" r="1" fill="#000000"/>
<circle cx="672.94" cy="37.13" r="1" fill="#000000"/>
<polyline points="521.90,100.82 540.78,100.82 559.66,87.15 578.54,69.29 597.42,49.74 616.30,39.86 635.18,35.66 654.06,35.66 672.94,36.71" fill="none" stroke="#E69F00" stroke-width="1.25" stroke-dasharray="2.5 1.2" stroke-linejoin="round"/>
<circle cx="521.90" cy="100.82" r="1" fill="#E69F00"/>
<circle cx="540.78" cy="100.82" r="1" fill="#E69F00"/>
<circle cx="559.66" cy="87.15" r="1" fill="#E69F00"/>
<circle cx="578.54" cy="69.29" r="1" fill="#E69F00"/>
<circle cx="597.42" cy="49.74" r="1" fill="#E69F00"/>
<circle cx="616.30" cy="39.86" r="1" fill="#E69F00"/>
<circle cx="635.18" cy="35.66" r="1" fill="#E69F00"/>
<circle cx="654.06" cy="35.66" r="1" fill="#E69F00"/>
<circle cx="672.94" cy="36.71" r="1" fill="#E69F00"/>
<polyline points="521.90,103.97 540.78,102.92 559.66,91.78 578.54,75.80 597.42,58.15 616.30,48.90 635.18,44.69 654.06,44.69 672.94,45.53" fill="none" stroke="#009E73" stroke-width="1.25" stroke-dasharray="2 1 0.8 1" stroke-linejoin="round"/>
<circle cx="521.90" cy="103.97" r="1" fill="#009E73"/>
<circle cx="540.78" cy="102.92" r="1" fill="#009E73"/>
<circle cx="559.66" cy="91.78" r="1" fill="#009E73"/>
<circle cx="578.54" cy="75.80" r="1" fill="#009E73"/>
<circle cx="597.42" cy="58.15" r="1" fill="#009E73"/>
<circle cx="616.30" cy="48.90" r="1" fill="#009E73"/>
<circle cx="635.18" cy="44.69" r="1" fill="#009E73"/>
<circle cx="654.06" cy="44.69" r="1" fill="#009E73"/>
<circle cx="672.94" cy="45.53" r="1" fill="#009E73"/>
<polyline points="521.90,99.77 540.78,100.19 559.66,86.10 578.54,68.24 597.42,49.32 616.30,39.86 635.18,35.87 654.06,35.44 672.94,37.13" fill="none" stroke="#56B4E9" stroke-width="1.25" stroke-dasharray="1 1" stroke-linejoin="round"/>
<circle cx="521.90" cy="99.77" r="1" fill="#56B4E9"/>
<circle cx="540.78" cy="100.19" r="1" fill="#56B4E9"/>
<circle cx="559.66" cy="86.10" r="1" fill="#56B4E9"/>
<circle cx="578.54" cy="68.24" r="1" fill="#56B4E9"/>
<circle cx="597.42" cy="49.32" r="1" fill="#56B4E9"/>
<circle cx="616.30" cy="39.86" r="1" fill="#56B4E9"/>
<circle cx="635.18" cy="35.87" r="1" fill="#56B4E9"/>
<circle cx="654.06" cy="35.44" r="1" fill="#56B4E9"/>
<circle cx="672.94" cy="37.13" r="1" fill="#56B4E9"/>
<polyline points="521.90,102.29 540.78,101.87 559.66,89.26 578.54,72.44 597.42,53.52 616.30,44.69 635.18,40.49 654.06,40.49 672.94,40.49" fill="none" stroke="#CC79A7" stroke-width="1.25" stroke-dasharray="3 1.5" stroke-linejoin="round"/>
<circle cx="521.90" cy="102.29" r="1" fill="#CC79A7"/>
<circle cx="540.78" cy="101.87" r="1" fill="#CC79A7"/>
<circle cx="559.66" cy="89.26" r="1" fill="#CC79A7"/>
<circle cx="578.54" cy="72.44" r="1" fill="#CC79A7"/>
<circle cx="597.42" cy="53.52" r="1" fill="#CC79A7"/>
<circle cx="616.30" cy="44.69" r="1" fill="#CC79A7"/>
<circle cx="635.18" cy="40.49" r="1" fill="#CC79A7"/>
<circle cx="654.06" cy="40.49" r="1" fill="#CC79A7"/>
<circle cx="672.94" cy="40.49" r="1" fill="#CC79A7"/>
<line x1="606.30" y1="80.30" x2="614.30" y2="80.30" stroke="#000000" stroke-width="1.3"/>
<text x="619.80" y="83.20" font-size="8.1" font-weight="normal" text-anchor="start" fill="#000" stroke="#000" stroke-width="0.18">SH</text>
<line x1="606.30" y1="92.00" x2="614.30" y2="92.00" stroke="#E69F00" stroke-width="1.3" stroke-dasharray="2.5 1.2"/>
<text x="619.80" y="94.90" font-size="8.1" font-weight="normal" text-anchor="start" fill="#000" stroke="#000" stroke-width="0.18">OVX/AI</text>
<line x1="606.30" y1="102.80" x2="614.30" y2="102.80" stroke="#009E73" stroke-width="1.3" stroke-dasharray="2 1 0.8 1"/>
<text x="619.80" y="105.70" font-size="8.1" font-weight="normal" text-anchor="start" fill="#000" stroke="#000" stroke-width="0.18">OVX/AI + LIV</text>
<line x1="606.30" y1="113.50" x2="614.30" y2="113.50" stroke="#56B4E9" stroke-width="1.3" stroke-dasharray="1 1"/>
<text x="619.80" y="116.40" font-size="8.1" font-weight="normal" text-anchor="start" fill="#000" stroke="#000" stroke-width="0.18">OVX/AI+ZA</text>
<line x1="606.30" y1="124.30" x2="614.30" y2="124.30" stroke="#CC79A7" stroke-width="1.3" stroke-dasharray="3 1.5"/>
<text x="619.80" y="127.20" font-size="8.1" font-weight="normal" text-anchor="start" fill="#000" stroke="#000" stroke-width="0.18">OVX/AI+LIV/ZA</text>
<text x="491.00" y="260.90" font-size="9.2" font-weight="bold" text-anchor="start" fill="#000" stroke="#000" stroke-width="0.18">e</text>
<line x1="530.80" y1="258.80" x2="530.80" y2="361.00" stroke="#151515" stroke-width="1.2"/>
<line x1="530.80" y1="361.00" x2="685.00" y2="361.00" stroke="#151515" stroke-width="1.2"/>
<line x1="527.50" y1="360.90" x2="530.80" y2="360.90" stroke="#151515" stroke-width="1.1"/>
<text x="526.20" y="363.64" font-size="8.2" font-weight="bold" text-anchor="end" fill="#000" stroke="#000" stroke-width="0.18">0</text>
<line x1="527.50" y1="326.90" x2="530.80" y2="326.90" stroke="#151515" stroke-width="1.1"/>
<text x="526.20" y="329.64" font-size="8.2" font-weight="bold" text-anchor="end" fill="#000" stroke="#000" stroke-width="0.18">1000</text>
<line x1="527.50" y1="292.90" x2="530.80" y2="292.90" stroke="#151515" stroke-width="1.1"/>
<text x="526.20" y="295.64" font-size="8.2" font-weight="bold" text-anchor="end" fill="#000" stroke="#000" stroke-width="0.18">2000</text>
<line x1="527.50" y1="258.90" x2="530.80" y2="258.90" stroke="#151515" stroke-width="1.1"/>
<text x="526.20" y="261.64" font-size="8.2" font-weight="bold" text-anchor="end" fill="#000" stroke="#000" stroke-width="0.18">3000</text>
<text x="498.6" y="309.4" font-size="9.45" font-weight="bold" text-anchor="middle" transform="rotate(-90 498.6 309.4)">CSA (µm<tspan font-size="6.2" dy="-3.3">2</tspan><tspan dy="3.3">)</tspan></text>
<circle cx="546.00" cy="287.02" r="2.15" fill="#111"/>
<circle cx="554.80" cy="284.91" r="2.15" fill="#111"/>
<circle cx="553.70" cy="291.40" r="2.15" fill="#111"/>
<circle cx="550.40" cy="296.30" r="2.15" fill="#111"/>
<circle cx="550.40" cy="301.30" r="2.15" fill="#111"/>
<circle cx="550.40" cy="303.51" r="2.15" fill="#111"/>
<circle cx="550.40" cy="313.81" r="2.15" fill="#111"/>
<line x1="540.90" y1="296.20" x2="559.90" y2="296.20" stroke="#111" stroke-width="1.5"/>
<line x1="550.40" y1="292.12" x2="550.40" y2="300.28" stroke="#111" stroke-width="1.4"/>
<line x1="546.80" y1="292.12" x2="554.00" y2="292.12" stroke="#111" stroke-width="1.4"/>
<line x1="546.80" y1="300.28" x2="554.00" y2="300.28" stroke="#111" stroke-width="1.4"/>
<rect x="576.55" y="280.96" width="4.30" height="4.30" fill="#EBB53A"/>
<rect x="576.55" y="292.96" width="4.30" height="4.30" fill="#EBB53A"/>
<rect x="569.15" y="311.15" width="4.30" height="4.30" fill="#EBB53A"/>
<rect x="576.55" y="313.36" width="4.30" height="4.30" fill="#EBB53A"/>
<rect x="584.45" y="313.36" width="4.30" height="4.30" fill="#EBB53A"/>
<rect x="576.55" y="319.96" width="4.30" height="4.30" fill="#EBB53A"/>
<line x1="569.20" y1="307.79" x2="588.20" y2="307.79" stroke="#333" stroke-width="1.5"/>
<line x1="578.70" y1="302.01" x2="578.70" y2="313.57" stroke="#EBB53A" stroke-width="1.4"/>
<line x1="575.10" y1="302.01" x2="582.30" y2="302.01" stroke="#EBB53A" stroke-width="1.4"/>
<line x1="575.10" y1="313.57" x2="582.30" y2="313.57" stroke="#EBB53A" stroke-width="1.4"/>
<path d="M607.60,277.23 L610.07,281.74 L605.13,281.74Z" fill="#3DAE88"/>
<path d="M600.40,284.44 L602.87,288.95 L597.93,288.95Z" fill="#3DAE88"/>
<path d="M615.00,288.21 L617.47,292.73 L612.53,292.73Z" fill="#3DAE88"/>
<path d="M607.60,296.51 L610.07,301.02 L605.13,301.02Z" fill="#3DAE88"/>
<path d="M607.60,302.02 L610.07,306.53 L605.13,306.53Z" fill="#3DAE88"/>
<path d="M607.60,312.32 L610.07,316.83 L605.13,316.83Z" fill="#3DAE88"/>
<line x1="598.10" y1="295.79" x2="617.10" y2="295.79" stroke="#333" stroke-width="1.5"/>
<line x1="607.60" y1="291.37" x2="607.60" y2="300.21" stroke="#3DAE88" stroke-width="1.4"/>
<line x1="604.00" y1="291.37" x2="611.20" y2="291.37" stroke="#3DAE88" stroke-width="1.4"/>
<line x1="604.00" y1="300.21" x2="611.20" y2="300.21" stroke="#3DAE88" stroke-width="1.4"/>
<path d="M629.20,290.69 L631.67,286.17 L626.73,286.17Z" fill="#6FBDE9"/>
<path d="M643.40,293.98 L645.87,289.47 L640.93,289.47Z" fill="#6FBDE9"/>
<path d="M636.40,305.58 L638.87,301.06 L633.93,301.06Z" fill="#6FBDE9"/>
<path d="M629.20,316.97 L631.67,312.45 L626.73,312.45Z" fill="#6FBDE9"/>
<path d="M643.40,320.27 L645.87,315.75 L640.93,315.75Z" fill="#6FBDE9"/>
<path d="M629.20,323.97 L631.67,319.46 L626.73,319.46Z" fill="#6FBDE9"/>
<line x1="626.90" y1="306.70" x2="645.90" y2="306.70" stroke="#333" stroke-width="1.5"/>
<line x1="636.40" y1="301.26" x2="636.40" y2="312.14" stroke="#6FBDE9" stroke-width="1.4"/>
<line x1="632.80" y1="301.26" x2="640.00" y2="301.26" stroke="#6FBDE9" stroke-width="1.4"/>
<line x1="632.80" y1="312.14" x2="640.00" y2="312.14" stroke="#6FBDE9" stroke-width="1.4"/>
<path d="M658.10,289.40 L660.79,292.08 L658.10,294.77 L655.41,292.08Z" fill="#C68AAE"/>
<path d="M672.30,286.51 L674.99,289.19 L672.30,291.88 L669.61,289.19Z" fill="#C68AAE"/>
<path d="M665.10,300.31 L667.79,303.00 L665.10,305.69 L662.41,303.00Z" fill="#C68AAE"/>
<path d="M658.10,307.82 L660.79,310.51 L658.10,313.20 L655.41,310.51Z" fill="#C68AAE"/>
<path d="M672.30,311.70 L674.99,314.39 L672.30,317.08 L669.61,314.39Z" fill="#C68AAE"/>
<path d="M665.10,319.42 L667.79,322.11 L665.10,324.79 L662.41,322.11Z" fill="#C68AAE"/>
<line x1="655.60" y1="305.00" x2="674.60" y2="305.00" stroke="#333" stroke-width="1.5"/>
<line x1="665.10" y1="299.90" x2="665.10" y2="310.10" stroke="#C68AAE" stroke-width="1.4"/>
<line x1="661.50" y1="299.90" x2="668.70" y2="299.90" stroke="#C68AAE" stroke-width="1.4"/>
<line x1="661.50" y1="310.10" x2="668.70" y2="310.10" stroke="#C68AAE" stroke-width="1.4"/>
<text x="554.00" y="367.60" font-size="8.1" font-weight="normal" text-anchor="end" fill="#000" stroke="#000" stroke-width="0.18" transform="rotate(-45 554.00 367.60)">SH</text>
<text x="582.30" y="367.60" font-size="8.1" font-weight="normal" text-anchor="end" fill="#000" stroke="#000" stroke-width="0.18" transform="rotate(-45 582.30 367.60)">OVX/AI</text>
<text x="611.20" y="367.60" font-size="8.1" font-weight="normal" text-anchor="end" fill="#000" stroke="#000" stroke-width="0.18" transform="rotate(-45 611.20 367.60)">OVX/AI+LIV</text>
<text x="640.00" y="367.60" font-size="8.1" font-weight="normal" text-anchor="end" fill="#000" stroke="#000" stroke-width="0.18" transform="rotate(-45 640.00 367.60)">OVX/AI+ZA</text>
<text x="668.70" y="367.60" font-size="8.1" font-weight="normal" text-anchor="end" fill="#000" stroke="#000" stroke-width="0.18" transform="rotate(-45 668.70 367.60)">OVX/AI+LIV/ZA</text>
<text x="491.00" y="413.30" font-size="9.2" font-weight="bold" text-anchor="start" fill="#000" stroke="#000" stroke-width="0.18">f</text>
<line x1="530.20" y1="409.70" x2="530.20" y2="512.40" stroke="#151515" stroke-width="1.2"/>
<line x1="530.20" y1="512.40" x2="685.00" y2="512.40" stroke="#151515" stroke-width="1.2"/>
<line x1="526.90" y1="512.40" x2="530.20" y2="512.40" stroke="#151515" stroke-width="1.1"/>
<text x="525.60" y="515.14" font-size="8.2" font-weight="bold" text-anchor="end" fill="#000" stroke="#000" stroke-width="0.18">0</text>
<line x1="526.90" y1="491.86" x2="530.20" y2="491.86" stroke="#151515" stroke-width="1.1"/>
<text x="525.60" y="494.60" font-size="8.2" font-weight="bold" text-anchor="end" fill="#000" stroke="#000" stroke-width="0.18">20</text>
<line x1="526.90" y1="471.32" x2="530.20" y2="471.32" stroke="#151515" stroke-width="1.1"/>
<text x="525.60" y="474.06" font-size="8.2" font-weight="bold" text-anchor="end" fill="#000" stroke="#000" stroke-width="0.18">40</text>
<line x1="526.90" y1="450.78" x2="530.20" y2="450.78" stroke="#151515" stroke-width="1.1"/>
<text x="525.60" y="453.52" font-size="8.2" font-weight="bold" text-anchor="end" fill="#000" stroke="#000" stroke-width="0.18">60</text>
<line x1="526.90" y1="430.24" x2="530.20" y2="430.24" stroke="#151515" stroke-width="1.1"/>
<text x="525.60" y="432.98" font-size="8.2" font-weight="bold" text-anchor="end" fill="#000" stroke="#000" stroke-width="0.18">80</text>
<line x1="526.90" y1="409.70" x2="530.20" y2="409.70" stroke="#151515" stroke-width="1.1"/>
<text x="525.60" y="412.44" font-size="8.2" font-weight="bold" text-anchor="end" fill="#000" stroke="#000" stroke-width="0.18">100</text>
<text x="503.7" y="455.2" font-size="9.6" font-weight="bold" text-anchor="middle" transform="rotate(-90 503.7 455.2)">Myofibril (#)</text>
<circle cx="550.40" cy="441.54" r="2.15" fill="#111"/>
<circle cx="546.40" cy="455.91" r="2.15" fill="#111"/>
<circle cx="553.90" cy="459.00" r="2.15" fill="#111"/>
<circle cx="546.40" cy="463.10" r="2.15" fill="#111"/>
<circle cx="553.90" cy="465.16" r="2.15" fill="#111"/>
<circle cx="550.40" cy="469.78" r="2.15" fill="#111"/>
<line x1="540.90" y1="459.41" x2="559.90" y2="459.41" stroke="#111" stroke-width="1.5"/>
<line x1="550.40" y1="455.61" x2="550.40" y2="463.21" stroke="#111" stroke-width="1.4"/>
<line x1="546.80" y1="455.61" x2="554.00" y2="455.61" stroke="#111" stroke-width="1.4"/>
<line x1="546.80" y1="463.21" x2="554.00" y2="463.21" stroke="#111" stroke-width="1.4"/>
<rect x="576.55" y="442.47" width="4.30" height="4.30" fill="#EBB53A"/>
<rect x="572.35" y="448.63" width="4.30" height="4.30" fill="#EBB53A"/>
<rect x="580.75" y="448.63" width="4.30" height="4.30" fill="#EBB53A"/>
<rect x="576.55" y="457.87" width="4.30" height="4.30" fill="#EBB53A"/>
<rect x="576.55" y="462.29" width="4.30" height="4.30" fill="#EBB53A"/>
<rect x="576.55" y="476.05" width="4.30" height="4.30" fill="#EBB53A"/>
<line x1="569.20" y1="457.46" x2="588.20" y2="457.46" stroke="#333" stroke-width="1.5"/>
<line x1="578.70" y1="452.32" x2="578.70" y2="462.59" stroke="#EBB53A" stroke-width="1.4"/>
<line x1="575.10" y1="452.32" x2="582.30" y2="452.32" stroke="#EBB53A" stroke-width="1.4"/>
<line x1="575.10" y1="462.59" x2="582.30" y2="462.59" stroke="#EBB53A" stroke-width="1.4"/>
<path d="M607.60,455.39 L610.07,459.90 L605.13,459.90Z" fill="#3DAE88"/>
<path d="M600.80,461.55 L603.27,466.07 L598.33,466.07Z" fill="#3DAE88"/>
<path d="M615.00,462.58 L617.47,467.09 L612.53,467.09Z" fill="#3DAE88"/>
<path d="M605.60,463.09 L608.07,467.61 L603.13,467.61Z" fill="#3DAE88"/>
<path d="M610.60,464.12 L613.07,468.63 L608.13,468.63Z" fill="#3DAE88"/>
<path d="M607.60,473.88 L610.07,478.39 L605.13,478.39Z" fill="#3DAE88"/>
<line x1="598.10" y1="465.47" x2="617.10" y2="465.47" stroke="#333" stroke-width="1.5"/>
<line x1="607.60" y1="463.41" x2="607.60" y2="467.52" stroke="#3DAE88" stroke-width="1.4"/>
<line x1="604.00" y1="463.41" x2="611.20" y2="463.41" stroke="#3DAE88" stroke-width="1.4"/>
<line x1="604.00" y1="467.52" x2="611.20" y2="467.52" stroke="#3DAE88" stroke-width="1.4"/>
<path d="M636.40,434.16 L638.87,429.64 L633.93,429.64Z" fill="#6FBDE9"/>
<path d="M636.40,442.88 L638.87,438.37 L633.93,438.37Z" fill="#6FBDE9"/>
<path d="M636.40,458.29 L638.87,453.77 L633.93,453.77Z" fill="#6FBDE9"/>
<path d="M629.20,473.08 L631.67,468.56 L626.73,468.56Z" fill="#6FBDE9"/>
<path d="M643.40,468.05 L645.87,463.53 L640.93,463.53Z" fill="#6FBDE9"/>
<line x1="626.90" y1="452.83" x2="645.90" y2="452.83" stroke="#333" stroke-width="1.5"/>
<line x1="636.40" y1="446.47" x2="636.40" y2="459.20" stroke="#6FBDE9" stroke-width="1.4"/>
<line x1="632.80" y1="446.47" x2="640.00" y2="446.47" stroke="#6FBDE9" stroke-width="1.4"/>
<line x1="632.80" y1="459.20" x2="640.00" y2="459.20" stroke="#6FBDE9" stroke-width="1.4"/>
<path d="M665.10,427.86 L667.79,430.55 L665.10,433.24 L662.41,430.55Z" fill="#C68AAE"/>
<path d="M665.10,440.49 L667.79,443.18 L665.10,445.87 L662.41,443.18Z" fill="#C68AAE"/>
<path d="M665.10,455.08 L667.79,457.76 L665.10,460.45 L662.41,457.76Z" fill="#C68AAE"/>
<path d="M665.10,461.34 L667.79,464.03 L665.10,466.72 L662.41,464.03Z" fill="#C68AAE"/>
<path d="M658.10,464.32 L660.79,467.01 L658.10,469.69 L655.41,467.01Z" fill="#C68AAE"/>
<path d="M672.30,462.78 L674.99,465.47 L672.30,468.15 L669.61,465.47Z" fill="#C68AAE"/>
<line x1="655.60" y1="454.58" x2="674.60" y2="454.58" stroke="#333" stroke-width="1.5"/>
<line x1="665.10" y1="448.42" x2="665.10" y2="460.74" stroke="#C68AAE" stroke-width="1.4"/>
<line x1="661.50" y1="448.42" x2="668.70" y2="448.42" stroke="#C68AAE" stroke-width="1.4"/>
<line x1="661.50" y1="460.74" x2="668.70" y2="460.74" stroke="#C68AAE" stroke-width="1.4"/>
<text x="554.00" y="519.00" font-size="8.1" font-weight="normal" text-anchor="end" fill="#000" stroke="#000" stroke-width="0.18" transform="rotate(-45 554.00 519.00)">SH</text>
<text x="582.30" y="519.00" font-size="8.1" font-weight="normal" text-anchor="end" fill="#000" stroke="#000" stroke-width="0.18" transform="rotate(-45 582.30 519.00)">OVX/AI</text>
<text x="611.20" y="519.00" font-size="8.1" font-weight="normal" text-anchor="end" fill="#000" stroke="#000" stroke-width="0.18" transform="rotate(-45 611.20 519.00)">OVX/AI+LIV</text>
<text x="640.00" y="519.00" font-size="8.1" font-weight="normal" text-anchor="end" fill="#000" stroke="#000" stroke-width="0.18" transform="rotate(-45 640.00 519.00)">OVX/AI+ZA</text>
<text x="668.70" y="519.00" font-size="8.1" font-weight="normal" text-anchor="end" fill="#000" stroke="#000" stroke-width="0.18" transform="rotate(-45 668.70 519.00)">OVX/AI+LIV/ZA</text>
<text x="0.00" y="263.12" font-size="9.0" font-weight="bold" text-anchor="start" fill="#000" stroke="#000" stroke-width="0.18">d</text>
<text x="78.80" y="263.23" font-size="9.3" font-weight="normal" text-anchor="middle" fill="#000" stroke="#000" stroke-width="0.18">SH</text>
<g transform="translate(2,268)">
<rect x="0" y="0" width="153.00" height="114.00" fill="#F08990"/>
<g style="filter:blur(0.35px)"><clipPath id="cp0"><rect x="0" y="0" width="153.00" height="114.00"/></clipPath><rect x="0" y="0" width="153.00" height="114.00" fill="#fcf4f6"/><g clip-path="url(#cp0)">
<path d="M59.0,-8.9L58.8,-10.6L57.3,-11.4L48.2,-11.4L47.2,-11.1L46.5,-10.3L46.4,-9.3L46.9,-8.4L53.3,-1.8L54.9,-1.3L56.3,-2.4ZM71.0,33.8L66.2,32.0L65.3,32.4L64.8,33.2L64.7,34.2L66.9,37.2L68.8,44.0L70.0,45.2L70.8,45.3L72.0,44.6L72.7,43.1L72.0,35.3L71.7,34.4ZM45.3,41.9L45.0,43.6L46.2,44.8L63.1,48.8L64.7,48.5L65.2,47.8L65.2,45.8L63.4,39.1L60.0,35.8L53.3,33.9L52.3,33.9L51.5,34.5ZM92.7,63.8L92.0,65.0L90.3,74.7L90.7,76.2L103.0,81.8L104.1,81.9L105.1,81.3L109.2,76.7L111.2,70.4L110.8,68.7L101.7,58.0L100.0,58.2ZM32.1,111.8L30.4,111.7L29.7,112.2L21.7,121.9L21.4,123.8L22.4,125.2L38.9,125.4L40.0,125.1L40.6,124.1L41.9,119.6L41.9,118.5L41.1,117.6Z" fill="#f19197"/>
<path d="M105.0,-2.9L107.2,-2.3L108.6,0.0L113.0,3.7L114.7,4.0L115.9,2.8L119.6,-9.1L119.4,-10.7L117.9,-11.4L100.4,-11.4L99.4,-11.2L98.6,-10.0L98.6,-8.5ZM154.0,-11.4L138.8,-11.2L138.1,-10.5L137.9,-9.5L138.6,0.5L139.0,1.6L139.9,2.2L141.5,1.9L144.9,-0.3L154.1,-3.4L156.6,-3.5L157.4,-4.1L157.7,-5.0L157.9,-8.9L155.0,-11.1Z" fill="#f08d94"/>
<path d="M3.2,-10.0L-8.1,-6.7L-8.5,-5.8L-10.6,4.3L-0.7,21.0L0.0,21.7L1.0,21.9L1.9,21.5L18.4,9.7L19.1,8.5L18.9,6.6L9.4,-7.7L8.5,-8.4L4.3,-9.9ZM-11.4,49.0L-11.1,50.0L-10.3,50.7L-3.2,53.4L5.6,49.2L6.3,48.5L6.6,47.5L6.2,46.5L-1.1,41.8L-2.0,40.5L-1.6,38.1L-2.3,36.3L-2.3,35.1L-1.7,34.0L-0.0,32.7L0.3,31.8L0.1,30.8L-1.5,28.6L-3.2,28.5L-4.9,29.8L-11.2,42.1ZM80.2,78.4L72.2,76.0L71.3,76.4L66.8,81.3L69.7,95.5L70.1,96.4L71.0,96.9L77.7,95.2L81.6,93.3L82.3,92.5L82.6,91.5L81.4,79.9L81.0,79.0ZM51.5,115.3L50.8,116.9L51.8,118.4L59.3,121.9L60.2,122.1L61.1,121.7L66.0,110.2L65.8,108.6L64.3,107.8L63.4,108.0L56.3,111.9ZM50.7,106.2L51.0,107.9L52.6,108.6L56.3,106.4L56.5,104.8L55.2,103.7L52.7,103.4L51.5,104.4ZM62.2,123.0L62.4,124.6L63.8,125.4L81.6,125.4L82.7,125.1L83.3,124.3L85.7,117.4L84.7,116.0L68.6,109.1L67.8,109.5L67.2,110.3ZM139.2,116.4L137.6,116.3L125.4,121.2L124.3,122.5L124.6,124.2L125.3,125.1L126.3,125.4L142.7,125.2L143.6,123.9L143.6,123.1L142.2,118.7L141.4,117.7Z" fill="#f19096"/>
<path d="M11.3,-6.9L19.9,5.6L21.6,5.6L30.7,0.7L32.3,-9.4L32.1,-10.4L31.5,-11.1L30.5,-11.4L15.6,-11.4L14.6,-11.2L11.2,-8.8L11.0,-7.8ZM10.1,102.7L9.0,101.6L7.3,101.8L-3.4,110.3L-3.0,117.8L-2.7,118.8L-1.9,119.4L12.6,117.2L13.6,116.8L14.1,115.9L14.1,114.9ZM25.3,110.1L18.0,117.5L17.9,118.5L18.4,119.4L20.1,120.6L21.0,120.5L21.8,120.0L28.0,112.5L28.4,111.7L27.8,110.0L26.1,109.6ZM14.1,111.1L15.3,112.3L17.0,111.9L23.5,105.5L26.9,103.0L27.1,102.0L26.7,101.1L22.5,95.7L21.0,95.7L11.4,100.2L11.1,101.8ZM107.8,125.1L108.7,125.3L109.7,125.0L115.8,120.9L116.5,120.0L116.5,118.9L112.2,103.4L111.5,102.4L103.6,97.6L95.7,102.0L95.0,102.8L90.0,114.5L90.9,115.9Z" fill="#ef8189"/>
<path d="M54.3,0.8L49.1,-4.1L48.2,-4.0L47.4,-3.5L46.9,-2.6L47.0,-0.3L45.6,3.8L46.0,4.7L46.8,5.3L50.0,6.1L54.0,3.6L54.7,2.8L54.8,1.8ZM38.6,2.8L40.2,2.5L43.0,-2.7L44.1,-3.3L46.3,-3.2L47.2,-3.6L47.8,-4.4L47.9,-5.4L47.4,-6.2L42.2,-11.3L34.5,-11.2L33.5,-9.9L32.3,0.1L33.5,1.3ZM8.6,98.5L9.5,99.1L10.7,99.0L21.4,94.2L22.3,93.3L22.6,91.8L22.2,90.9L15.8,83.7L14.1,83.9L10.5,86.4L4.1,89.7L3.3,90.5L3.1,91.5L3.5,92.5Z" fill="#ef8289"/>
<path d="M64.2,-11.3L61.4,-11.1L60.8,-10.3L56.1,0.9L56.3,2.8L58.1,3.9L70.5,5.4L71.7,4.3L75.4,-5.5L75.1,-7.3ZM103.3,50.3L101.9,51.3L101.8,52.2L102.0,55.6L102.4,56.6L112.0,68.1L113.5,68.1L126.7,61.7L127.0,60.1L124.2,50.9L118.7,47.8L117.5,47.6Z" fill="#f0888f"/>
<path d="M72.8,4.7L72.9,6.3L73.5,6.8L79.4,10.4L80.9,10.6L84.8,9.3L91.7,-5.6L91.6,-7.3L84.2,-11.2L77.8,-7.5L77.0,-6.6ZM160.5,43.7L159.5,45.0L159.9,46.5L162.0,48.6L163.6,48.4L164.4,46.9L164.2,43.9L162.8,43.0ZM46.8,117.3L45.1,117.4L43.2,119.1L42.1,124.0L43.0,125.2L55.9,125.4L56.9,125.2L57.5,124.5L57.7,123.5L57.4,122.6L56.7,122.0Z" fill="#ef858c"/>
<path d="M109.9,7.4L110.3,8.2L111.2,8.7L112.2,8.7L113.3,7.7L113.6,6.0L112.6,4.8L110.9,4.5L109.7,5.7ZM94.3,-7.2L93.2,-6.2L86.7,8.3L86.8,9.9L101.7,19.4L103.3,19.6L107.2,15.2L107.6,13.9L107.0,9.2L104.7,-1.6L97.8,-7.4L96.2,-7.7ZM149.7,46.8L150.0,48.6L151.6,49.3L157.3,45.8L158.1,44.5L158.0,43.3L151.3,28.2L150.6,27.3L149.4,27.1L147.9,27.6L147.4,28.4L147.3,29.4L150.2,44.5ZM142.6,45.9L144.2,46.4L145.0,46.0L145.6,44.3L142.8,29.8L141.6,28.5L140.7,28.4L135.7,29.3L134.9,30.7L134.5,38.1ZM-9.1,75.3L-9.4,76.8L-8.1,81.3L-5.4,82.6L-4.1,82.6L10.5,76.4L12.9,68.5L12.6,67.7L11.2,67.0L-2.7,67.2ZM82.6,80.3L83.8,90.6L85.2,91.4L93.0,88.6L100.3,85.0L101.0,84.3L101.3,83.4L100.9,82.4L100.2,81.8L89.9,77.3L88.8,77.2L84.0,78.4L83.2,78.8ZM98.8,91.2L89.3,95.2L89.0,96.1L89.1,97.0L93.8,100.5L94.8,100.9L100.2,98.0L100.9,97.2L101.0,96.2L100.2,94.4L100.3,92.5L99.7,91.6Z" fill="#f08990"/>
<path d="M125.3,8.8L126.8,8.6L137.3,1.8L136.7,-9.7L135.8,-11.2L122.9,-11.4L121.8,-11.1L121.2,-10.2L116.6,5.1L117.8,6.4Z" fill="#f08c92"/>
<path d="M158.4,-0.2L158.6,1.0L159.5,1.7L161.9,2.7L163.6,2.5L164.2,1.9L164.4,-9.3L164.2,-10.3L163.4,-11.0L162.4,-11.1L161.5,-10.8L159.5,-9.0ZM26.6,32.5L27.7,32.6L28.6,32.1L29.0,31.1L30.1,24.7L30.1,24.0L29.3,22.8L27.8,22.1L23.7,24.3L20.0,27.1L19.4,27.8L19.3,28.8L19.6,29.6L20.4,30.2ZM4.3,21.2L3.7,22.0L3.6,22.9L4.0,23.8L4.8,24.4L11.7,26.7L23.5,18.7L24.2,18.0L24.3,17.0L20.5,11.7L18.9,11.0ZM45.6,45.8L43.9,46.3L43.5,47.1L41.9,54.8L43.0,56.0L51.1,59.3L52.5,59.2L58.9,56.0L63.6,52.2L63.7,51.2L63.2,50.3L62.3,49.8ZM157.0,47.3L149.1,52.8L149.1,54.5L155.8,66.1L157.3,66.4L163.8,64.5L164.4,63.1L164.4,54.2L164.0,53.0L159.3,47.7L158.6,47.2ZM89.7,116.6L88.7,116.4L87.8,116.7L87.2,117.5L85.0,123.0L85.2,124.6L85.9,125.2L98.9,125.4L100.4,124.5L100.7,123.6L99.7,122.0ZM144.8,117.4L143.7,118.8L143.7,119.7L145.1,124.2L145.8,125.1L146.8,125.4L162.6,125.4L164.2,124.5L164.4,120.9L164.1,119.9L163.1,119.2L150.9,115.6L149.7,115.6Z" fill="#f0878e"/>
<path d="M-0.8,23.5L-8.7,10.2L-10.5,10.2L-11.4,11.8L-11.4,26.2L-10.6,27.7L-5.7,28.2L-2.5,26.8L-1.7,26.0ZM144.1,6.4L143.4,7.3L143.4,8.4L146.3,24.8L147.4,26.0L149.4,26.0L150.8,25.0L150.9,24.2L150.7,7.9L150.4,6.8L149.4,6.2L146.7,5.4L146.0,5.3ZM129.1,14.7L134.1,27.5L135.5,28.0L140.2,27.3L141.1,26.9L141.6,26.1L139.3,11.8L138.9,10.8L137.9,10.3L136.9,10.4L130.1,13.3ZM156.4,80.6L154.9,82.6L155.6,84.3L159.9,85.2L161.1,84.9L164.2,82.6L164.4,68.0L164.1,67.0L163.2,66.3L162.2,66.3L156.1,68.0L154.0,71.5L153.9,73.0L156.5,79.7ZM-4.1,120.7L-5.0,110.5L-8.8,108.4L-10.6,108.4L-11.4,110.0L-11.2,122.8L-10.0,123.7L-5.5,122.7L-4.7,122.2Z" fill="#f18f96"/>
<path d="M44.7,16.8L45.6,15.9L48.7,8.1L48.2,7.2L45.9,6.2L44.3,6.5L37.5,15.3L37.6,16.3L38.3,17.0L40.8,18.4ZM21.3,7.0L20.3,8.3L20.6,10.0L25.3,15.8L26.8,16.5L32.1,13.5L38.2,6.5L38.5,4.8L37.3,3.6L32.1,2.0L30.8,2.2ZM118.6,45.7L119.5,47.0L123.3,49.0L124.1,49.2L125.6,48.4L132.9,38.6L133.7,30.9L133.1,29.4L131.5,29.0L117.4,32.6L116.8,34.3ZM46.0,94.0L40.9,98.8L41.3,100.6L43.0,101.2L48.4,99.7L49.0,98.0L48.4,95.3L47.9,94.4L47.0,93.9ZM45.3,85.3L45.6,84.3L45.2,83.3L44.4,82.7L37.4,80.3L24.4,91.7L23.5,93.4L23.7,95.1L27.9,100.7L29.4,101.5L30.3,101.2L32.9,99.5L41.3,92.1ZM51.6,101.3L52.7,102.0L61.0,103.7L62.2,103.5L67.5,100.6L68.2,99.8L68.9,97.5L65.8,83.3L64.8,82.0L52.6,83.1L51.3,84.0L48.7,88.6L48.5,89.8L50.4,99.5Z" fill="#f08b92"/>
<path d="M46.7,16.2L46.8,17.7L53.4,29.5L56.7,30.7L63.3,30.7L64.7,29.9L64.9,28.3L57.3,5.5L56.4,4.5L55.5,4.3L54.6,4.6L50.4,7.8ZM90.5,62.8L91.5,63.0L92.4,62.6L100.6,56.0L100.6,50.8L99.6,48.9L98.1,48.2L81.0,48.4L80.0,48.7L79.4,49.5L79.3,50.6L81.2,58.1ZM132.2,63.1L134.0,62.9L138.1,59.8L141.6,55.4L143.6,50.0L143.7,49.0L143.2,48.1L135.3,40.6L134.4,40.2L133.4,40.3L132.6,40.9L125.7,50.6L128.3,60.7L129.3,61.9Z" fill="#f08a91"/>
<path d="M71.7,7.1L61.3,5.5L60.4,5.6L59.3,7.0L66.7,30.0L67.7,31.1L72.3,32.8L73.2,32.3L74.0,31.2L79.0,13.0L78.9,11.9L78.2,11.0ZM12.6,43.2L13.1,45.8L14.4,46.8L16.0,46.3L25.9,36.2L26.4,34.5L26.0,33.7L16.2,30.1L11.4,33.4L5.6,36.2L5.3,37.2L5.5,38.1L7.3,41.2L8.7,42.1L11.8,42.5ZM2.1,24.6L0.4,24.8L-0.6,26.9L1.9,31.3L3.6,31.4L7.9,29.3L8.2,27.7L7.8,27.0ZM48.7,66.6L36.1,71.8L35.8,73.5L37.8,78.8L44.8,81.4L46.2,80.5L50.5,72.8L51.1,67.5L50.5,66.8ZM35.4,62.7L35.1,64.4L35.6,65.2L37.4,65.6L46.4,62.0L47.1,61.5L47.5,59.9L46.4,58.6L42.2,57.0L41.1,56.9L40.2,57.4Z" fill="#f18d94"/>
<path d="M101.0,28.7L102.6,25.9L102.6,22.4L101.7,20.8L85.9,11.0L84.4,10.8L81.5,11.6L80.2,12.9L75.8,29.7L76.9,31.0L77.7,31.1L99.6,29.4ZM152.6,5.9L151.9,7.4L152.1,22.7L152.4,23.7L153.2,24.4L154.3,24.4L163.8,22.0L164.4,20.6L164.4,6.2L164.1,5.2L163.3,4.5L157.7,2.5ZM-11.4,32.5L-11.2,33.4L-10.5,34.1L-9.6,34.3L-8.7,34.0L-7.2,31.8L-7.3,30.1L-8.7,29.2L-10.5,29.3L-11.2,30.0ZM77.1,100.6L68.7,105.5L68.4,106.4L68.7,107.4L69.5,108.0L87.1,115.5L88.5,114.4L93.6,102.6L92.8,101.2L85.6,96.6Z" fill="#f0868d"/>
<path d="M124.4,15.9L112.4,28.3L112.7,29.9L115.4,31.3L116.6,31.4L130.6,28.0L131.5,27.5L132.0,26.6L131.9,25.6L128.2,16.2L127.6,15.4L126.7,15.1ZM111.1,17.8L111.5,18.7L112.3,19.3L113.3,19.3L114.2,18.9L121.4,11.7L122.0,10.9L122.0,9.9L121.6,9.1L116.7,7.2L115.6,7.2L114.7,7.8L110.7,12.9ZM103.7,24.4L104.6,26.0L105.5,26.2L107.8,25.1L108.5,24.3L108.7,23.3L107.9,19.5L107.0,18.9L106.0,19.0L105.1,19.5L103.7,21.9Z" fill="#ef8188"/>
<path d="M30.0,32.4L30.1,33.4L30.7,34.2L42.5,42.1L44.1,41.5L49.9,34.5L50.3,33.6L50.2,32.6L49.5,31.8L46.5,30.0L38.9,22.2L37.6,21.6L31.6,24.3ZM153.8,25.7L152.9,26.2L152.5,27.2L152.6,28.2L158.4,41.4L159.9,42.5L163.4,41.2L164.1,40.5L164.4,39.5L164.4,25.4L164.1,24.4L163.3,23.8L162.2,23.7ZM128.1,78.9L124.6,81.4L124.4,82.3L124.8,83.2L125.5,83.8L128.5,85.1L129.6,85.3L130.5,84.7L137.4,77.4L137.9,76.5L137.8,75.4L136.9,73.5L135.5,72.5L134.7,72.6ZM110.7,75.5L111.1,77.2L115.3,79.3L116.5,79.4L120.3,78.3L125.3,75.2L130.4,70.1L132.9,67.2L133.2,66.2L133.1,65.3L132.2,64.4L128.8,62.9L127.3,62.9L112.7,69.9Z" fill="#f19198"/>
<path d="M88.5,43.8L87.7,45.4L88.6,46.9L98.0,46.8L98.9,45.4L99.2,38.8L98.5,38.1L97.5,37.9L96.6,38.2ZM73.7,41.7L74.6,43.1L76.2,43.2L85.8,39.4L92.9,34.5L93.5,33.7L93.4,32.0L91.8,31.2L75.3,32.5L74.2,33.0L73.3,34.1L73.2,34.9ZM42.0,116.8L42.9,117.1L43.9,116.8L45.5,115.7L50.6,103.6L50.7,102.6L50.3,101.7L49.5,101.2L33.8,104.4L31.1,106.4L31.1,109.0L31.9,110.3Z" fill="#ef838b"/>
<path d="M110.4,30.4L108.8,30.5L101.1,35.4L100.0,46.8L100.3,48.0L101.5,49.2L102.5,49.3L115.8,46.8L117.2,45.6L115.2,32.7ZM152.5,112.5L152.3,114.1L153.5,115.2L162.1,117.7L163.7,117.4L164.4,116.0L164.2,105.4L163.7,104.8L162.1,104.5L157.2,105.9L156.2,106.7Z" fill="#f0858d"/>
<path d="M-11.4,71.1L-10.6,72.6L-8.9,72.8L-4.1,66.7L-3.7,65.6L-3.8,55.8L-4.1,54.8L-4.9,54.1L-9.8,52.3L-10.6,52.6L-11.4,54.1Z" fill="#f18f95"/>
<path d="M-2.6,64.1L-1.7,65.6L-0.8,65.9L13.5,65.9L14.7,65.4L18.4,61.8L18.9,60.8L18.8,59.7L14.0,50.2L13.1,49.3L10.3,48.4L-1.6,54.0L-2.3,54.7Z" fill="#f18e95"/>
<path d="M18.2,55.9L19.6,56.9L20.5,56.7L22.1,55.3L23.8,55.5L24.6,56.8L25.7,62.1L31.0,64.2L32.0,64.3L32.9,63.7L40.0,55.9L42.7,45.3L42.6,44.2L42.0,43.4L30.4,35.4L28.8,35.2L15.7,48.3L15.2,49.2L15.4,50.3Z" fill="#f08c93"/>
<path d="M62.9,60.4L63.1,62.0L70.3,72.2L71.9,72.9L72.7,72.6L79.7,59.1L79.8,57.9L77.8,50.1L76.1,49.5L75.3,49.9L70.3,54.2L70.2,56.4L69.7,57.3L68.1,57.9L66.1,57.4L65.3,57.7L63.8,58.8Z" fill="#ef838a"/>
<path d="M36.2,78.1L34.2,73.3L33.3,72.9L32.4,73.0L26.5,75.2L18.0,81.1L17.4,81.9L17.2,82.9L17.7,83.8L22.5,89.4L23.3,90.0L25.1,89.6L35.7,80.0L36.2,79.1ZM12.4,74.8L12.7,76.5L14.3,77.2L24.2,70.3L24.3,68.6L21.7,63.0L20.9,62.4L19.9,62.4L19.0,62.8L15.2,66.4Z" fill="#ef828a"/>
<path d="M66.1,80.1L70.3,75.5L70.1,73.9L62.3,62.9L61.5,62.3L60.5,62.2L57.6,62.9L56.7,64.4L55.8,68.7L54.7,77.7L54.0,79.9L54.3,80.8L55.0,81.4L56.0,81.6L65.1,80.6ZM139.1,75.5L140.1,76.4L147.6,78.9L149.0,78.0L150.6,75.1L150.7,73.6L148.7,68.5L147.7,60.0L147.4,59.1L146.5,58.5L145.6,58.5L144.7,58.9L143.1,60.5L137.2,69.0L136.8,69.9L137.0,70.9Z" fill="#ef848b"/>
<path d="M87.8,76.3L88.7,75.8L89.1,74.9L90.7,65.6L90.6,64.5L89.7,63.7L82.4,60.2L80.6,60.3L74.1,73.0L74.0,74.0L74.3,74.9L81.4,77.6ZM-1.8,120.8L-3.1,121.8L-3.3,122.7L-2.3,124.6L-0.8,125.4L18.4,125.4L19.4,125.1L20.0,124.4L20.2,123.4L19.6,122.1L15.2,118.2Z" fill="#ef8088"/>
<path d="M-2.1,90.4L-2.8,86.7L-4.8,84.3L-7.6,83.0L-8.6,82.9L-9.5,83.4L-10.9,84.9L-11.4,86.1L-11.4,104.7L-11.2,105.6L-5.3,108.8L-4.4,109.0L-3.4,108.6L6.6,100.9L7.2,100.2L7.3,99.2L1.7,92.1L1.1,91.6L-1.0,91.2ZM159.3,86.2L153.6,85.5L152.5,86.5L149.2,94.0L149.5,95.8L155.7,104.0L156.5,104.6L157.6,104.6L163.1,103.0L164.1,102.4L164.4,101.3L164.4,95.7L160.7,87.3Z" fill="#ef848c"/>
<path d="M126.9,95.9L127.7,95.3L128.1,94.4L129.0,88.0L128.8,86.9L127.9,86.2L121.4,83.3L120.2,83.2L112.6,85.1L106.0,87.5L105.1,88.2L104.8,89.2L104.9,93.7L114.2,99.7Z" fill="#f18e94"/>
<path d="M148.5,80.9L140.2,77.7L139.2,77.6L138.3,78.1L130.7,86.2L130.3,87.2L129.3,95.7L135.9,101.9L137.4,102.4L138.2,102.0L147.9,94.2L151.5,85.8L151.6,84.8ZM118.4,121.1L117.0,121.4L115.4,122.8L115.2,123.7L116.1,125.2L121.3,125.4L122.8,124.7L123.0,123.1L122.5,122.2Z" fill="#f0858c"/>
<path d="M117.7,100.0L116.8,100.6L116.4,101.6L116.7,102.6L119.3,107.1L120.4,114.6L120.0,116.1L118.5,117.0L117.9,117.9L117.9,118.8L118.4,119.7L122.6,120.8L123.6,120.7L137.2,115.0L137.7,113.6L136.5,104.6L135.9,103.5L129.1,97.3L127.3,96.9Z" fill="#f19097"/>
<path d="M138.9,114.1L139.8,115.4L142.6,116.9L149.3,114.6L150.2,113.8L154.8,106.7L155.1,105.6L154.7,104.6L148.4,96.7L146.6,96.9L137.8,104.0Z" fill="#f19298"/>
<path d="M46.5,-10.3h0.01M119.6,-9.1h0.01M105.0,-2.9h0.01M15.6,-11.4h0.01M58.1,3.9h0.01M72.8,4.7h0.01M77.8,-7.5h0.01M135.8,-11.2h0.01M138.6,0.5h0.01M161.5,-10.8h0.01M162.4,-11.1h0.01M-11.4,26.2h0.01M-2.5,26.8h0.01M46.7,16.2h0.01M55.5,4.3h0.01M76.9,31.0h0.01M102.6,22.4h0.01M154.3,24.4h0.01M-1.6,38.1h0.01M124.1,49.2h0.01M119.5,47.0h0.01M-10.6,72.6h0.01M-10.6,52.6h0.01M32.9,63.7h0.01M15.4,50.3h0.01M63.6,52.2h0.01M63.8,58.8h0.01M81.2,58.1h0.01M113.5,68.1h0.01M143.7,49.0h0.01M132.2,63.1h0.01M157.0,47.3h0.01M149.1,52.8h0.01M164.4,46.9h0.01M-9.1,75.3h0.01M62.3,62.9h0.01M65.1,80.6h0.01M90.7,65.6h0.01M104.1,81.9h0.01M164.2,82.6h0.01M-2.8,86.7h0.01M-2.1,90.4h0.01M104.8,89.2h0.01M104.8,89.2h0.01M-10.0,123.7h0.01M-5.0,110.5h0.01M85.6,96.6h0.01M77.1,100.6h0.01M90.0,114.5h0.01M117.9,117.9h0.01M127.3,96.9h0.01M137.8,104.0h0.01M55.9,125.4h0.01M43.0,125.2h0.01M82.7,125.1h0.01M115.2,123.7h0.01M121.3,125.4h0.01M142.7,125.2h0.01M143.6,123.1h0.01M162.6,125.4h0.01" stroke="#6e5f9e" stroke-width="1.5" stroke-linecap="round" opacity="0.8"/>
</g></g>
<text x="133.70" y="99.60" font-size="8.2" font-style="italic" text-anchor="middle" fill="#111" stroke="#111" stroke-width="0.25">100 µm</text>
<line x1="119.70" y1="105.40" x2="146.60" y2="105.40" stroke="#1a1a1a" stroke-width="1.3"/>
<line x1="119.70" y1="102.40" x2="119.70" y2="108.40" stroke="#1a1a1a" stroke-width="1.2"/>
<line x1="146.60" y1="102.40" x2="146.60" y2="108.40" stroke="#1a1a1a" stroke-width="1.2"/>
<line x1="152.70" y1="0.00" x2="152.70" y2="114.40" stroke="#A6C8E8" stroke-width="0.9"/>
<line x1="0.00" y1="113.90" x2="153.00" y2="113.90" stroke="#A6C8E8" stroke-width="1.0"/>
</g>
<text x="236.80" y="263.23" font-size="9.3" font-weight="normal" text-anchor="middle" fill="#000" stroke="#000" stroke-width="0.18">OVX/AI</text>
<g transform="translate(160,268)">
<rect x="0" y="0" width="153.00" height="114.00" fill="#E57A85"/>
<g style="filter:blur(0.35px)"><clipPath id="cp1"><rect x="0" y="0" width="153.00" height="114.00"/></clipPath><rect x="0" y="0" width="153.00" height="114.00" fill="#fcf4f6"/><g clip-path="url(#cp1)">
<path d="M0.6,-6.0L1.5,-6.3L4.7,-9.6L5.0,-10.2L4.6,-11.2L-7.9,-11.3L-8.8,-10.9L-10.0,-8.6L-9.2,-7.5ZM43.8,40.6L43.7,41.6L45.4,42.7L59.5,42.2L59.9,41.2L58.4,33.3L58.0,33.0L56.6,33.2L47.4,36.6L45.7,37.6ZM39.4,67.9L41.1,63.0L34.3,57.5L23.6,61.8L23.1,62.5L23.3,63.4L27.3,68.2L30.5,73.4L31.5,73.3ZM25.2,123.6L25.1,124.9L25.9,125.3L33.7,125.3L34.2,125.2L34.7,124.2L34.0,123.4L28.3,121.6L27.4,121.8Z" fill="#e47480"/>
<path d="M17.3,-11.3L16.5,-10.9L16.4,-10.0L17.6,-7.2L18.5,-6.6L31.5,-6.2L32.6,-7.1L32.9,-10.2L32.8,-10.8L31.9,-11.3ZM90.1,35.3L89.4,36.0L89.6,37.0L93.1,40.8L93.9,40.8L96.7,39.2L96.0,34.9L95.3,34.2ZM83.0,31.2L83.7,32.3L85.3,32.3L88.7,31.2L89.4,30.1L88.3,29.3L84.0,29.7L83.3,30.2ZM-11.3,116.7L-10.9,117.5L-10.0,117.6L5.2,111.9L5.6,111.5L5.6,110.4L3.0,106.6L2.1,106.7L0.5,108.2L-0.6,108.2L-1.6,107.1L-1.3,105.3L-1.6,104.4L-4.8,103.8L-8.5,105.6L-11.3,108.2ZM109.6,100.0L121.9,100.3L122.3,99.3L121.4,91.0L120.9,90.2L109.7,90.1L103.5,94.5L103.5,96.1L104.0,97.0Z" fill="#e67d87"/>
<path d="M33.8,-6.7L34.2,-5.8L35.2,-5.7L45.4,-9.4L45.9,-9.7L46.0,-10.8L45.1,-11.3L34.7,-11.2L34.2,-10.5ZM59.9,6.9L59.7,7.9L60.6,8.5L72.1,9.1L77.0,6.5L76.8,-1.0L74.0,-7.4L72.6,-7.3ZM0.7,30.9L2.0,23.0L1.6,22.0L-7.3,21.0L-11.2,23.7L-11.3,30.9L-10.9,31.7L-1.2,32.3ZM-2.3,33.6L-10.8,33.3L-11.3,34.2L-11.2,41.3L-9.0,45.4L-3.5,46.1L-2.9,45.4L-1.5,34.2ZM44.5,44.0L42.8,42.7L41.8,42.6L35.5,45.2L34.9,46.2L35.2,56.2L41.8,61.6L42.7,61.5L49.9,55.9L50.3,55.1ZM124.0,36.3L123.8,37.4L126.3,43.4L127.2,44.0L142.0,36.4L142.6,35.4L142.0,34.5L131.4,30.0ZM110.8,101.4L109.8,102.0L105.5,112.6L105.4,113.2L106.1,114.0L118.1,111.7L119.8,110.6L121.0,108.4L121.8,102.8L121.4,101.9Z" fill="#e4737f"/>
<path d="M53.8,-11.3L52.9,-10.8L52.8,-10.3L53.0,-9.8L54.1,-9.1L56.5,-9.4L57.2,-10.0L56.7,-11.2ZM47.3,102.5L47.7,103.3L48.6,103.5L57.9,100.7L61.5,94.3L61.5,93.4L53.2,87.1L52.2,87.0L47.7,93.9ZM50.1,106.9L49.4,108.0L49.9,108.7L50.7,109.0L52.3,108.3L52.9,107.5L52.1,106.4ZM63.7,93.9L62.9,94.4L60.8,98.3L60.9,99.4L61.4,99.7L78.5,95.6L79.4,94.8L79.6,93.6L78.2,92.2L77.4,91.9ZM58.0,104.7L57.2,105.8L58.3,106.6L72.1,105.3L72.8,104.9L74.7,102.1L74.8,101.2L73.6,100.6ZM102.2,95.3L101.5,94.4L92.6,90.8L86.8,92.2L79.9,102.8L79.8,103.8L89.2,110.4L90.1,110.5L102.0,97.2ZM147.4,104.4L152.1,110.2L153.1,110.5L164.2,106.8L164.3,101.9L160.3,94.4L159.2,93.9L156.5,94.7L148.0,100.0L147.5,100.8ZM149.3,119.2L139.0,123.8L138.9,124.8L139.8,125.3L152.5,125.3L153.0,125.2L153.5,124.2L150.1,119.6Z" fill="#e7828c"/>
<path d="M-0.1,-4.7L-10.8,-6.3L-11.3,-5.4L-11.2,6.0L-10.5,6.6L-9.0,6.7L-2.3,4.3L0.2,-3.6ZM35.4,13.9L36.0,14.7L37.0,14.6L49.1,6.0L49.5,5.0L49.2,4.5L48.0,4.2L45.2,6.3L36.2,10.7L35.2,11.8ZM35.1,5.6L35.5,6.5L36.5,6.6L40.5,4.6L41.0,3.4L40.2,2.7L36.0,2.1L35.4,3.0ZM153.9,-5.1L153.1,-6.2L147.6,-7.6L144.5,-6.6L136.6,2.3L136.5,3.4L142.3,6.3L144.8,4.9L152.2,2.6L152.9,1.8ZM8.2,87.3L7.5,87.9L6.7,93.1L7.1,94.1L7.6,94.3L12.3,92.1L15.6,88.0L15.6,87.5L14.8,86.9L11.2,86.5ZM-3.8,99.3L-3.4,100.2L-2.4,100.2L-1.2,98.9L2.4,96.9L3.9,89.9L3.6,89.0L2.7,88.8L-3.4,90.6ZM120.5,117.0L118.8,117.1L118.1,117.9L116.8,124.1L117.2,125.2L121.7,125.2L129.7,121.3L130.2,120.6L128.4,113.6L127.8,112.9L124.9,112.0L124.0,112.1L121.4,116.3Z" fill="#e47580"/>
<path d="M8.7,-11.3L8.0,-11.1L1.8,-4.7L-0.5,3.2L-0.2,4.3L9.6,5.4L16.4,-5.6L16.5,-6.5L14.3,-11.2ZM53.1,-2.2L53.1,-0.7L52.1,1.0L51.2,3.6L51.3,4.6L51.9,5.2L57.5,7.2L72.6,-9.2L72.8,-10.3L71.1,-11.2L55.4,-7.8L54.7,-7.1ZM137.3,48.0L136.3,48.0L135.9,48.4L129.0,63.2L129.9,64.2L141.8,66.1L142.6,65.3L145.6,53.6ZM29.5,96.4L29.2,97.4L29.5,97.8L30.5,98.1L46.1,93.5L49.6,88.4L49.6,87.5L48.8,86.9L40.6,86.5Z" fill="#e47782"/>
<path d="M18.4,-5.3L17.5,-4.8L12.6,3.2L12.6,4.3L13.0,4.6L15.5,4.5L22.1,0.8L25.5,-2.4L26.7,-2.9L28.1,-2.5L28.7,-1.7L28.8,-0.7L28.4,0.2L26.1,2.7L26.2,3.6L27.1,4.0L30.1,3.8L31.4,2.6L32.0,-1.4L33.3,-3.3L32.9,-4.7ZM39.1,14.7L38.7,15.7L39.3,16.5L52.7,20.7L53.4,20.1L57.3,9.3L56.7,8.5L51.1,6.4ZM81.3,55.2L80.8,56.1L80.6,64.2L81.0,65.0L82.0,65.7L96.1,59.4L96.6,58.7L95.9,55.0L95.1,54.3L86.3,52.9ZM90.7,114.8L89.6,114.6L72.0,123.1L71.4,123.9L71.6,124.7L72.6,125.3L94.3,125.2L94.8,124.5L95.3,119.1Z" fill="#e4737e"/>
<path d="M34.6,-3.5L35.7,-1.5L36.1,0.6L44.6,2.1L50.2,-2.3L51.8,-2.9L53.3,-7.6L52.8,-8.3L49.6,-9.5L35.3,-4.3ZM87.3,-2.1L86.5,-1.0L86.3,5.0L91.4,7.1L92.5,6.8L98.2,-0.2L96.3,-3.2ZM82.9,-0.3L82.3,-1.2L81.8,-1.3L79.0,-0.9L78.3,-0.3L78.5,5.7L79.2,6.6L81.3,7.2L82.4,6.8ZM154.3,0.7L154.7,1.6L156.2,2.2L156.9,3.1L156.9,5.2L157.5,6.1L160.7,7.3L164.1,6.1L164.3,-9.1L163.9,-10.0L162.9,-10.0L155.4,-6.0ZM73.0,26.8L79.1,26.2L80.4,24.1L82.3,11.5L82.3,9.2L81.7,8.7L77.6,7.8L73.0,10.6L67.5,25.0L68.3,25.8ZM-1.4,43.8L-1.0,44.7L-0.2,44.9L15.6,42.8L16.7,37.2L14.7,32.1L13.8,31.5L5.9,31.7L5.4,32.5L4.9,35.9L1.2,39.6L-0.8,40.6ZM100.3,53.7L101.4,52.9L103.7,41.7L102.9,41.1L97.5,40.5L94.9,41.8L94.4,42.7L97.9,48.2L98.9,52.9L99.2,53.4ZM87.5,50.5L87.5,51.4L88.2,51.9L94.1,52.8L95.2,52.1L94.7,49.5L91.4,44.8L90.9,44.7L90.1,45.3ZM158.3,36.0L157.2,35.7L155.7,36.8L142.4,41.5L138.1,45.5L137.9,46.6L146.6,52.4L153.8,49.7L154.3,49.2L159.6,38.4L159.4,37.3ZM160.7,36.7L163.3,37.0L164.2,36.5L164.3,30.0L163.8,29.2L162.8,29.2L157.6,32.4L157.8,33.5ZM27.5,108.1L32.5,107.9L45.2,104.5L45.9,103.6L46.1,95.8L44.9,95.2L26.8,100.7L25.5,106.6ZM135.5,93.7L135.4,94.6L136.2,95.2L139.3,94.1L140.1,89.9L139.7,88.9L138.6,88.8L138.2,89.2ZM122.9,89.4L122.6,90.1L123.6,98.5L123.8,99.0L124.9,99.3L127.3,98.3L135.1,86.0L135.1,84.9L134.2,84.5L127.0,84.9Z" fill="#e57883"/>
<path d="M75.4,-10.3L74.8,-9.5L74.8,-9.0L78.0,-2.3L94.9,-4.5L95.7,-5.2L95.1,-9.0L94.2,-9.8L76.8,-10.7ZM40.0,18.1L39.1,18.3L38.7,19.2L39.9,20.7L47.4,23.9L52.1,25.1L53.1,24.8L53.4,24.3L53.1,22.8L52.4,22.1ZM37.6,23.9L33.0,18.6L32.0,18.7L31.6,19.7L33.3,26.8L48.2,30.8L49.0,30.7L50.1,29.7L49.9,28.7L49.4,28.4L46.0,27.5ZM5.0,74.8L5.8,75.5L6.7,75.2L15.9,65.2L16.1,64.7L15.8,63.8L13.1,61.4L12.0,61.3L9.7,62.4L3.2,68.3ZM-0.5,71.4L-1.8,72.6L-1.6,73.6L-0.3,74.1L0.7,73.9L0.9,72.9L0.5,71.7ZM156.1,48.6L156.2,49.7L156.7,50.0L163.1,51.8L164.2,51.2L164.3,39.3L163.9,38.5L161.7,38.3L160.8,38.9Z" fill="#e67e89"/>
<path d="M97.3,-4.5L99.6,-1.0L105.2,-1.9L105.8,-2.3L111.2,-9.8L111.3,-10.8L110.4,-11.3L97.2,-11.3L96.3,-9.8ZM111.5,0.4L112.4,0.4L114.0,-2.1L115.3,-2.4L116.4,-1.3L115.5,1.1L115.5,2.1L117.6,3.0L120.0,2.1L126.3,-6.9L125.0,-11.1L114.5,-11.3L113.7,-10.9L107.5,-2.1L108.1,-1.1ZM26.0,75.5L17.5,66.2L16.4,66.5L7.2,76.8L11.1,84.8L11.9,85.3L15.9,85.7L16.6,85.4L26.2,76.5ZM71.6,72.1L71.7,70.1L70.9,69.4L69.6,70.1L66.2,77.1L66.5,78.3L77.3,80.3L83.7,73.1L83.2,71.4L82.5,70.8L72.9,73.0ZM76.9,66.9L76.3,67.6L77.0,68.8L80.2,68.1L80.9,67.4L80.6,66.4L79.8,65.9ZM91.5,89.5L92.1,89.0L95.4,82.7L95.1,81.4L93.7,81.7L88.5,89.0L89.3,90.0ZM78.7,90.4L79.0,91.1L80.3,92.0L81.3,91.6L85.1,85.3L92.6,75.4L92.7,74.3L92.3,73.9L85.0,74.0L78.5,81.1L78.2,81.8ZM156.6,92.2L157.3,92.9L159.8,92.4L164.2,89.5L164.3,83.2L163.9,82.3L162.9,82.3L155.5,86.1L155.3,86.9Z" fill="#e6808b"/>
<path d="M145.9,-10.6L145.0,-11.3L127.8,-11.3L126.8,-10.5L127.4,-8.1L128.4,-7.4L143.6,-7.7L146.0,-8.7Z" fill="#e6818c"/>
<path d="M159.0,-9.5L159.6,-10.3L159.4,-10.8L158.6,-11.3L148.4,-11.3L147.4,-10.5L147.6,-9.4L148.3,-8.7L154.3,-7.3ZM107.5,18.9L107.3,19.7L107.9,20.5L111.6,22.2L127.9,15.4L128.5,14.3L127.0,7.4L120.5,3.8L118.0,4.2ZM40.0,123.6L39.7,124.5L40.7,125.3L57.1,125.3L57.9,125.0L58.7,123.8L58.5,122.9L50.9,114.6L50.0,114.3Z" fill="#e47681"/>
<path d="M-9.4,12.3L-10.4,11.4L-11.3,12.4L-11.3,20.0L-11.2,20.6L-10.3,21.0L-9.0,20.3L-8.6,19.4ZM20.4,34.9L19.8,40.1L20.6,40.7L21.5,40.3L31.8,27.2L30.1,18.9L29.4,18.1L23.4,19.6L19.4,25.2ZM161.8,15.3L162.2,16.1L163.3,16.3L163.8,16.2L164.3,15.3L164.3,9.0L163.5,8.0L161.8,8.3L161.1,9.0ZM47.6,44.0L46.7,44.5L46.7,45.4L51.9,54.6L60.4,53.2L65.6,48.1L65.3,47.1L60.3,43.6ZM49.4,112.9L49.8,110.3L46.0,108.3L29.1,112.6L28.3,113.5L28.5,120.1L38.3,123.3ZM95.7,117.6L96.8,117.8L103.4,114.4L108.5,101.8L108.0,100.6L103.8,98.3L102.9,98.3L91.0,111.6L90.8,112.5L91.1,113.5Z" fill="#e47581"/>
<path d="M-7.4,18.9L-6.5,19.8L2.9,20.5L4.1,19.3L4.1,18.3L3.3,17.8L0.1,17.8L-1.1,17.3L-1.9,15.5L-1.8,14.5L-0.6,13.3L6.2,10.9L9.1,8.7L9.0,7.2L8.3,6.7L-1.4,5.6L-8.1,7.9L-8.4,8.7ZM100.3,73.7L100.1,74.7L100.9,75.3L112.5,77.4L116.8,75.4L117.3,74.9L120.4,66.1L117.8,63.9L109.2,65.6L102.7,70.8Z" fill="#e6818b"/>
<path d="M10.8,13.3L11.3,14.1L13.9,14.2L29.0,11.5L29.8,10.6L30.1,5.7L29.1,5.2L21.4,5.7L16.2,8.7L11.2,12.2ZM22.1,16.3L21.3,17.0L21.3,17.5L22.4,18.4L24.8,17.9L25.5,17.2L24.9,15.9ZM126.0,-4.1L125.9,-3.1L126.2,-2.7L128.4,-2.7L129.2,-2.2L131.6,3.1L132.5,3.7L134.5,2.8L141.2,-5.2L141.1,-5.8L140.2,-6.3L128.0,-6.1L127.2,-5.7ZM128.4,4.5L125.8,-2.0L124.8,-2.1L121.7,2.3L122.2,3.2L127.4,5.9L128.3,5.4ZM141.0,18.0L140.8,18.9L141.5,19.6L153.8,22.0L160.5,16.4L159.6,8.6L155.2,6.5L150.5,7.7L147.3,10.1ZM62.0,60.4L61.3,59.2L60.4,59.4L49.3,69.0L49.0,69.5L49.2,70.4L51.3,71.3L52.2,71.2L60.8,64.9ZM51.9,56.1L42.8,63.0L41.4,66.8L41.6,67.8L42.7,68.3L43.7,68.1L56.6,56.8L56.6,56.3L56.0,55.5ZM140.8,93.8L141.2,94.8L146.4,98.7L147.5,98.8L155.4,93.6L153.8,86.4L143.8,83.1L142.8,83.3L142.3,84.1Z" fill="#e67f89"/>
<path d="M105.9,13.1L101.0,12.7L100.4,13.5L100.8,14.4L105.6,17.6L106.6,17.7L111.7,10.6L111.8,9.6L110.6,9.0ZM94.3,6.7L94.3,8.0L96.6,9.0L105.1,10.1L109.1,6.2L111.2,2.4L110.6,1.5L106.2,-0.6L99.9,0.4ZM9.9,47.9L9.0,48.3L8.9,49.3L9.3,49.7L12.2,51.7L13.6,51.5L14.1,49.3L13.7,48.3ZM-9.7,58.4L-9.7,59.3L-8.9,59.9L9.1,61.1L12.1,59.7L12.5,58.1L12.2,57.2L10.4,55.4L9.5,53.9L6.1,51.6L-0.9,48.2L-2.3,47.1L-3.3,47.7ZM14.8,52.7L15.1,53.7L19.9,58.8L21.0,60.7L22.2,61.0L33.6,56.1L33.5,46.1L32.7,45.6L27.2,45.2L18.3,46.2L15.6,48.4ZM117.9,50.5L124.2,46.1L125.3,44.8L122.2,37.2L115.6,35.7L105.4,41.2L102.9,51.9L103.2,52.8L104.1,53.1ZM155.0,71.1L163.7,72.8L164.3,71.9L164.3,61.2L163.5,60.2L162.6,60.5L154.2,69.9L154.5,70.8ZM126.8,82.9L127.8,83.5L136.8,82.9L145.1,70.4L144.9,69.1L142.7,67.4L141.5,67.5L125.7,78.4L125.3,79.6ZM14.3,123.4L8.3,122.9L7.5,123.8L7.4,124.5L7.9,125.2L14.2,125.3L15.2,124.4Z" fill="#e57a85"/>
<path d="M19.1,18.8L18.1,19.1L17.8,20.0L18.2,21.6L19.0,22.3L20.0,21.9L21.0,20.2L20.7,19.4ZM6.3,20.4L5.8,29.7L6.7,30.3L14.4,30.1L16.0,27.5L13.8,18.1L13.0,17.8L9.1,17.8L6.6,19.4ZM77.5,34.4L77.5,33.8L76.6,33.2L65.3,32.3L62.9,31.8L60.7,32.2L59.9,33.3L61.4,42.2L66.5,46.4L67.4,46.6L69.6,44.6ZM8.7,83.0L7.8,82.4L6.9,83.0L7.0,85.0L7.7,85.9L8.8,85.7L9.6,84.9ZM3.0,87.3L3.8,86.2L3.0,80.1L1.8,76.2L-3.9,74.4L-8.1,75.7L-11.3,82.5L-11.2,86.7L-4.5,89.2ZM21.9,93.0L25.7,97.4L26.7,97.2L38.5,86.5L38.8,85.5L38.5,85.0L35.2,82.3L34.0,82.3L22.1,91.6L21.7,92.0ZM17.8,88.2L19.2,88.3L29.1,80.6L29.5,79.7L28.5,78.0L27.5,77.5L27.0,77.7L17.6,86.3L17.3,87.2ZM136.9,122.8L137.6,122.8L148.9,117.8L149.4,117.3L151.4,111.6L146.5,106.1L130.0,112.9L129.8,113.8L131.8,120.7ZM150.7,117.5L150.9,118.5L156.2,125.2L163.8,125.2L164.3,124.3L164.2,109.2L163.0,108.7L152.9,112.1Z" fill="#e57b86"/>
<path d="M55.1,25.3L55.8,26.0L59.2,26.7L65.7,25.3L71.1,11.7L71.0,10.8L70.2,10.3L58.8,9.9L54.3,21.5ZM113.1,61.5L112.9,62.5L113.5,63.2L117.3,62.4L118.0,58.8L116.8,58.1ZM101.4,57.8L102.2,60.0L105.2,61.7L106.3,61.6L113.5,54.5L113.8,53.6L112.6,52.8L102.7,54.7L101.9,55.5ZM-2.5,125.2L-1.6,125.3L5.8,123.5L6.5,123.0L7.3,121.6L8.8,113.9L8.5,113.1L6.9,112.6L-9.3,118.9L-9.4,119.9L-9.1,120.3Z" fill="#e6808a"/>
<path d="M105.4,20.7L105.9,19.9L105.4,19.1L93.0,10.8L90.4,10.1L89.1,10.8L84.9,18.4L83.7,27.8L84.7,28.4L94.8,27.3ZM68.0,70.3L67.6,69.0L61.8,66.0L53.2,72.1L52.8,73.1L55.4,81.1L56.4,81.3L63.8,78.4ZM145.7,68.0L147.0,68.0L154.2,61.0L155.2,60.9L156.3,61.3L157.8,63.1L158.7,62.8L164.1,57.0L164.3,56.3L164.1,53.6L155.0,50.9L147.2,53.8L143.9,65.7L144.2,66.8ZM102.1,93.2L103.1,93.1L108.6,88.7L111.2,79.8L110.9,78.8L100.9,76.6L99.8,77.2L93.7,89.2L94.3,90.1Z" fill="#e57984"/>
<path d="M136.6,16.0L136.3,16.9L136.5,17.4L138.8,18.2L142.7,13.8L142.8,12.7L141.9,12.2L141.3,12.3ZM135.2,4.4L133.4,4.8L132.9,5.6L133.8,10.7L134.5,11.5L135.0,11.5L139.6,8.3L140.0,7.4L139.5,6.6ZM133.1,27.8L133.1,29.0L133.5,29.4L145.8,34.8L148.9,34.0L152.5,31.4L151.0,25.9L137.8,23.0L136.7,23.3ZM113.3,78.5L112.7,79.1L110.3,87.5L110.9,88.7L121.6,88.7L125.7,84.0L123.3,78.9L117.7,76.5ZM162.5,95.6L163.3,96.1L164.2,95.6L164.3,92.9L163.8,92.0L162.8,92.1L161.6,93.0L161.6,94.0Z" fill="#e67d88"/>
<path d="M45.9,33.4L46.5,32.7L45.8,31.5L33.0,28.3L23.1,40.4L22.9,41.3L24.0,42.0L28.9,41.4L36.7,38.1ZM46.4,71.5L36.1,80.6L36.5,81.6L40.9,85.1L51.1,85.8L52.4,85.2L54.2,82.4L51.3,72.8L47.4,71.3ZM31.6,75.4L32.6,76.9L33.7,76.8L39.1,72.1L39.2,70.8L37.9,70.5L32.0,74.5ZM85.3,65.8L84.8,66.6L84.9,67.1L85.8,67.7L91.8,67.7L97.7,68.7L98.6,68.3L101.4,65.8L101.7,64.8L101.0,63.3L96.7,60.7ZM122.4,66.3L121.7,66.9L118.8,75.0L119.4,75.8L124.1,77.7L137.7,68.6L138.1,67.8L137.3,66.8L127.8,65.2Z" fill="#e67e88"/>
<path d="M97.9,33.3L97.2,34.4L98.4,38.9L104.3,40.0L114.3,34.9L114.8,34.1L113.0,28.8L112.2,28.1ZM99.8,25.8L99.5,27.1L100.7,27.6L109.2,24.5L109.6,24.1L109.7,23.0L106.8,21.6ZM114.8,27.1L114.2,28.4L116.4,34.1L122.5,35.7L130.9,28.6L135.2,23.1L135.3,21.9L131.9,20.0L131.1,20.0ZM55.5,108.2L51.4,110.4L51.0,112.3L51.3,113.1L60.2,122.7L66.2,121.5L68.6,115.1L70.7,108.2L70.6,107.2L69.7,106.9ZM70.3,117.2L69.0,117.8L68.0,120.7L68.2,121.7L69.9,122.4L70.6,122.4L88.8,113.6L89.2,113.2L89.3,112.2L79.5,105.3L78.5,105.2L75.2,109.8L72.8,116.5L71.8,117.2ZM145.5,104.9L146.1,104.0L146.1,100.3L140.3,95.8L139.4,95.6L132.5,98.2L128.5,104.2L125.3,110.1L126.0,111.0L129.1,111.7ZM131.7,122.1L130.8,122.2L128.3,123.5L127.7,124.3L127.8,124.8L128.7,125.3L134.5,125.3L135.4,124.8L135.3,123.8L134.9,123.4Z" fill="#e3727e"/>
<path d="M156.5,21.6L156.2,22.6L157.0,24.6L156.7,25.6L155.3,26.5L153.7,26.4L153.0,27.2L153.9,30.7L155.4,31.6L156.2,31.5L164.2,26.7L164.2,18.1L163.4,17.6L161.5,17.5ZM62.6,63.9L63.1,65.0L69.3,68.4L78.7,64.8L79.3,63.9L79.3,55.7L67.9,52.3L64.3,56.0ZM-6.6,123.9L-10.3,121.3L-11.2,121.8L-11.2,124.8L-10.3,125.3L-7.0,125.2Z" fill="#e67f8a"/>
<path d="M-11.3,55.0L-10.9,55.9L-9.9,55.9L-9.5,55.5L-5.4,48.7L-5.7,47.4L-9.6,46.8L-11.2,47.4ZM79.7,54.3L80.4,54.2L85.6,51.4L89.2,43.9L88.7,43.1L82.9,39.4L81.3,40.3L74.5,46.0L70.0,50.4L70.0,50.9L70.7,51.6ZM132.7,46.6L125.4,50.9L120.4,54.7L118.8,62.2L119.2,63.2L121.2,64.9L122.1,65.1L126.7,64.0L127.4,63.5L134.5,48.2L134.2,47.0ZM4.0,104.3L4.0,105.4L7.6,111.0L10.1,111.9L23.9,106.4L25.4,100.2L25.3,99.4L20.7,93.7L19.9,93.3L8.7,98.7ZM25.1,111.0L25.9,108.8L24.9,108.0L24.0,107.9L10.8,113.0L10.1,113.7L8.9,120.9L9.7,121.6L23.4,123.0L24.2,122.8L26.7,120.7L27.0,120.0L27.0,113.9L26.8,113.2L25.2,111.9Z" fill="#e57c87"/>
<path d="M2.2,61.9L1.3,62.4L1.1,62.9L2.1,65.5L2.8,66.1L3.7,65.9L6.3,63.5L5.9,62.3ZM-1.8,61.6L-10.8,61.2L-11.3,62.1L-11.3,70.5L-8.8,73.9L-7.7,74.2L-4.4,73.0L-0.4,69.2L-1.6,64.8L-0.9,62.3Z" fill="#e4727e"/>
<path d="M-5.8,102.8L-5.2,101.9L-5.1,90.5L-10.5,88.6L-11.3,89.6L-11.2,102.7L-9.0,104.2Z" fill="#e4747f"/>
<path d="M76.5,90.7L77.4,89.7L77.0,82.5L76.2,81.5L64.5,79.5L55.7,83.0L53.9,85.4L54.3,86.3L62.6,92.4L63.3,92.6Z" fill="#e7828d"/>
<path d="M163.8,80.4L164.3,79.5L164.3,75.3L164.0,74.5L151.8,71.8L149.8,72.2L149.2,72.7L144.5,81.3L145.2,82.2L154.0,85.0L154.7,84.9Z" fill="#e47783"/>
<path d="M63.9,123.4L63.2,124.0L63.6,125.2L68.4,125.3L69.3,124.8L69.1,123.7L67.0,122.9ZM97.2,119.0L96.6,119.8L96.1,124.2L96.6,125.2L114.8,125.2L115.3,124.6L117.4,114.1L116.3,113.4L104.1,115.8Z" fill="#e47682"/>
<path d="M1.5,-6.3h0.01M-8.8,-10.9h0.01M32.8,-10.8h0.01M34.2,-5.8h0.01M34.7,-11.2h0.01M32.0,-1.4h0.01M26.7,-2.9h0.01M35.3,-4.3h0.01M72.6,-9.2h0.01M75.4,-10.3h0.01M115.5,1.1h0.01M128.4,-7.4h0.01M158.6,-11.3h0.01M159.0,-9.5h0.01M-11.3,20.0h0.01M4.1,19.3h0.01M144.8,4.9h0.01M-11.3,30.9h0.01M-11.2,23.7h0.01M67.5,25.0h0.01M163.5,8.0h0.01M164.3,9.0h0.01M-11.3,34.2h0.01M-1.5,34.2h0.01M58.4,33.3h0.01M56.6,33.2h0.01M152.5,31.4h0.01M155.4,31.6h0.01M161.5,17.5h0.01M-10.9,55.9h0.01M79.7,54.3h0.01M74.5,46.0h0.01M103.2,52.8h0.01M137.9,46.6h0.01M154.3,49.2h0.01M30.5,73.4h0.01M39.4,67.9h0.01M134.2,47.0h0.01M127.4,63.5h0.01M141.8,66.1h0.01M135.9,48.4h0.01M156.7,50.0h0.01M26.0,75.5h0.01M16.6,85.4h0.01M63.8,78.4h0.01M63.8,78.4h0.01M96.7,60.7h0.01M162.6,60.5h0.01M48.8,86.9h0.01M29.5,97.8h0.01M103.1,93.1h0.01M121.6,88.7h0.01M163.8,80.4h0.01M5.6,111.5h0.01M2.1,106.7h0.01M25.4,100.2h0.01M153.8,86.4h0.01M143.8,83.1h0.01M-10.3,125.3h0.01M-10.3,121.3h0.01M25.9,108.8h0.01M10.8,113.0h0.01M38.3,123.3h0.01M88.8,113.6h0.01M103.4,114.4h0.01M91.0,111.6h0.01M145.5,104.9h0.01M146.1,104.0h0.01M164.2,106.8h0.01M7.5,123.8h0.01M90.7,114.8h0.01M116.3,113.4h0.01M96.1,124.2h0.01M153.5,124.2h0.01M149.3,119.2h0.01" stroke="#6e5f9e" stroke-width="1.5" stroke-linecap="round" opacity="0.8"/>
</g></g>
<text x="133.70" y="99.60" font-size="8.2" font-style="italic" text-anchor="middle" fill="#111" stroke="#111" stroke-width="0.25">100 µm</text>
<line x1="119.70" y1="105.40" x2="146.60" y2="105.40" stroke="#1a1a1a" stroke-width="1.3"/>
<line x1="119.70" y1="102.40" x2="119.70" y2="108.40" stroke="#1a1a1a" stroke-width="1.2"/>
<line x1="146.60" y1="102.40" x2="146.60" y2="108.40" stroke="#1a1a1a" stroke-width="1.2"/>
<line x1="152.70" y1="0.00" x2="152.70" y2="114.40" stroke="#A6C8E8" stroke-width="0.9"/>
<line x1="0.00" y1="113.90" x2="153.00" y2="113.90" stroke="#A6C8E8" stroke-width="1.0"/>
</g>
<text x="395.30" y="263.23" font-size="9.3" font-weight="normal" text-anchor="middle" fill="#000" stroke="#000" stroke-width="0.18">OVX/AI + LIV</text>
<g transform="translate(319.5,268)">
<rect x="0" y="0" width="152.50" height="114.00" fill="#DB6A75"/>
<g style="filter:blur(0.35px)"><clipPath id="cp2"><rect x="0" y="0" width="152.50" height="114.00"/></clipPath><rect x="0" y="0" width="152.50" height="114.00" fill="#fcf4f6"/><g clip-path="url(#cp2)">
<path d="M-7.8,-11.5L-8.9,-11.2L-9.8,-10.3L-10.0,-9.1L-9.6,-8.0L-6.2,-3.8L-5.1,-3.6L-4.0,-3.9L1.8,-8.3L2.1,-9.4L1.7,-10.5L0.9,-11.2ZM116.5,45.3L116.4,47.2L118.3,48.8L135.5,54.0L136.6,54.0L143.4,48.2L144.0,47.2L144.7,44.5L144.1,42.1L143.2,41.4L137.9,39.3L125.2,33.0L124.1,32.8L123.1,33.1L122.3,33.9ZM130.9,25.8L127.6,28.7L127.5,29.8L127.8,30.8L128.7,31.6L135.8,35.1L136.9,35.3L138.0,34.9L138.8,34.0L138.9,32.8L138.5,31.7L134.0,26.2L133.1,25.5L132.0,25.4ZM11.6,84.7L10.2,84.4L-3.6,86.0L-4.7,86.4L-5.4,87.4L-5.5,88.6L-2.8,101.3L-2.2,102.4L4.4,108.7L6.4,108.4L14.0,102.7L14.7,101.8L14.8,100.6L13.0,86.5L12.7,85.6Z" fill="#d9646f"/>
<path d="M46.5,-11.5L45.4,-11.2L44.6,-10.3L44.3,-9.2L44.7,-8.1L45.5,-7.3L50.1,-5.1L51.5,-4.9L52.7,-5.6L54.7,-7.8L55.2,-9.0L55.1,-10.2L54.3,-11.1L53.1,-11.5ZM75.7,77.7L76.1,76.5L75.9,71.8L75.0,71.0L70.4,68.5L68.7,68.3L56.1,71.8L54.6,73.0L54.7,81.6L55.0,82.6L55.8,83.4L66.2,89.3L67.3,89.0L68.1,88.3Z" fill="#d9636f"/>
<path d="M80.3,-7.7L81.0,-9.6L79.8,-11.3L78.4,-11.5L77.3,-11.2L76.5,-10.5L76.2,-9.5L76.4,-8.4L77.2,-7.4L79.2,-7.0ZM-5.6,-0.8L-6.1,4.0L-5.4,4.9L3.8,12.1L5.6,12.5L6.5,12.1L12.9,6.9L12.9,-8.8L12.4,-10.0L10.0,-11.3L8.1,-11.0L-4.7,-2.3ZM123.6,7.9L123.0,7.0L122.0,6.4L116.6,7.5L107.6,10.1L106.6,10.6L106.1,11.5L106.0,12.6L107.9,15.4L108.9,16.1L110.2,16.1L122.7,12.6L123.7,12.0L124.3,10.9ZM105.3,6.6L119.1,2.5L119.7,1.5L119.7,0.4L119.2,-0.6L118.3,-1.2L107.7,-4.5L106.1,-3.3L102.7,3.1L102.5,4.6L103.1,6.0L104.1,6.6ZM123.5,-2.5L123.0,-1.5L123.1,-0.4L123.6,0.6L124.6,1.1L125.7,1.1L134.8,-1.4L137.1,-2.8L141.7,-3.0L142.7,-3.7L143.2,-4.7L144.0,-8.9L143.9,-10.1L143.1,-11.1L141.9,-11.5L131.7,-11.3ZM137.0,2.8L135.3,2.6L126.2,5.1L125.2,5.7L124.6,6.8L125.8,11.4L126.5,12.4L131.6,16.6L132.9,17.1L134.2,16.7L139.0,13.6L139.9,12.1L141.0,5.3L139.7,3.8ZM158.0,26.1L158.8,27.0L161.7,27.6L162.8,27.3L163.7,26.5L164.0,25.4L164.0,10.4L163.7,9.3L162.8,8.5L161.6,8.2L160.5,8.6L154.5,12.9L153.6,14.5ZM48.1,47.3L49.6,47.1L52.0,46.0L53.2,44.4L53.1,43.3L46.7,23.0L46.1,22.0L45.1,21.5L44.0,21.5L43.0,22.1L34.4,31.3L33.9,32.5L34.1,33.9L40.3,45.0ZM106.8,42.0L112.7,45.5L113.8,45.8L114.9,45.4L115.7,44.6L121.3,33.6L121.6,32.5L121.2,31.3L120.2,30.6L103.6,24.1L102.5,23.9L101.4,24.4L97.5,27.8L96.8,28.8L96.7,29.9L97.2,30.9ZM-4.1,58.5L-3.7,59.7L-2.7,60.4L8.6,64.4L9.9,64.4L10.9,63.8L18.2,56.2L18.8,54.4L11.4,44.2L-2.7,42.9L-3.9,43.1L-4.8,44.0L-5.1,45.2ZM102.1,89.7L96.4,89.9L95.3,90.3L87.4,95.9L86.5,97.7L86.5,102.1L87.2,103.8L98.3,113.9L99.4,114.4L100.6,114.3L101.6,113.6L107.4,105.4L103.3,91.1ZM124.1,121.7L123.5,122.9L123.7,124.1L124.5,125.1L128.1,125.5L129.2,125.2L130.0,124.3L130.3,123.2L129.9,122.1L127.4,120.5L126.1,120.4Z" fill="#db6a75"/>
<path d="M119.7,-1.7L121.0,-1.7L122.1,-2.4L127.0,-7.8L127.5,-9.0L127.3,-10.2L126.5,-11.1L125.3,-11.5L108.0,-11.5L106.9,-11.2L106.1,-10.5L105.8,-9.4L106.0,-8.4L107.2,-6.2ZM34.7,10.3L35.8,10.4L36.8,10.1L37.6,9.3L41.2,-1.3L42.0,-2.3L42.8,-2.5L44.0,-1.7L44.2,-0.8L41.5,7.4L41.4,8.5L41.9,9.4L42.7,10.1L43.8,10.3L50.7,9.6L51.6,10.0L52.8,11.2L54.3,11.4L55.3,11.1L56.1,10.4L56.5,9.4L51.6,-2.6L50.6,-3.7L39.2,-9.3L37.9,-9.5L35.8,-8.8L35.1,-7.7L31.5,6.8L31.9,8.7ZM138.0,54.5L137.3,56.0L137.0,61.0L137.3,62.2L138.2,63.0L143.4,65.6L156.5,70.3L157.7,70.3L160.6,69.5L162.7,66.4L163.0,65.4L162.2,63.5L144.8,49.5L142.9,50.0ZM136.6,69.9L137.1,71.5L139.9,74.0L144.5,73.3L145.5,72.8L146.1,71.8L146.2,70.7L145.6,69.7L138.7,66.7L137.7,67.0L136.9,67.8ZM126.9,119.2L140.6,125.4L141.6,125.1L147.1,122.0L147.9,121.1L148.2,119.8L147.1,108.7L146.6,107.5L145.5,106.8L128.5,102.5L122.0,106.9L121.3,107.7L121.1,108.8L121.3,109.8L125.9,118.3Z" fill="#da6772"/>
<path d="M-11.5,2.1L-11.2,3.1L-10.5,3.9L-9.5,4.3L-8.4,4.1L-7.5,3.4L-6.6,-1.0L-7.0,-2.6L-8.3,-4.1L-9.4,-4.3L-10.5,-3.9L-11.2,-3.1ZM14.1,5.1L14.9,6.8L15.8,7.2L27.0,9.6L29.2,9.0L30.3,7.6L34.1,-7.9L34.0,-9.2L33.2,-10.2L30.5,-11.5L17.0,-11.5L15.2,-10.9L14.2,-10.1L13.9,-8.9ZM81.5,47.4L80.4,46.5L79.0,46.3L66.5,49.2L65.4,49.8L64.8,50.9L64.9,52.1L69.8,66.3L70.8,67.6L75.4,70.0L76.6,70.3L77.8,69.8L79.4,68.6L80.2,67.0L81.7,48.7Z" fill="#dd727c"/>
<path d="M57.4,8.4L58.9,9.6L59.8,9.7L75.1,6.9L76.3,6.3L76.9,5.0L78.1,-4.1L77.9,-5.2L71.1,-11.0L69.7,-11.5L59.4,-11.3L53.2,-4.7L52.7,-3.6L52.8,-2.4ZM55.0,43.1L54.6,44.3L55.1,45.6L56.1,46.4L62.9,48.7L64.1,48.8L79.4,45.2L80.3,44.7L81.0,43.8L82.6,39.3L83.3,33.6L82.9,31.8L82.2,31.1L81.1,30.8L64.2,30.6L63.1,30.9L62.3,31.6ZM87.6,56.7L88.4,57.5L89.5,57.8L90.6,57.5L105.5,48.4L106.3,47.6L106.6,46.5L106.3,45.4L105.5,44.6L99.7,41.4L88.6,38.2L87.4,38.2L86.3,39.0L85.8,40.1L84.7,50.6L85.0,51.9ZM86.6,31.4L86.5,33.2L87.0,34.4L88.1,35.2L96.3,37.5L97.4,37.6L98.4,37.0L99.0,36.1L99.0,35.0L98.6,34.0L94.8,29.9L88.7,29.7L87.4,30.1ZM101.5,87.0L102.9,88.4L104.9,88.1L113.7,81.7L116.7,76.7L117.0,75.7L116.8,74.6L112.5,66.4L111.5,65.5L110.2,65.2L97.7,66.9L96.6,67.4L95.9,68.5L95.9,69.8ZM142.1,83.4L152.8,94.6L154.8,94.4L162.6,89.5L163.5,88.5L163.6,87.2L161.0,72.9L160.5,71.9L159.5,71.2L158.4,71.2L155.6,72.2L153.5,72.3L142.3,74.8L141.3,75.3L140.7,76.2L141.5,82.3Z" fill="#dc6e79"/>
<path d="M78.0,4.3L78.7,6.2L80.5,6.8L101.3,3.1L105.9,-5.6L104.0,-10.2L103.2,-11.2L102.0,-11.5L86.7,-11.5L85.2,-10.9L79.8,-5.8L79.1,-4.5ZM28.9,16.2L27.8,16.8L27.2,18.0L25.8,26.7L26.0,28.0L27.0,29.0L31.2,31.0L32.5,31.2L33.8,30.6L44.5,19.1L45.1,18.0L44.9,16.7L44.1,15.8L39.9,15.3L38.4,14.8L35.6,14.9ZM127.1,102.0L128.0,100.5L128.3,93.6L127.7,92.8L115.8,83.4L114.5,82.9L113.1,83.4L105.3,89.0L104.5,90.1L104.5,91.4L108.2,103.9L108.8,104.9L109.9,105.4L119.6,107.2Z" fill="#d9626e"/>
<path d="M153.2,-11.1L146.1,-10.4L145.0,-8.9L143.9,-3.0L144.4,-1.0L147.0,0.2L156.7,2.6L157.7,3.7L158.3,6.2L159.2,7.0L160.3,7.2L163.1,5.6L164.0,3.8L164.0,-3.6L163.7,-4.7L163.0,-5.5L154.5,-10.7ZM152.9,12.8L155.2,10.7L155.3,9.5L154.7,8.4L153.6,7.8L143.6,5.7L142.5,6.3L141.9,7.4L141.3,10.3L141.4,11.6L142.2,12.5L143.4,12.9L151.6,13.2ZM131.4,24.2L132.3,22.5L132.1,18.6L125.4,13.1L112.7,16.4L111.8,17.0L111.2,17.9L111.1,19.0L111.6,19.9L112.9,21.4L123.4,28.5L124.7,28.9L125.9,28.4ZM108.0,20.0L107.2,19.3L106.1,19.2L105.1,19.5L104.3,20.5L104.0,21.8L104.4,22.9L105.9,23.9L107.0,24.0L108.1,23.5L108.7,22.6L108.9,21.5ZM54.2,46.7L52.5,46.8L50.5,47.8L49.7,48.5L49.3,49.6L48.6,64.2L49.1,65.8L53.1,70.3L54.1,70.9L55.3,70.9L66.7,67.8L67.8,67.2L68.3,66.1L68.2,65.0L62.9,50.0ZM108.6,47.7L89.4,59.8L89.1,60.8L89.2,61.8L94.6,66.1L110.0,64.3L111.3,63.7L111.9,62.4L113.9,51.1L113.7,49.8L112.8,48.8L110.8,47.7L109.7,47.4ZM-11.5,80.0L-10.6,83.7L-7.0,85.2L8.5,83.6L9.5,83.2L10.3,82.3L10.5,81.3L9.7,67.2L9.3,66.0L8.2,65.3L-3.1,61.3L-4.3,61.3L-5.3,61.9L-10.9,67.4L-11.5,69.0Z" fill="#db6b76"/>
<path d="M-11.5,29.1L-10.6,30.9L-9.6,31.3L-7.7,30.6L3.8,18.4L4.4,17.0L4.3,14.1L3.7,13.3L-6.0,5.7L-7.0,5.2L-10.1,6.1L-11.1,6.9L-11.5,8.2ZM141.1,13.9L139.8,14.2L133.6,18.6L133.2,22.8L133.7,24.2L143.3,36.2L144.2,36.8L145.3,37.0L146.4,36.5L156.3,28.7L157.1,27.5L157.0,26.2L152.7,15.5L151.9,14.5L150.7,14.1ZM-10.0,37.2L-6.1,41.1L-4.8,41.7L10.0,42.9L11.3,42.7L12.2,41.8L15.5,35.7L15.8,34.5L15.4,33.4L14.4,32.6L9.5,30.4L8.1,30.3L-0.1,32.3L-1.6,31.5L-2.4,29.8L-3.5,29.2L-4.6,29.3L-5.6,29.9L-9.8,34.3L-10.3,35.3ZM3.5,20.2L-0.8,25.2L-0.7,26.3L-0.2,27.3L0.8,27.8L6.3,26.6L7.4,25.9L8.0,24.7L7.2,20.9L5.5,19.6L4.4,19.7Z" fill="#dc6d78"/>
<path d="M18.4,28.8L20.3,29.2L23.2,28.5L24.3,27.8L24.8,26.7L25.8,20.4L25.7,19.3L25.1,18.4L24.1,17.9L23.0,17.9L17.8,19.5L13.5,22.2L13.3,24.2L14.0,25.0ZM14.7,8.0L12.9,8.4L5.8,14.1L5.6,17.7L7.6,19.7L8.8,20.2L10.1,19.9L16.3,16.4L23.7,14.1L24.6,13.5L25.2,12.5L25.1,11.4L24.5,10.4L23.5,9.9ZM155.6,97.8L154.4,97.2L153.1,97.5L152.2,98.4L148.2,106.3L148.0,107.5L149.0,118.0L149.4,119.1L150.3,119.8L151.4,120.0L162.0,119.0L163.0,118.6L163.7,117.9L164.0,116.8L163.8,105.2Z" fill="#db6873"/>
<path d="M52.6,38.3L53.3,39.3L54.4,39.8L55.6,39.6L56.5,38.8L62.0,30.0L58.9,17.1L58.5,16.2L56.8,15.4L49.9,15.4L47.8,16.2L46.6,17.7L46.6,19.1ZM100.2,12.1L86.5,14.3L85.8,15.2L85.6,16.2L86.1,24.6L87.2,27.4L88.0,28.4L89.2,28.7L94.1,28.7L95.5,28.2L101.6,22.9L104.1,18.7L104.3,17.2L103.9,15.3L102.2,12.9L101.3,12.2Z" fill="#dc6f79"/>
<path d="M80.8,29.8L81.9,29.5L82.7,28.6L83.0,27.5L82.6,20.0L81.0,15.9L80.1,14.9L78.8,14.6L62.4,15.4L61.1,15.8L60.3,16.8L60.2,18.1L62.7,27.9L63.8,29.4Z" fill="#da6873"/>
<path d="M24.2,29.3L21.6,30.2L21.0,31.2L21.0,32.4L23.2,35.2L27.7,44.1L28.9,48.1L29.6,49.2L30.8,49.7L32.1,49.4L37.3,46.5L38.1,45.7L38.4,44.6L38.2,43.5L32.7,33.4L31.8,32.4L25.7,29.4ZM13.0,42.3L12.7,43.5L13.2,44.6L20.5,54.3L22.0,54.7L23.4,54.4L25.3,53.1L25.6,51.2L24.1,45.9L19.3,36.7L18.4,36.2L16.5,36.5ZM28.2,118.6L28.6,119.8L29.6,120.5L43.5,125.4L46.5,125.4L49.6,124.4L50.6,123.7L51.1,122.5L51.5,118.8L51.4,117.9L49.7,115.9L49.5,114.9L51.1,110.2L51.2,108.9L50.4,107.7L41.5,100.6L39.7,100.1L28.2,108.4L27.5,109.3L27.3,110.4Z" fill="#da6773"/>
<path d="M147.8,36.7L147.1,37.6L146.9,38.7L147.4,39.8L148.3,40.5L156.9,43.8L163.0,43.1L163.7,42.3L164.0,41.2L163.7,29.7L163.0,28.9L161.9,28.6L159.2,28.4L157.7,28.9Z" fill="#da6671"/>
<path d="M-6.9,41.8L-9.0,40.4L-10.2,40.6L-11.1,41.4L-11.5,42.6L-11.5,61.3L-10.6,63.1L-9.6,63.5L-7.7,62.9L-5.7,60.8L-5.1,59.1L-6.2,43.2ZM53.4,125.1L54.7,125.5L70.2,125.5L77.7,122.0L78.1,121.0L78.1,120.0L72.5,102.6L71.5,101.4L68.9,100.2L67.8,100.6L57.0,107.3L56.1,108.4L52.7,117.0L52.1,122.8L52.3,124.0Z" fill="#db6c77"/>
<path d="M42.4,67.6L47.2,64.8L47.6,63.7L48.3,50.2L47.5,48.4L40.8,46.4L39.1,46.6L30.8,51.6L30.4,52.5L31.0,55.3L34.9,62.4L39.9,67.2L41.1,67.8ZM66.5,91.1L62.1,88.6L61.1,88.8L60.3,89.5L59.8,90.5L58.3,101.0L58.5,102.3L59.3,103.2L60.5,103.6L61.6,103.2L67.0,99.9L67.9,98.9L68.0,97.5ZM41.6,90.3L40.7,91.1L40.4,92.3L40.8,98.5L49.7,105.9L50.6,106.3L52.5,105.8L54.1,102.2L55.7,91.1L55.1,89.2L52.4,86.4L51.2,85.8L49.8,86.0Z" fill="#dc6d77"/>
<path d="M130.1,53.4L128.9,53.4L127.9,54.0L127.3,55.0L127.4,56.2L128.0,57.2L130.2,59.0L133.0,60.4L134.0,60.6L135.0,60.3L135.8,59.6L136.1,58.6L136.0,56.0L135.5,55.2ZM112.7,63.7L112.9,65.1L117.3,73.5L118.9,74.7L134.0,71.0L135.1,70.3L135.6,69.0L135.7,66.4L135.4,65.2L134.5,64.3L128.8,61.4L118.0,52.5L116.9,52.0L115.8,52.1L114.9,52.7L114.4,53.8ZM11.3,64.9L10.7,66.5L11.5,82.3L11.8,83.3L12.6,84.1L14.3,84.4L28.2,81.4L29.2,80.8L29.9,79.9L31.9,73.1L22.4,56.0L21.4,55.6L19.5,56.3ZM129.1,99.5L129.8,101.4L130.7,101.8L146.4,105.8L148.0,104.6L151.7,97.2L151.9,95.9L151.3,94.7L142.6,85.4L141.6,84.8L140.5,84.7L139.5,85.2L130.3,92.9L129.5,94.4Z" fill="#db6974"/>
<path d="M147.8,45.4L146.0,46.4L145.9,48.4L146.5,49.3L160.4,60.7L161.5,61.2L162.7,61.0L163.7,60.2L164.0,59.0L164.0,46.6L163.7,45.5L162.8,44.7L157.7,44.7L154.8,46.1L151.7,45.1Z" fill="#da6570"/>
<path d="M44.3,67.7L43.4,68.6L43.1,69.9L43.6,71.1L49.8,78.0L50.6,78.5L51.7,78.6L52.7,78.2L53.3,77.4L53.5,76.3L53.4,72.9L52.8,71.5L48.2,66.6L46.4,66.7ZM33.9,73.0L32.8,74.3L30.9,80.0L30.8,81.3L31.5,82.3L38.8,89.0L40.0,89.5L41.3,89.3L48.7,85.2L49.0,83.2L48.5,82.4L39.2,72.1L37.5,71.4Z" fill="#da6571"/>
<path d="M95.1,88.6L96.5,88.9L99.4,88.3L100.1,87.2L100.1,85.9L94.2,67.8L93.5,66.7L89.7,63.8L87.9,63.4L84.2,66.0L83.4,67.6L83.1,71.7L84.6,80.9L85.5,82.4Z" fill="#db6b75"/>
<path d="M117.8,76.9L115.8,81.0L116.6,82.8L128.6,91.9L130.5,91.5L139.7,83.8L140.3,82.8L140.4,81.7L139.3,75.7L138.7,74.6L135.7,71.9L134.6,71.9L119.1,75.9Z" fill="#dd717c"/>
<path d="M-8.6,85.7L-10.6,86.0L-11.5,87.8L-11.5,102.6L-11.2,103.6L-10.4,104.4L-9.3,104.8L-5.1,102.7L-4.1,101.7L-4.0,100.4L-6.7,87.5L-7.2,86.5ZM85.6,88.0L86.6,92.6L87.5,93.3L88.6,93.5L89.6,93.1L92.7,90.6L93.0,89.6L92.7,88.5L89.0,85.9L87.8,85.5L86.6,85.9L85.8,86.8ZM81.0,99.0L82.4,98.2L83.3,96.4L83.3,93.8L81.5,81.9L80.5,80.4L78.5,79.1L77.5,78.8L76.4,79.0L75.5,79.7L67.8,90.8L69.2,98.0L70.2,99.5L71.9,100.5L73.6,100.7Z" fill="#dc707b"/>
<path d="M30.5,82.8L28.6,82.3L15.9,85.1L14.9,85.6L14.3,86.5L14.2,87.5L16.2,101.7L25.4,107.6L26.6,107.9L27.8,107.5L38.7,99.3L39.4,98.5L39.6,97.5L39.2,90.9Z" fill="#db6c76"/>
<path d="M157.2,94.0L156.2,95.7L156.9,97.6L160.3,100.6L161.5,101.1L162.7,100.9L163.6,100.1L164.0,98.9L164.0,93.8L163.7,92.7L162.9,91.9L161.8,91.6L160.6,91.9ZM109.8,106.4L108.6,106.5L107.6,107.2L100.5,116.8L98.5,121.6L98.3,122.8L98.8,123.9L100.3,125.3L118.9,125.3L124.1,120.3L124.7,119.1L124.5,117.7L119.3,108.6Z" fill="#dc6f7a"/>
<path d="M-7.1,124.0L-6.2,124.8L-5.0,124.9L-4.0,124.5L0.5,121.1L1.3,120.0L3.9,111.6L3.9,110.4L3.4,109.4L-2.0,104.0L-3.3,103.4L-4.6,103.6L-10.4,106.8L-11.2,107.6L-11.5,108.7L-11.5,117.3L-11.1,118.6ZM26.3,110.3L25.3,108.7L16.8,103.5L15.6,103.2L14.3,103.6L5.8,110.1L5.1,111.2L2.8,118.3L2.8,119.5L3.4,120.6L4.5,121.1L22.0,124.6L27.1,120.1Z" fill="#da6672"/>
<path d="M75.6,101.3L74.5,101.9L74.0,102.9L74.0,104.1L79.9,121.6L86.4,124.3L87.6,124.4L96.8,122.3L99.0,117.8L99.1,116.5L98.4,115.4L90.2,107.8L89.1,107.3L87.8,107.4L86.9,108.2L86.5,109.4L86.5,114.9L86.0,116.1L85.3,116.5L83.8,116.1L83.3,114.9L83.1,101.6L81.4,100.2Z" fill="#d9636e"/>
<path d="M151.8,120.9L150.7,121.3L150.0,122.2L149.8,123.3L150.3,124.5L151.1,125.2L152.1,125.5L161.8,125.5L162.9,125.2L163.7,124.4L164.0,123.3L163.7,121.1L162.8,120.3L161.6,120.0Z" fill="#db6874"/>
<path d="M1.7,-10.5h0.01M-4.0,-3.9h0.01M2.1,-9.4h0.01M2.1,-9.4h0.01M77.2,-7.4h0.01M76.5,-10.5h0.01M79.8,-11.3h0.01M106.1,-10.5h0.01M121.0,-1.7h0.01M119.7,-1.7h0.01M121.0,-1.7h0.01M-9.4,-4.3h0.01M-9.4,-4.3h0.01M-10.5,3.9h0.01M-11.2,-3.1h0.01M-5.4,4.9h0.01M10.0,-11.3h0.01M33.2,-10.2h0.01M17.0,-11.5h0.01M14.2,-10.1h0.01M14.9,6.8h0.01M78.1,-4.1h0.01M102.0,-11.5h0.01M-11.1,6.9h0.01M3.7,13.3h0.01M44.9,16.7h0.01M31.2,31.0h0.01M26.0,28.0h0.01M28.9,16.2h0.01M27.8,16.8h0.01M54.4,39.8h0.01M58.5,16.2h0.01M46.6,17.7h0.01M63.8,29.4h0.01M83.0,27.5h0.01M63.8,29.4h0.01M81.0,15.9h0.01M63.8,29.4h0.01M86.1,24.6h0.01M101.3,12.2h0.01M144.2,36.8h0.01M143.3,36.2h0.01M133.6,18.6h0.01M146.4,36.5h0.01M164.0,25.4h0.01M163.7,9.3h0.01M164.0,25.4h0.01M45.1,21.5h0.01M48.1,47.3h0.01M82.6,39.3h0.01M106.8,42.0h0.01M101.4,24.4h0.01M101.4,24.4h0.01M103.6,24.1h0.01M161.9,28.6h0.01M-5.1,59.1h0.01M-7.7,62.9h0.01M-6.9,41.8h0.01M-5.1,59.1h0.01M-2.7,42.9h0.01M-4.1,58.5h0.01M-4.8,44.0h0.01M9.9,64.4h0.01M47.5,48.4h0.01M34.9,62.4h0.01M34.9,62.4h0.01M48.6,64.2h0.01M62.9,50.0h0.01M64.9,52.1h0.01M65.4,49.8h0.01M79.0,46.3h0.01M70.8,67.6h0.01M64.8,50.9h0.01M110.0,64.3h0.01M162.8,44.7h0.01M147.8,45.4h0.01M146.5,49.3h0.01M8.5,83.6h0.01M9.7,67.2h0.01M-3.1,61.3h0.01M9.5,83.2h0.01M31.9,73.1h0.01M10.7,66.5h0.01M31.9,73.1h0.01M10.7,66.5h0.01M21.4,55.6h0.01M93.5,66.7h0.01M94.2,67.8h0.01M83.1,71.7h0.01M83.1,71.7h0.01M84.6,80.9h0.01M116.8,74.6h0.01M113.7,81.7h0.01M116.7,76.7h0.01M117.0,75.7h0.01M-4.0,100.4h0.01M-7.2,86.5h0.01M-4.1,101.7h0.01M-11.5,87.8h0.01M-2.2,102.4h0.01M-5.4,87.4h0.01M-5.4,87.4h0.01M-5.4,87.4h0.01M16.2,101.7h0.01M39.4,98.5h0.01M103.3,91.1h0.01M87.4,95.9h0.01M99.4,114.4h0.01M95.3,90.3h0.01M141.6,84.8h0.01M130.3,92.9h0.01M162.9,91.9h0.01M3.9,110.4h0.01M3.4,109.4h0.01M-3.3,103.4h0.01M1.3,120.0h0.01M-11.5,108.7h0.01M22.0,124.6h0.01M39.7,100.1h0.01M28.2,118.6h0.01M70.2,125.5h0.01M78.1,120.0h0.01M78.1,121.0h0.01M109.8,106.4h0.01M109.8,106.4h0.01M118.9,125.3h0.01M121.3,107.7h0.01M121.3,107.7h0.01M147.9,121.1h0.01M140.6,125.4h0.01M150.3,119.8h0.01M163.7,117.9h0.01M155.6,97.8h0.01M148.2,106.3h0.01M162.0,119.0h0.01M129.9,122.1h0.01M161.6,120.0h0.01M150.7,121.3h0.01M161.8,125.5h0.01" stroke="#6e5f9e" stroke-width="1.5" stroke-linecap="round" opacity="0.8"/>
</g></g>
<text x="133.20" y="99.60" font-size="8.2" font-style="italic" text-anchor="middle" fill="#111" stroke="#111" stroke-width="0.25">100 µm</text>
<line x1="119.20" y1="105.40" x2="146.10" y2="105.40" stroke="#1a1a1a" stroke-width="1.3"/>
<line x1="119.20" y1="102.40" x2="119.20" y2="108.40" stroke="#1a1a1a" stroke-width="1.2"/>
<line x1="146.10" y1="102.40" x2="146.10" y2="108.40" stroke="#1a1a1a" stroke-width="1.2"/>
<line x1="152.20" y1="0.00" x2="152.20" y2="114.40" stroke="#A6C8E8" stroke-width="0.9"/>
<line x1="0.00" y1="113.90" x2="152.50" y2="113.90" stroke="#A6C8E8" stroke-width="1.0"/>
</g>
<text x="157.70" y="397.23" font-size="9.3" font-weight="normal" text-anchor="middle" fill="#000" stroke="#000" stroke-width="0.18">OVX/AI+ZA</text>
<g transform="translate(81.3,401.7)">
<rect x="0" y="0" width="152.10" height="113.60" fill="#E37D87"/>
<g style="filter:blur(0.35px)"><clipPath id="cp3"><rect x="0" y="0" width="152.10" height="113.60"/></clipPath><rect x="0" y="0" width="152.10" height="113.60" fill="#fcf4f6"/><g clip-path="url(#cp3)">
<path d="M-7.8,-9.9L-8.6,-11.2L-9.8,-11.4L-10.7,-11.2L-11.4,-9.8L-11.4,0.7L-11.3,1.4L-10.0,2.3L-8.6,1.7L-7.7,-0.0ZM73.0,57.0L81.9,62.6L83.3,61.7L86.7,54.2L86.3,53.3L85.5,52.8L77.4,50.5L76.4,50.6L75.7,51.2L73.0,55.4Z" fill="#e17680"/>
<path d="M4.8,2.3L6.0,2.0L20.0,-8.6L20.6,-10.0L20.3,-10.7L19.0,-11.4L-5.9,-11.2L-6.7,-9.8L-6.5,-0.3L-5.3,0.5ZM99.2,-11.4L97.8,-10.6L97.9,-9.0L103.6,-6.1L122.0,-4.0L122.9,-4.1L123.6,-4.8L123.8,-6.0L122.8,-10.2L121.9,-11.3ZM-2.4,23.8L-2.9,22.8L-8.8,17.7L-9.6,17.4L-10.5,17.5L-11.2,18.1L-11.4,19.0L-11.3,30.3L-10.8,30.8L-9.3,31.0L-2.4,28.2L-2.0,26.9ZM153.5,92.8L154.6,93.8L161.5,95.7L162.9,95.4L163.4,94.9L163.6,73.5L162.9,72.2L162.2,71.9L149.2,75.4L148.1,76.6ZM80.8,115.0L79.9,115.4L79.4,116.1L79.4,117.1L81.3,123.9L81.9,124.7L82.9,125.0L97.2,125.0L98.5,124.4L98.7,122.9L98.3,122.3L89.5,114.5Z" fill="#e37f89"/>
<path d="M24.6,-11.4L23.3,-10.8L23.1,-9.3L25.4,-7.0L26.6,-6.6L39.5,-8.0L40.6,-8.6L41.2,-10.0L40.4,-11.3L39.6,-11.4ZM157.6,55.4L157.0,58.1L158.2,59.0L161.9,57.8L162.9,56.7L161.4,47.8L161.0,47.0L160.1,46.6L150.2,44.6L149.2,44.7L148.5,45.3L144.6,51.9L144.4,52.8L144.7,53.6L145.5,54.2L146.4,54.2L155.4,52.4L156.7,53.0L157.4,54.1ZM139.1,64.2L141.8,65.4L142.7,65.3L151.9,61.7L152.9,60.5L152.9,59.7L152.5,59.0L151.0,58.6L139.8,61.2L138.8,61.9L138.5,62.8ZM6.1,86.4L7.1,87.5L9.8,88.2L21.3,84.8L22.1,84.1L27.5,76.3L28.9,69.5L28.4,68.0L15.2,65.3L13.8,65.7L4.1,75.8ZM138.9,78.6L137.7,64.6L136.3,63.9L126.7,64.8L118.2,81.3L118.3,82.8L119.6,83.6L131.9,84.0L132.9,83.7L138.2,80.1ZM65.4,86.1L65.1,84.8L64.5,84.4L51.1,78.4L50.1,78.3L49.2,78.8L36.2,94.4L35.8,97.3L36.9,98.2L58.9,102.9L61.9,102.2L63.0,101.0ZM117.1,84.6L115.6,85.4L115.4,86.3L116.4,101.8L116.7,102.8L117.6,103.3L119.2,103.3L130.0,98.5L131.7,86.8L131.1,85.3ZM35.9,99.1L34.5,99.5L26.4,107.4L25.9,108.3L25.6,111.4L28.3,118.6L38.0,122.6L38.9,122.2L56.0,106.0L56.4,104.4L55.2,103.3Z" fill="#e37c86"/>
<path d="M48.6,4.8L50.2,5.6L52.1,5.3L53.4,4.4L59.5,-9.2L59.7,-10.0L58.8,-11.3L46.6,-11.4L45.6,-11.1L41.5,-7.7L41.7,-6.2ZM86.6,-5.2L82.2,6.5L87.4,13.5L103.1,12.3L104.0,11.9L104.5,11.1L104.0,9.1L96.2,0.8L95.5,-0.8L96.0,-2.6L97.8,-3.5L99.0,-3.3L101.0,-1.8L102.6,-2.2L103.0,-3.7L102.6,-5.1L102.0,-5.6L92.3,-9.8ZM59.0,35.8L57.7,36.7L57.6,37.6L58.9,39.5L59.7,40.0L76.5,44.8L77.3,44.8L78.4,43.7L77.1,35.5L76.1,34.3ZM61.4,46.0L60.5,46.0L59.8,46.6L59.4,47.4L59.6,48.3L63.7,55.6L70.2,56.3L71.7,55.5L74.0,51.7L74.3,51.0L73.8,49.7ZM113.5,56.2L114.4,57.6L119.7,60.2L120.8,60.3L140.6,55.5L141.7,54.8L147.4,45.0L147.3,43.3L145.8,42.6L119.3,46.9L113.6,51.2ZM5.0,110.1L13.5,106.9L14.5,105.7L10.4,94.3L1.0,91.2L-11.2,98.2L-11.3,107.3L-10.6,108.6ZM147.1,77.8L146.5,77.0L145.6,76.7L144.7,77.0L143.2,78.3L143.1,79.1L144.0,88.5L145.1,95.1L146.0,96.3L146.7,96.4L151.4,94.3L152.3,93.1ZM131.6,96.6L131.8,97.5L132.4,98.1L133.3,98.4L139.7,98.1L141.1,97.1L139.4,83.5L138.5,82.2L136.9,82.3L133.2,85.0Z" fill="#e37d87"/>
<path d="M87.8,-11.4L76.4,-11.2L75.8,-10.5L75.7,-9.6L76.0,-8.8L84.9,-6.1L86.3,-6.5L89.3,-9.3L89.1,-10.8ZM78.8,33.1L78.2,33.9L78.1,34.8L79.6,42.9L80.0,43.7L80.8,44.1L90.3,46.2L91.5,46.0L101.9,39.3L101.8,36.2L100.9,34.9L86.9,28.9L85.5,29.0Z" fill="#e17580"/>
<path d="M129.4,-8.4L130.3,-9.8L129.5,-11.2L125.7,-11.4L124.7,-11.2L124.2,-10.4L124.4,-8.1L124.9,-7.3L125.8,-6.9ZM148.2,5.1L148.3,6.5L149.5,7.5L161.7,9.5L162.6,9.4L163.3,8.8L163.6,-8.1L162.9,-9.4L161.4,-9.6L152.6,-6.0ZM25.3,116.4L22.1,117.5L20.9,117.1L20.0,116.2L19.7,114.5L20.5,110.0L20.0,108.5L16.2,107.4L15.2,107.4L6.1,111.2L3.6,123.1L3.7,124.1L4.3,124.8L5.1,125.0L18.3,125.0L19.2,124.7L26.1,119.6L26.7,118.8L26.7,117.8L26.1,116.7Z" fill="#e27782"/>
<path d="M155.5,-11.2L150.6,-11.3L149.7,-10.0L149.9,-9.2L151.4,-7.7L153.0,-7.5L156.0,-8.9L156.1,-10.6Z" fill="#e27984"/>
<path d="M0.3,18.8L-1.7,16.9L-2.2,15.9L-2.1,14.7L-1.4,13.8L0.2,13.2L5.6,14.1L7.8,11.7L5.5,4.4L4.3,3.3L-6.8,1.6L-11.1,6.6L-11.4,7.6L-11.3,14.0L-2.4,21.6L-0.9,21.1L0.3,19.6ZM27.7,21.0L26.9,21.5L26.5,22.3L26.7,23.2L31.7,33.0L32.6,33.4L33.5,33.1L40.1,28.5L39.9,26.9L34.1,19.6ZM9.5,40.5L10.5,41.6L11.3,41.7L22.1,40.3L26.1,37.9L26.7,37.2L26.8,36.3L26.3,33.9L21.9,25.7L21.0,25.5L20.1,25.8L8.9,34.4L8.4,35.2L8.4,36.1ZM4.7,48.1L5.6,46.8L5.5,45.9L-1.1,41.2L-1.6,39.6L-1.0,38.7L0.4,38.4L5.8,41.9L7.3,42.1L8.3,40.9L8.3,40.2L7.1,35.7L6.5,34.8L-1.3,29.4L-10.4,32.6L-11.2,33.2L-11.4,34.1L-11.4,52.3L-11.1,53.2L-10.2,53.8L-9.2,53.8ZM148.5,41.3L149.3,43.1L150.1,43.4L161.3,45.7L162.4,45.5L163.2,44.9L163.6,44.0L163.3,27.8L162.8,27.2L161.2,27.2L149.0,33.5L148.3,34.2L148.1,35.0ZM120.5,105.9L128.8,119.4L130.4,119.4L139.7,114.4L142.4,104.1L141.9,100.5L141.0,99.3L130.6,99.7L120.6,104.2L120.3,105.1ZM75.3,117.7L73.2,117.2L71.9,117.9L68.7,122.5L68.6,124.2L70.0,125.0L79.1,124.9L80.0,123.7L79.9,123.0L78.2,117.8L77.4,117.4Z" fill="#e4828c"/>
<path d="M23.9,9.5L25.1,8.7L25.3,7.9L25.2,-5.0L24.6,-6.2L22.2,-8.1L20.8,-7.9L7.2,2.5L6.6,3.3L6.6,4.3L8.7,10.1L9.7,11.1Z" fill="#e4848d"/>
<path d="M26.4,9.0L26.8,10.1L30.7,14.5L32.3,15.0L35.3,14.2L46.8,7.0L47.5,5.5L39.7,-6.7L27.7,-5.7L26.5,-4.8L26.3,-4.1ZM32.8,34.9L32.2,35.6L32.1,36.6L34.0,45.2L39.4,47.8L41.0,47.7L51.3,40.1L51.5,39.2L49.6,36.2L48.6,32.2L42.6,29.3L41.1,29.5Z" fill="#e27882"/>
<path d="M65.5,6.5L81.2,-3.7L81.4,-5.2L80.3,-6.2L62.2,-10.9L61.1,-10.0L54.6,4.9L55.4,6.2L59.5,8.3L60.9,8.4ZM77.5,107.5L78.3,113.3L79.7,114.0L89.9,113.0L100.5,106.4L101.2,104.9L100.9,101.3L93.3,94.7L91.9,94.4L78.0,106.1Z" fill="#e4818b"/>
<path d="M123.1,-1.6L122.6,-2.5L121.7,-2.9L106.1,-4.7L105.4,-4.6L104.4,-3.6L105.6,3.0L108.8,7.0L110.8,12.6L116.2,14.1L117.1,14.1L117.9,13.5L124.1,4.8Z" fill="#e47f89"/>
<path d="M124.3,-3.7L124.1,-2.6L125.1,3.1L125.9,4.3L145.7,5.2L146.7,5.0L147.3,4.2L151.0,-5.2L151.0,-6.2L150.5,-7.1L145.5,-11.1L144.5,-11.4L138.0,-11.4L125.4,-5.1ZM55.8,32.5L55.9,34.1L57.4,34.8L76.7,33.0L84.9,28.1L85.6,26.8L86.4,15.1L86.1,14.0L81.8,8.2L81.0,7.6L80.0,7.6L65.5,12.4Z" fill="#e5858e"/>
<path d="M25.5,10.6L10.3,12.5L9.7,14.1L11.0,15.3L21.4,17.5L22.8,17.5L27.7,16.2L28.8,15.2L28.5,13.6ZM-0.8,22.6L-1.2,23.9L-0.6,28.1L6.5,33.5L7.5,33.8L8.4,33.4L19.9,24.6L20.4,23.8L20.5,22.9L20.0,22.2L19.2,21.7L4.0,18.6L2.6,19.1ZM53.4,28.2L54.4,29.4L55.9,29.2L56.4,28.6L62.1,16.6L62.2,15.9L61.5,14.6L60.0,14.5L55.5,16.5L52.9,24.2ZM42.8,10.8L42.1,12.2L42.9,13.5L50.1,13.3L52.3,11.9L55.7,10.5L56.7,9.1L55.8,7.6L52.8,6.3L48.8,7.0ZM38.2,18.7L36.9,19.6L37.1,21.3L41.9,27.6L45.7,29.5L47.4,29.3L47.9,28.6L47.4,24.7L48.6,20.2L48.3,18.7L46.9,18.1Z" fill="#e5858f"/>
<path d="M113.4,21.4L114.5,22.5L115.3,22.5L116.9,21.4L117.4,20.0L116.7,15.7L113.8,14.7L113.0,14.7L111.9,15.9ZM104.2,13.3L88.2,15.0L87.4,16.2L86.8,26.5L87.0,27.4L87.7,28.0L102.1,34.0L107.5,29.6L108.0,28.5L108.3,22.2L105.5,13.8ZM113.9,84.4L115.3,84.1L115.9,83.3L123.7,67.8L123.9,66.9L123.5,66.1L122.8,65.5L109.7,68.6L108.5,69.8L106.9,77.9L106.7,82.4L107.9,83.3ZM112.3,58.6L109.9,60.3L109.8,61.2L110.1,62.0L110.9,62.5L114.3,61.9L115.4,60.9L115.2,59.5L113.8,58.6ZM99.9,70.6L100.6,71.9L101.3,72.2L102.1,72.1L103.0,70.9L103.6,67.3L102.2,65.4L100.7,65.5L100.1,66.0Z" fill="#e27781"/>
<path d="M139.0,27.3L139.9,27.1L140.5,26.3L147.6,8.7L147.4,7.1L146.1,6.4L125.2,5.7L118.4,14.7L118.1,15.8L118.8,20.5L131.7,27.1ZM129.4,121.3L128.9,124.0L129.4,124.8L130.4,125.0L155.6,125.0L156.5,124.7L157.1,123.9L158.2,119.0L156.9,117.9L148.3,116.6L146.0,117.0L144.1,116.0L140.9,115.6L139.9,115.7L129.9,120.9Z" fill="#e27a84"/>
<path d="M142.0,28.5L147.6,32.7L148.5,32.5L163.3,24.6L163.6,12.3L162.9,11.0L150.1,8.7L148.8,9.1L141.6,26.7L141.5,27.6ZM56.4,121.9L55.3,123.2L56.1,124.8L64.8,125.0L66.1,124.4L68.3,121.1L68.5,119.6L67.3,118.6L66.5,118.7Z" fill="#e37b86"/>
<path d="M36.4,51.0L37.8,50.1L37.9,49.3L37.0,47.9L36.1,47.8L34.8,48.8L34.7,49.7L35.6,50.9ZM12.1,42.7L10.9,43.6L10.9,45.1L19.7,51.4L20.7,51.7L28.0,51.3L28.8,51.1L29.4,50.3L28.2,44.1L23.0,41.6ZM2.3,74.9L3.7,74.4L13.3,64.3L10.2,53.0L8.1,49.4L6.8,48.6L-9.0,55.1L-11.4,64.1L-11.4,71.0L-10.7,72.5L-9.7,73.0ZM43.6,70.5L44.9,70.4L48.2,68.7L48.9,68.1L49.1,67.2L48.8,66.4L48.1,65.8L45.1,64.6L43.7,63.4L43.3,61.3L44.6,59.7L45.9,59.3L47.1,59.4L54.8,62.4L55.8,62.5L56.8,62.0L61.7,57.1L62.2,56.2L62.0,55.2L56.4,44.6L53.2,41.3L51.7,41.5L41.0,49.0L39.3,51.9L35.9,67.1L36.9,68.2ZM60.2,60.1L59.8,61.6L60.1,62.3L68.6,67.7L70.1,69.1L70.9,71.1L71.0,73.7L71.8,75.2L73.1,76.1L74.5,75.3L81.2,64.7L80.4,63.2L70.9,57.4L63.5,57.0ZM50.0,76.3L50.8,77.0L57.6,79.9L58.8,79.1L59.6,74.7L58.9,73.5L54.6,71.0L53.7,71.2L49.4,73.5L49.2,74.3ZM106.7,112.8L107.6,114.2L109.1,114.1L109.7,113.6L113.9,106.5L113.9,104.8L113.3,104.3L107.9,104.4L106.6,105.3ZM101.5,123.7L102.4,124.1L103.3,123.9L104.0,123.3L106.2,119.1L105.4,117.7L103.5,117.4L102.0,116.1L101.5,109.8L100.6,108.5L99.8,108.3L92.4,112.7L91.7,114.0L92.2,115.3ZM146.8,97.8L146.0,98.5L145.9,99.5L148.4,114.4L148.8,115.3L149.7,115.7L158.3,117.0L159.7,116.5L163.1,112.9L163.5,111.9L163.6,98.6L163.2,97.7L162.4,97.1L154.0,94.8L152.9,94.9ZM28.6,120.1L27.1,120.3L24.5,122.2L24.0,122.8L24.1,124.3L25.5,125.0L32.5,125.0L34.0,124.2L34.1,123.3L33.2,122.0Z" fill="#e37e88"/>
<path d="M129.4,27.2L118.2,22.0L117.4,22.4L113.8,25.5L113.3,26.6L112.5,37.9L111.4,47.5L111.8,48.8L112.6,49.4L114.1,49.2L118.4,45.8L130.3,28.7L130.1,27.8ZM103.4,34.6L102.9,35.9L103.2,39.0L104.4,40.7L105.2,41.2L106.1,41.2L106.8,40.7L107.2,39.9L107.6,34.5L107.4,33.6L106.8,33.0L105.8,32.8ZM29.4,52.6L24.2,52.9L23.6,53.6L23.5,55.6L22.2,56.6L21.0,56.3L16.6,53.2L15.6,53.0L12.5,53.4L11.9,54.2L11.9,55.1L14.8,63.9L27.6,66.6L29.1,66.0L30.7,55.9L30.3,53.7ZM91.9,92.3L92.2,87.9L91.1,86.9L76.7,84.0L75.3,84.4L74.8,85.8L77.2,103.1L78.8,103.7L79.6,103.3L91.3,93.3ZM69.4,87.7L69.1,86.9L67.4,86.4L66.3,87.7L64.1,101.1L64.8,102.7L69.8,106.0L70.7,105.7L71.3,105.1L71.5,104.2Z" fill="#e4808a"/>
<path d="M147.0,34.6L146.4,33.5L140.7,28.8L139.7,28.5L132.3,28.5L122.1,42.6L121.8,43.4L122.1,44.3L122.8,44.9L123.7,45.1L146.0,41.4L146.7,41.1L147.3,39.7ZM31.0,92.1L29.4,92.0L28.5,93.2L27.1,101.1L27.6,102.6L28.3,103.0L29.8,102.6L34.0,98.5L34.5,97.5L34.5,95.0ZM13.4,88.3L12.3,89.4L12.7,90.9L14.4,91.8L20.4,96.3L21.1,96.6L22.6,96.1L24.1,88.3L24.0,87.4L23.5,86.7L22.0,85.9L21.3,85.9ZM16.1,97.6L14.5,97.4L13.5,98.6L15.8,105.4L16.9,106.4L20.1,107.0L21.2,105.7L21.6,102.1ZM113.1,85.4L107.3,84.6L106.3,85.9L105.8,93.3L106.2,101.8L106.4,102.6L107.9,103.3L113.7,102.9L115.1,102.0L115.2,101.2L114.2,86.2ZM100.7,93.1L101.1,83.9L100.4,83.2L99.5,83.1L98.7,83.4L94.2,86.7L93.6,87.8L93.1,92.8L98.2,97.4L99.0,97.7L99.9,97.6L100.6,96.9L100.8,96.1ZM160.1,117.6L158.4,123.8L159.3,124.9L162.8,124.8L163.6,123.4L163.4,117.3L162.2,116.5L161.4,116.5Z" fill="#e37b85"/>
<path d="M91.9,47.1L91.1,48.5L91.8,49.8L102.7,57.3L104.3,57.4L104.9,56.9L106.4,44.8L102.9,41.0L101.5,41.1ZM84.7,61.3L84.8,62.8L86.0,63.6L98.7,65.0L99.9,64.6L100.7,63.2L99.8,61.7L89.0,54.7L88.1,54.9L87.5,55.6Z" fill="#e27983"/>
<path d="M-2.3,91.6L-1.5,90.2L-1.7,88.6L-0.9,87.3L0.3,87.1L3.7,87.9L4.9,86.8L3.1,77.2L2.6,76.3L1.8,75.9L-10.2,74.3L-11.2,75.4L-11.4,76.2L-11.2,94.8L-9.9,95.6L-9.1,95.4Z" fill="#e17681"/>
<path d="M29.4,88.3L29.4,89.3L30.0,90.1L34.0,93.0L35.5,93.2L48.5,78.0L48.9,77.1L48.4,75.6L47.0,74.7L46.2,74.9L34.3,79.8L31.8,80.4ZM36.1,69.0L35.1,69.0L34.3,69.5L33.9,70.3L33.8,73.3L35.0,74.3L38.9,73.0L39.8,71.8L39.4,70.4Z" fill="#e1757f"/>
<path d="M83.0,64.7L73.7,78.8L74.0,81.3L74.5,82.1L75.3,82.6L92.3,86.1L93.6,85.8L98.5,81.9L98.6,66.8L97.4,65.9Z" fill="#e48089"/>
<path d="M143.5,66.1L142.8,66.7L142.5,67.6L142.8,68.5L146.2,73.9L147.0,74.5L148.0,74.6L162.4,70.6L163.2,70.0L163.6,69.0L163.4,59.9L162.9,59.4L161.4,59.2Z" fill="#e5848e"/>
<path d="M-9.7,109.9L-11.2,110.7L-11.4,111.5L-11.2,124.2L-9.8,125.0L1.5,124.9L2.3,123.8L4.4,112.0L3.0,111.0Z" fill="#e27883"/>
<path d="M40.3,122.3L39.8,123.7L40.1,124.4L41.4,125.0L43.4,125.0L71.4,116.0L72.0,115.6L72.5,114.3L71.9,109.2L63.9,103.4L62.5,103.2L60.0,104.0Z" fill="#e4818a"/>
<path d="M107.0,125.0L126.6,124.9L127.5,123.9L128.1,121.6L127.9,120.4L118.8,105.2L117.7,104.4L116.7,104.5L116.0,105.2L105.6,122.6L105.6,124.2Z" fill="#e27681"/>
<path d="M-8.6,-11.2h0.01M-10.0,2.3h0.01M52.1,5.3h0.01M50.2,5.6h0.01M86.3,-6.5h0.01M75.8,-10.5h0.01M123.8,-6.0h0.01M153.0,-7.5h0.01M149.7,-10.0h0.01M-11.3,14.0h0.01M-2.1,14.7h0.01M26.8,10.1h0.01M26.3,-4.1h0.01M81.4,-5.2h0.01M81.4,-5.2h0.01M125.9,4.3h0.01M148.2,5.1h0.01M161.4,-9.6h0.01M-10.5,17.5h0.01M84.9,28.1h0.01M7.1,35.7h0.01M34.0,45.2h0.01M86.9,28.9h0.01M101.8,36.2h0.01M163.2,44.9h0.01M148.5,41.3h0.01M2.3,74.9h0.01M48.9,68.1h0.01M81.9,62.6h0.01M3.7,87.9h0.01M21.3,84.8h0.01M22.1,84.1h0.01M162.4,70.6h0.01M162.4,70.6h0.01M1.0,91.2h0.01M36.9,98.2h0.01M1.5,124.9h0.01M-11.4,111.5h0.01M26.7,117.8h0.01M56.0,106.0h0.01M25.6,111.4h0.01M71.9,109.2h0.01M40.3,122.3h0.01M139.7,114.4h0.01M27.1,120.3h0.01M32.5,125.0h0.01M73.2,117.2h0.01M128.1,121.6h0.01" stroke="#6e5f9e" stroke-width="1.5" stroke-linecap="round" opacity="0.8"/>
</g></g>
<text x="132.80" y="99.20" font-size="8.2" font-style="italic" text-anchor="middle" fill="#111" stroke="#111" stroke-width="0.25">100 µm</text>
<line x1="118.80" y1="105.00" x2="145.70" y2="105.00" stroke="#1a1a1a" stroke-width="1.3"/>
<line x1="118.80" y1="102.00" x2="118.80" y2="108.00" stroke="#1a1a1a" stroke-width="1.2"/>
<line x1="145.70" y1="102.00" x2="145.70" y2="108.00" stroke="#1a1a1a" stroke-width="1.2"/>
<line x1="151.80" y1="0.00" x2="151.80" y2="114.00" stroke="#A6C8E8" stroke-width="0.9"/>
<line x1="0.00" y1="113.50" x2="152.10" y2="113.50" stroke="#A6C8E8" stroke-width="1.0"/>
</g>
<text x="315.60" y="397.23" font-size="9.3" font-weight="normal" text-anchor="middle" fill="#000" stroke="#000" stroke-width="0.18">OVX/AI+LIV/ZA</text>
<g transform="translate(239.6,401.7)">
<rect x="0" y="0" width="151.40" height="113.60" fill="#E8818B"/>
<g style="filter:blur(0.35px)"><clipPath id="cp4"><rect x="0" y="0" width="151.40" height="113.60"/></clipPath><rect x="0" y="0" width="151.40" height="113.60" fill="#fcf4f6"/><g clip-path="url(#cp4)">
<path d="M-11.5,-5.8L-10.9,-4.8L-10.2,-4.6L10.4,-7.0L13.9,-9.4L14.4,-10.4L13.8,-11.4L13.2,-11.5L-10.3,-11.5L-10.9,-11.4L-11.5,-10.3ZM148.9,20.8L162.2,16.0L162.9,14.9L162.8,13.5L143.3,4.6L138.8,4.9L138.2,5.8L137.0,11.7L135.1,16.7L135.4,18.0ZM129.9,17.2L131.3,16.4L133.5,10.7L134.0,7.1L133.0,6.4L131.9,6.9L126.3,15.3L126.7,16.4ZM154.4,76.0L133.4,78.3L121.1,80.7L120.5,81.0L120.2,82.2L121.2,83.1L138.7,85.4L155.0,78.3L155.8,77.3L155.6,76.6ZM150.2,70.6L151.2,69.7L151.2,69.1L150.3,68.2L144.3,67.1L143.6,67.1L142.8,68.1L144.3,71.0ZM135.9,69.8L135.2,70.8L135.9,71.9L138.5,71.8L139.5,71.2L139.5,70.1L138.8,69.1L137.7,69.0Z" fill="#e9858f"/>
<path d="M19.3,1.8L20.2,2.2L20.9,2.1L41.5,-9.3L41.9,-9.7L41.9,-10.9L40.9,-11.5L18.2,-11.3L12.7,-7.4L12.2,-6.2ZM89.3,87.2L82.0,89.1L78.4,93.4L78.4,94.9L84.9,97.7L95.2,95.7L110.1,87.8L110.7,86.7L110.0,85.6L109.4,85.5ZM139.3,86.1L138.7,86.9L137.7,90.1L137.9,91.2L138.9,91.7L162.4,89.8L162.9,88.8L162.8,78.1L161.8,77.5L159.1,77.6Z" fill="#e9858e"/>
<path d="M68.6,-4.7L74.7,-9.4L75.1,-9.9L75.0,-11.0L74.0,-11.5L59.5,-11.5L58.4,-10.9L58.5,-9.7L58.9,-9.3L67.0,-4.7ZM16.3,53.9L17.1,53.0L18.4,46.8L18.0,45.6L1.0,43.0L-11.3,47.8L-11.4,61.7L-10.6,62.4L-10.0,62.3Z" fill="#e8848d"/>
<path d="M10.6,-6.0L-11.0,-3.5L-11.5,-2.5L-11.5,9.2L-11.4,9.8L-10.4,10.4L-5.5,10.7L16.9,3.1L17.7,2.2L17.4,1.1ZM79.3,-0.4L79.8,-2.6L78.7,-3.4L69.0,-3.8L67.3,-3.5L60.4,0.1L59.8,1.2L60.5,2.2L61.1,2.3L78.3,0.5ZM42.0,11.3L42.2,12.3L43.2,12.7L75.5,9.9L76.5,9.1L77.0,7.0L76.0,5.7L74.9,5.3L51.5,7.6L43.0,9.8L42.4,10.1ZM45.6,30.9L52.1,28.0L53.2,21.4L43.1,13.8L41.6,13.4L29.1,19.1L21.2,27.3L21.3,28.0L22.3,28.7ZM112.4,30.9L111.2,31.0L110.9,31.6L111.1,32.8L117.8,40.8L119.4,40.7L121.9,36.2L121.8,34.9ZM86.3,41.8L87.0,42.7L87.5,42.8L110.3,41.4L111.3,40.6L111.4,40.0L107.1,34.8L100.3,29.8L85.6,34.7L85.2,35.7ZM139.4,54.8L140.2,55.7L140.9,55.7L160.5,50.4L161.2,49.9L162.9,46.8L162.7,36.7L161.4,36.2L156.1,37.8L155.7,38.8L157.4,40.8L157.7,42.2L157.2,43.5L156.2,44.4L138.5,45.6L138.0,46.8ZM131.6,55.0L132.7,55.8L134.3,55.9L135.5,55.2L134.2,46.6L133.5,45.7L133.0,45.6L129.6,45.8L129.0,45.9L128.4,46.9ZM61.8,69.3L61.5,68.1L60.3,67.8L42.1,74.3L41.3,75.2L41.3,75.8L42.2,76.6L64.8,81.6L79.6,77.7L80.5,76.7L80.0,75.5L68.7,68.7L66.6,68.2L66.0,68.2L65.2,69.0L63.3,74.1L62.7,74.6L61.4,74.5L60.7,73.8L60.6,72.9ZM18.8,91.6L20.2,92.2L27.7,90.1L28.2,84.2L27.0,83.6L16.9,85.4L16.5,86.9ZM-7.9,98.2L-6.5,98.8L14.4,93.6L15.3,92.6L15.2,91.9L12.1,86.3L1.1,87.8L-9.9,92.5L-10.0,93.7Z" fill="#e8818b"/>
<path d="M64.4,-3.0L65.0,-4.0L64.4,-5.1L53.4,-11.4L47.7,-11.5L24.3,1.2L23.7,2.4L24.6,3.4L36.7,6.9L52.7,3.1ZM-2.6,43.4L-1.9,42.7L-2.7,39.9L-1.9,38.1L0.2,37.3L5.6,38.0L6.1,37.6L6.6,36.1L6.1,34.9L-10.9,33.1L-11.5,34.2L-11.4,45.6L-11.0,46.0L-9.9,46.1ZM59.6,40.9L58.8,41.9L59.4,43.0L66.6,43.4L84.2,42.9L84.9,42.7L85.4,41.5L84.3,35.8L83.7,34.9L77.2,34.6ZM74.7,49.3L73.9,50.9L74.0,51.4L74.9,52.1L79.8,50.8L80.6,49.8L80.5,49.1L79.4,48.5L75.7,48.6ZM60.4,51.7L59.5,52.7L59.9,53.8L66.6,54.8L68.4,53.9L70.0,50.8L69.8,50.1L68.5,49.7ZM-9.3,97.4L-10.3,96.7L-11.4,97.3L-11.5,99.7L-10.8,100.8L-9.5,100.6L-8.6,99.4Z" fill="#e77a85"/>
<path d="M80.7,-4.2L97.6,-6.2L100.4,-9.6L100.5,-10.9L99.4,-11.5L79.2,-11.5L78.5,-11.3L72.4,-6.2L72.5,-5.1L73.5,-4.6ZM99.0,20.4L97.7,20.7L97.5,21.9L103.9,27.0L105.1,27.2L107.2,24.8L107.4,23.7L106.6,22.9ZM84.3,33.9L97.3,29.7L98.1,28.8L97.6,27.6L89.6,21.6L86.5,17.7L85.6,17.2L71.4,24.0L70.8,25.1L77.2,33.6ZM127.7,119.5L116.4,123.2L116.2,124.5L117.3,125.1L144.2,125.1L145.2,124.7L145.5,124.0L145.4,123.3L144.5,122.5Z" fill="#e67983"/>
<path d="M102.7,-4.7L120.1,-8.8L121.0,-9.4L121.5,-10.4L121.4,-11.0L120.3,-11.5L103.1,-11.4L99.5,-6.8L99.8,-5.7ZM76.9,95.4L63.5,97.4L43.3,110.9L42.8,112.1L43.1,112.7L44.9,114.1L68.4,113.2L76.3,110.8L77.0,110.3L83.4,98.9L82.6,97.9Z" fill="#e77e88"/>
<path d="M137.9,-5.1L138.8,-5.2L145.5,-9.3L146.1,-10.4L146.0,-11.0L144.9,-11.5L126.0,-11.5L123.4,-9.7L123.7,-8.4L124.2,-8.1ZM90.0,12.7L89.3,13.9L89.6,14.5L91.7,17.0L108.6,22.6L109.5,22.6L124.1,16.4L130.3,7.3L130.2,6.6L129.1,6.0L104.0,6.4Z" fill="#ea8a93"/>
<path d="M-6.0,12.6L-7.1,11.5L-10.3,11.3L-11.4,11.9L-11.5,21.3L-10.9,22.3L-9.7,22.2L-5.3,19.0ZM69.1,24.0L84.1,16.8L84.6,16.3L84.5,15.0L82.6,12.5L81.5,11.7L76.4,10.7L47.4,13.3L46.5,13.9L46.5,15.0L46.8,15.4L52.6,19.4L53.7,19.0L54.6,16.6L56.2,16.5L56.9,17.8L56.4,22.2L59.3,24.5L60.1,24.8ZM143.1,105.2L143.5,104.3L143.1,103.3L133.5,96.3L118.4,100.4L109.8,105.6L109.2,106.7L110.0,107.7L129.8,115.0Z" fill="#e77a84"/>
<path d="M19.6,16.1L18.8,16.9L18.9,18.0L19.4,18.3L28.3,18.3L39.8,13.0L40.4,12.1L40.4,11.5L39.5,10.8L39.0,10.8ZM-4.5,17.4L-3.8,18.3L-2.7,18.3L-1.6,16.3L-0.6,15.7L17.3,12.3L30.7,8.5L31.5,7.7L31.5,7.1L30.7,6.2L20.8,3.2L19.3,3.2L-4.3,11.2L-5.1,12.5ZM44.1,48.2L20.1,45.9L19.4,46.7L18.1,52.5L18.5,53.7L32.1,56.6L36.3,55.8L43.5,53.3L50.0,50.6L50.7,49.6L50.6,49.0L49.6,48.3ZM43.9,42.7L45.0,42.4L45.6,40.8L45.1,39.8L44.6,39.6L41.1,39.0L38.4,39.9L37.6,40.8L37.6,41.5L38.6,42.2ZM6.2,73.9L7.1,73.4L7.8,72.0L8.5,71.6L9.7,71.7L10.8,73.0L11.8,73.3L20.0,72.0L20.7,71.6L23.9,67.4L24.1,66.3L23.8,65.8L22.7,65.5L0.4,71.1L-0.9,70.9L-1.8,70.2L-2.3,68.4L-1.8,67.3L-0.5,66.5L21.5,61.0L27.5,58.9L28.3,58.0L27.9,56.8L17.0,54.6L-9.7,63.4L-11.5,71.4L-11.5,73.6L-10.9,74.7ZM109.5,64.6L102.1,70.8L101.7,72.0L102.1,72.6L115.4,75.8L123.5,74.2L137.3,68.2L137.9,67.4L136.2,57.8L135.1,56.8L131.4,56.7Z" fill="#e87f89"/>
<path d="M80.6,-1.5L80.8,-0.4L81.8,0.1L94.9,0.3L101.6,-0.2L102.6,-0.9L102.7,-1.5L102.4,-3.7L97.6,-5.2L82.0,-3.4L81.3,-3.2ZM83.6,4.4L82.6,4.9L82.4,5.9L82.7,6.4L87.3,11.5L88.6,12.1L101.6,6.4L102.3,5.4L102.1,4.7L101.0,4.1L95.0,4.6ZM69.5,113.8L68.8,114.5L64.8,123.5L64.7,124.0L65.3,125.0L88.9,125.1L95.3,122.9L96.1,121.9L91.6,112.9L90.6,112.3L77.3,111.5Z" fill="#e98790"/>
<path d="M134.7,-2.3L135.8,-2.0L136.5,-2.4L137.0,-3.6L136.6,-4.2L135.3,-4.7L134.2,-4.3L134.0,-3.1ZM133.4,1.1L113.6,3.2L113.1,4.2L113.7,5.2L114.3,5.3L132.0,5.0L133.6,4.5L134.2,3.9L134.8,2.1L134.0,1.1ZM132.0,-3.1L133.0,-3.9L133.1,-4.5L132.2,-5.4L120.8,-8.0L104.4,-4.0L103.5,-2.8L103.8,-1.0L104.9,-0.5ZM145.8,26.2L144.8,26.1L134.8,30.5L134.5,31.5L134.8,32.9L136.4,39.1L137.1,39.9L144.5,39.7L159.5,35.8L160.3,35.0L160.4,34.5L159.8,33.6ZM123.8,35.0L121.5,38.9L121.5,40.1L122.0,40.6L131.4,40.3L132.5,39.5L131.1,33.5L130.2,32.5ZM60.9,66.6L61.6,65.9L65.1,57.1L64.8,55.8L53.5,54.3L45.2,57.7L28.2,63.6L22.5,70.8L22.3,71.9L23.1,72.6L34.2,75.9Z" fill="#e8808a"/>
<path d="M139.1,-4.4L138.5,-2.9L139.4,-0.9L138.9,3.1L140.1,3.8L143.1,3.6L162.1,-1.8L162.9,-3.0L162.8,-10.9L161.8,-11.5L150.6,-11.4ZM32.1,78.1L32.2,77.0L31.5,76.2L20.9,72.9L12.7,74.1L11.7,75.0L14.9,83.7L15.5,84.3L16.2,84.5L28.3,82.5L29.0,82.0ZM3.3,84.5L3.3,85.8L4.5,86.4L11.0,85.1L11.3,83.8L8.9,78.4L7.7,78.3L7.2,78.7ZM141.0,56.6L140.1,57.5L140.2,58.2L143.1,65.8L159.3,69.0L162.8,67.2L162.9,52.4L162.4,51.4L161.1,51.2ZM82.7,79.4L82.2,78.4L81.2,78.2L65.4,82.5L60.6,84.8L60.1,85.2L60.0,86.3L60.3,86.8L61.4,87.0L81.7,82.9L82.5,82.3ZM63.3,96.3L76.0,94.4L78.7,91.7L78.9,90.5L78.1,89.7L77.5,89.7L67.2,91.7L60.1,93.6L59.8,94.2L60.1,95.3ZM-9.5,102.8L-10.5,102.5L-11.1,102.7L-11.5,103.7L-11.5,112.3L-11.0,113.3L-10.4,113.5L-4.2,110.4L-3.5,109.5L-3.9,108.5ZM135.9,92.2L137.5,87.7L137.1,86.5L120.4,83.9L117.4,84.8L99.9,94.2L99.3,95.2L99.7,96.2L100.3,96.4L104.4,97.1L110.3,91.7L124.0,87.2L124.9,87.2L125.8,88.0L125.9,89.4L125.3,90.1L112.2,94.6L109.9,96.9L110.3,98.1L118.3,99.5L133.0,95.4ZM62.3,125.1L63.4,124.4L67.2,115.9L67.1,114.7L66.6,114.3L44.6,115.0L33.0,123.0L32.5,124.0L32.6,124.6L33.7,125.1Z" fill="#e77b85"/>
<path d="M24.6,19.3L-4.8,19.9L-11.4,24.8L-11.5,30.9L-11.0,31.9L7.6,33.8L18.7,28.3L25.5,21.3L25.8,20.3L25.2,19.4ZM35.3,92.7L38.7,92.4L46.1,90.8L60.7,83.8L61.3,82.8L61.3,82.3L60.4,81.5L36.8,76.3L34.5,76.8L29.7,82.7L28.9,89.5L29.7,90.7Z" fill="#e77d87"/>
<path d="M161.3,11.7L162.4,11.6L162.9,10.6L162.9,0.5L162.5,-0.5L161.4,-0.7L147.6,3.3L146.8,4.0L146.7,4.6L147.4,5.5Z" fill="#e87e89"/>
<path d="M40.6,38.2L44.1,33.4L44.2,32.3L43.8,31.8L19.2,29.4L8.3,34.5L7.7,35.3L7.3,37.0L7.7,38.2L8.3,38.5L30.2,41.4Z" fill="#e77983"/>
<path d="M56.4,40.9L74.7,34.5L75.4,33.7L75.4,33.2L69.1,25.1L59.5,25.8L55.4,27.8L54.5,31.6L50.5,38.7L50.6,39.3L51.5,40.0ZM45.9,38.9L47.2,38.3L50.9,32.1L50.9,30.9L50.5,30.5L49.4,30.4L46.6,31.6L43.1,36.7L43.0,37.8L43.3,38.3Z" fill="#ea8993"/>
<path d="M144.9,25.1L147.1,22.7L146.8,21.5L146.2,21.2L134.7,19.1L133.9,19.8L133.0,22.1L133.9,28.1L134.9,29.1ZM109.6,23.5L107.3,26.1L107.1,26.6L107.3,27.6L122.6,34.1L123.5,34.1L129.8,31.4L130.5,30.7L129.2,22.3L130.1,18.8L129.2,17.9L124.4,17.2Z" fill="#e67883"/>
<path d="M161.2,33.3L162.4,33.2L162.9,32.2L162.9,18.4L162.4,17.4L161.3,17.3L149.8,21.7L147.2,24.1L146.9,25.2L147.5,26.0Z" fill="#e98690"/>
<path d="M68.4,67.6L95.3,59.2L95.6,58.1L93.4,49.8L92.4,49.4L87.1,49.5L72.3,54.0L71.6,54.5L68.1,60.5L66.3,65.8L66.6,67.1Z" fill="#e77c87"/>
<path d="M103.1,60.5L103.8,61.8L109.5,63.6L129.8,56.3L130.4,56.0L130.5,54.7L126.7,46.1L105.2,47.1L104.2,47.6L104.0,48.2ZM98.7,48.3L94.9,49.2L94.6,50.4L96.6,58.5L97.5,59.4L98.2,59.3L99.0,58.3L99.5,49.0ZM100.8,67.8L101.1,69.0L102.2,69.3L102.8,69.1L106.7,65.7L107.1,64.6L106.8,64.1L103.7,62.7L102.5,63.0ZM96.8,60.1L72.3,67.5L71.5,68.5L71.6,69.1L83.5,76.5L93.7,73.7L94.5,73.0L95.6,70.3L98.2,61.8L97.9,60.7Z" fill="#e77984"/>
<path d="M-10.4,75.7L-11.4,76.3L-11.5,76.9L-11.5,90.2L-11.0,91.2L-10.5,91.4L0.8,86.8L7.7,76.0L7.5,75.4L6.4,74.8ZM-1.6,110.2L-11.4,115.4L-11.5,123.9L-10.9,125.0L1.4,125.0L12.3,111.8L11.8,110.7L11.2,110.5Z" fill="#e98892"/>
<path d="M97.4,77.3L97.6,78.5L98.8,78.9L107.4,77.3L108.3,76.5L108.3,75.8L107.4,74.9L99.6,73.2L98.8,73.9ZM84.5,77.2L83.6,78.3L83.6,81.0L84.0,81.9L85.0,82.2L91.4,80.5L93.0,76.2L92.8,75.6L91.5,75.2Z" fill="#e9848e"/>
<path d="M159.8,75.3L160.4,76.4L161.0,76.6L162.3,76.5L162.8,76.0L162.9,70.3L162.4,69.3L161.2,69.3L160.4,69.9Z" fill="#e98791"/>
<path d="M19.0,94.2L19.0,95.5L20.2,96.0L30.0,94.1L30.6,93.9L31.0,92.8L30.2,91.8L27.9,91.2L20.0,93.2ZM-2.6,100.7L-2.8,99.5L-4.0,99.1L-7.7,100.2L-8.8,101.4L-8.8,102.0L-2.1,108.9L-1.3,109.3L14.4,109.6L22.7,107.8L27.3,102.4L27.0,101.3L25.9,101.0L0.2,104.9L-1.3,104.6L-2.4,103.6L-2.9,102.2ZM146.5,123.7L147.0,124.9L147.6,125.1L162.3,125.0L162.9,123.9L162.8,119.3L161.4,118.6L147.4,122.6Z" fill="#e98891"/>
<path d="M54.4,95.0L31.0,100.0L25.5,106.2L25.3,107.4L26.2,108.2L40.9,111.0L41.8,110.8L60.6,98.0L60.7,97.3L59.8,96.4Z" fill="#e77d88"/>
<path d="M23.6,108.6L14.6,110.8L4.3,123.2L4.1,124.5L5.2,125.1L27.9,125.1L42.7,114.7L42.5,113.5L40.8,111.9ZM162.9,101.4L162.5,100.4L161.4,100.3L153.1,102.8L152.3,103.7L152.3,104.3L153.1,105.1L161.9,107.9L162.8,107.2L162.9,106.7Z" fill="#e98992"/>
<path d="M108.4,98.8L107.4,99.1L103.6,102.8L102.3,105.8L102.5,107.1L103.8,107.4L106.6,106.5L114.5,101.5L114.5,100.4L114.2,100.0ZM95.7,96.6L84.9,98.7L78.8,108.9L78.8,110.1L79.8,110.7L91.3,111.4L97.1,109.5L100.4,101.4L102.0,99.6L102.3,98.4L101.4,97.6Z" fill="#e77c86"/>
<path d="M136.4,93.1L134.8,95.2L135.3,96.4L144.8,103.5L145.7,103.8L148.0,103.4L162.1,99.1L162.9,98.0L162.9,92.1L162.8,91.5L161.7,90.9L137.2,92.7Z" fill="#e8828b"/>
<path d="M96.1,113.8L95.5,111.6L95.0,111.4L93.6,111.7L92.8,112.7L97.2,121.6L98.2,122.3L115.0,122.5L126.7,118.7L128.4,116.6L127.6,115.3L107.0,107.6L101.0,109.4L99.2,113.6L98.4,114.5L96.7,114.4Z" fill="#e77b86"/>
<path d="M145.6,104.7L130.3,115.9L129.1,117.7L129.5,118.8L146.5,121.9L162.7,117.1L162.9,110.2L162.1,109.0L148.3,104.5Z" fill="#e8838d"/>
<path d="M-10.9,-4.8h0.01M-11.5,-5.8h0.01M12.7,-7.4h0.01M58.4,-10.9h0.01M10.6,-6.0h0.01M53.4,-11.4h0.01M65.0,-4.0h0.01M79.2,-11.5h0.01M72.4,-6.2h0.01M123.7,-8.4h0.01M-5.3,19.0h0.01M45.6,30.9h0.01M56.9,17.8h0.01M6.1,37.6h0.01M7.7,38.2h0.01M21.5,61.0h0.01M64.8,55.8h0.01M61.6,65.9h0.01M41.3,75.2h0.01M62.7,74.6h0.01M140.2,58.2h0.01M-10.3,96.7h0.01M-10.8,100.8h0.01M26.2,108.2h0.01M95.2,95.7h0.01M117.4,84.8h0.01M139.3,86.1h0.01M159.1,77.6h0.01M1.4,125.0h0.01M14.6,110.8h0.01M129.8,115.0h0.01M135.3,96.4h0.01M96.1,121.9h0.01M107.0,107.6h0.01M126.7,118.7h0.01M162.9,106.7h0.01M153.1,102.8h0.01" stroke="#6e5f9e" stroke-width="1.5" stroke-linecap="round" opacity="0.8"/>
</g></g>
<text x="132.10" y="99.20" font-size="8.2" font-style="italic" text-anchor="middle" fill="#111" stroke="#111" stroke-width="0.25">100 µm</text>
<line x1="118.10" y1="105.00" x2="145.00" y2="105.00" stroke="#1a1a1a" stroke-width="1.3"/>
<line x1="118.10" y1="102.00" x2="118.10" y2="108.00" stroke="#1a1a1a" stroke-width="1.2"/>
<line x1="145.00" y1="102.00" x2="145.00" y2="108.00" stroke="#1a1a1a" stroke-width="1.2"/>
<line x1="151.10" y1="0.00" x2="151.10" y2="114.00" stroke="#A6C8E8" stroke-width="0.9"/>
<line x1="0.00" y1="113.50" x2="151.40" y2="113.50" stroke="#A6C8E8" stroke-width="1.0"/>
</g>
</svg></body></html>
